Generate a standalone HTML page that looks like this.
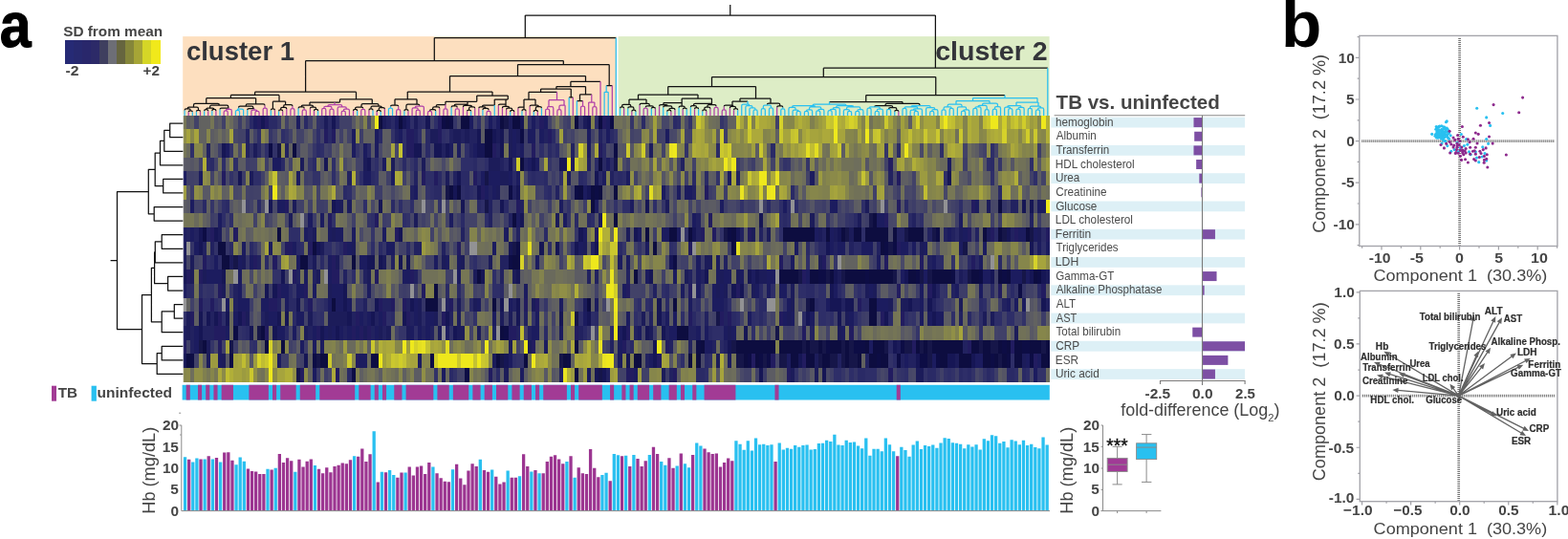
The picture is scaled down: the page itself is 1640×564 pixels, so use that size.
<!DOCTYPE html>
<html lang="en"><head><meta charset="utf-8"><title>Figure: clustering of laboratory parameters, TB vs. uninfected</title>
<style>html,body{margin:0;padding:0;background:#fff}body{width:1640px;height:564px;overflow:hidden}svg{display:block}text{font-family:"Liberation Sans",sans-serif;fill:#454545}.b{font-weight:bold}.d{fill:none;stroke:#111;stroke-width:1.25;stroke-linejoin:round}.dc{fill:none;stroke:#29c0f0;stroke-width:1.25;stroke-linejoin:round}.dm{fill:none;stroke:#b040a8;stroke-width:1.25;stroke-linejoin:round}.ax{fill:none;stroke:#8a8a8a;stroke-width:1}</style></head><body>
<svg width="1640" height="564" viewBox="0 0 1640 564" role="img" aria-label="Heat map of laboratory parameters with hierarchical clustering, haemoglobin bar chart and principal component plots">
<rect width="1640" height="564" fill="#fff"/>
<text class="b" style="fill:#000" font-size="66" transform="translate(-0.27 49) scale(0.8949 1)" xml:space="preserve" stroke="#000" stroke-width="1.1" stroke-linejoin="round">a</text>
<text class="b" style="fill:#000" font-size="69" transform="translate(1339.9 49.4) scale(1.0044 1)" xml:space="preserve">b</text>
<text class="b" font-size="15" transform="translate(66.14 38) scale(1.0244 1)" xml:space="preserve">SD from mean</text>
<g shape-rendering="crispEdges">
<rect x="68" y="42.3" width="9.65" height="24.2" fill="#262a75"/>
<rect x="77.05" y="42.3" width="9.65" height="24.2" fill="#27296f"/>
<rect x="86.09" y="42.3" width="9.65" height="24.2" fill="#29276b"/>
<rect x="95.14" y="42.3" width="9.65" height="24.2" fill="#2c2a68"/>
<rect x="104.18" y="42.3" width="9.65" height="24.2" fill="#3f3f5f"/>
<rect x="113.23" y="42.3" width="9.65" height="24.2" fill="#6d6e76"/>
<rect x="122.27" y="42.3" width="9.65" height="24.2" fill="#66653f"/>
<rect x="131.32" y="42.3" width="9.65" height="24.2" fill="#85863a"/>
<rect x="140.36" y="42.3" width="9.65" height="24.2" fill="#a6a536"/>
<rect x="149.41" y="42.3" width="9.65" height="24.2" fill="#d5d627"/>
<rect x="158.45" y="42.3" width="9.05" height="24.2" fill="#f1e91b"/>
</g>
<text class="b" font-size="14.6" transform="translate(68.57 79) scale(1.0824 1)" xml:space="preserve">-2</text>
<text class="b" font-size="14.6" transform="translate(149.59 79) scale(1.0468 1)" xml:space="preserve">+2</text>
<rect x="191.2" y="38.1" width="453.6" height="83" fill="#fddfbf"/>
<rect x="646.6" y="38.1" width="451" height="83" fill="#ddedc6"/>
<text class="b" style="fill:#34353a" font-size="27.6" transform="translate(194.9 62.8) scale(0.9969 1)" xml:space="preserve">cluster 1</text>
<text class="b" style="fill:#34353a" font-size="27.6" transform="translate(978.16 62.8) scale(1.0357 1)" xml:space="preserve">cluster 2</text>
<defs><filter id="hb" x="-1%" y="-2%" width="102%" height="104%"><feGaussianBlur stdDeviation="0.75 0.55"/></filter></defs>
<g stroke="none" filter="url(#hb)" shape-rendering="crispEdges">
<path fill="#747457" d="M191.1 120.6H195.2V135.3H191.1zM219.8 120.6H223.9V135.3H219.8zM580.8 120.6H584.9V135.3H580.8zM654.6 120.6H658.7V135.3H654.6zM937.6 120.6H941.7V135.3H937.6zM191.1 150H195.2V164.7H191.1zM859.7 150H863.8V164.7H859.7zM892.5 150H896.6V164.7H892.5zM1044.3 150H1048.4V164.7H1044.3zM716.1 164.7H720.2V179.3H716.1zM855.6 164.7H859.7V179.3H855.6zM355.2 179.3H359.3V194H355.2zM671 179.3H675.1V194H671zM835.1 179.3H839.2V194H835.1zM958.1 179.3H962.2V194H958.1zM1015.6 179.3H1019.7V194H1015.6zM273.1 194H277.2V208.7H273.1zM334.7 194H342.9V208.7H334.7zM888.4 194H892.5V208.7H888.4zM900.7 194H904.8V208.7H900.7zM1007.4 194H1011.5V208.7H1007.4zM326.5 208.7H330.6V223.4H326.5zM383.9 208.7H388V223.4H383.9zM630 208.7H634.1V223.4H630zM716.1 208.7H720.2V223.4H716.1zM191.1 223.4H199.3V238.1H191.1zM256.7 223.4H260.8V238.1H256.7zM416.7 223.4H420.8V238.1H416.7zM560.3 223.4H564.4V238.1H560.3zM679.2 223.4H683.3V238.1H679.2zM781.8 223.4H790V238.1H781.8zM831 223.4H835.1V238.1H831zM982.7 223.4H986.9V238.1H982.7zM1060.7 223.4H1064.8V238.1H1060.7zM240.3 238.1H244.4V252.8H240.3zM264.9 238.1H269V252.8H264.9zM273.1 238.1H277.2V252.8H273.1zM293.6 238.1H297.7V252.8H293.6zM371.6 238.1H375.7V252.8H371.6zM424.9 238.1H429V252.8H424.9zM465.9 238.1H470V252.8H465.9zM576.7 238.1H580.8V252.8H576.7zM613.6 238.1H617.7V252.8H613.6zM736.6 238.1H740.7V252.8H736.6zM519.2 252.8H523.3V267.4H519.2zM556.2 252.8H560.3V267.4H556.2zM695.6 252.8H699.7V267.4H695.6zM839.2 252.8H843.3V267.4H839.2zM1048.4 252.8H1052.5V267.4H1048.4zM273.1 267.4H277.2V282.1H273.1zM306 267.4H310.1V282.1H306zM679.2 267.4H683.3V282.1H679.2zM851.5 267.4H855.6V282.1H851.5zM867.9 267.4H872V282.1H867.9zM900.7 267.4H904.8V282.1H900.7zM933.5 267.4H937.6V282.1H933.5zM991 267.4H995.1V282.1H991zM273.1 282.1H277.2V296.8H273.1zM322.4 282.1H326.5V296.8H322.4zM388 282.1H392.1V296.8H388zM396.2 282.1H400.3V296.8H396.2zM461.8 282.1H465.9V296.8H461.8zM617.7 282.1H621.8V296.8H617.7zM658.7 282.1H662.8V296.8H658.7zM699.7 282.1H703.8V296.8H699.7zM740.7 282.1H744.8V296.8H740.7zM203.4 296.8H207.5V311.5H203.4zM256.7 296.8H260.8V311.5H256.7zM470 296.8H474.1V311.5H470zM605.4 296.8H609.5V311.5H605.4zM1015.6 296.8H1019.7V311.5H1015.6zM593.1 311.5H597.2V326.2H593.1zM1007.4 311.5H1011.5V326.2H1007.4zM552.1 326.2H556.2V340.9H552.1zM589 326.2H593.1V340.9H589zM933.5 326.2H937.6V340.9H933.5zM494.6 340.9H498.7V355.5H494.6zM814.6 340.9H818.7V355.5H814.6zM904.8 340.9H908.9V355.5H904.8zM925.3 340.9H929.4V355.5H925.3zM933.5 340.9H937.6V355.5H933.5zM978.6 340.9H986.9V355.5H978.6zM351.1 355.5H355.2V370.2H351.1zM375.7 355.5H379.8V370.2H375.7zM666.9 355.5H671V370.2H666.9zM306 370.2H310.1V384.9H306zM580.8 370.2H584.9V384.9H580.8zM765.4 370.2H769.5V384.9H765.4zM269 384.9H273.1V399.6H269zM383.9 384.9H388V399.6H383.9zM539.8 384.9H543.9V399.6H539.8z"/>
<path fill="#5c5c64" d="M195.2 120.6H199.3V135.3H195.2zM228 120.6H232.1V135.3H228zM252.6 120.6H256.7V135.3H252.6zM301.8 120.6H306V135.3H301.8zM375.7 120.6H379.8V135.3H375.7zM502.8 120.6H506.9V135.3H502.8zM576.7 120.6H580.8V135.3H576.7zM666.9 120.6H671V135.3H666.9zM675.1 120.6H679.2V135.3H675.1zM699.7 120.6H703.8V135.3H699.7zM949.9 120.6H954V135.3H949.9zM219.8 135.3H223.9V150H219.8zM260.8 135.3H264.9V150H260.8zM289.5 135.3H293.6V150H289.5zM359.3 135.3H363.4V150H359.3zM502.8 135.3H506.9V150H502.8zM605.4 135.3H613.6V150H605.4zM679.2 135.3H683.3V150H679.2zM937.6 135.3H941.7V150H937.6zM314.2 150H322.4V164.7H314.2zM347 150H351.1V164.7H347zM359.3 150H363.4V164.7H359.3zM404.4 150H408.5V164.7H404.4zM601.3 150H605.4V164.7H601.3zM675.1 150H679.2V164.7H675.1zM790 150H794.1V164.7H790zM802.3 150H806.4V164.7H802.3zM880.2 150H884.3V164.7H880.2zM970.4 150H974.5V164.7H970.4zM1019.7 150H1023.8V164.7H1019.7zM203.4 164.7H207.5V179.3H203.4zM248.5 164.7H256.7V179.3H248.5zM281.3 164.7H285.4V179.3H281.3zM318.3 164.7H322.4V179.3H318.3zM334.7 164.7H338.8V179.3H334.7zM351.1 164.7H355.2V179.3H351.1zM457.7 164.7H461.8V179.3H457.7zM465.9 164.7H470V179.3H465.9zM474.1 164.7H478.2V179.3H474.1zM679.2 164.7H683.3V179.3H679.2zM687.4 164.7H691.5V179.3H687.4zM790 164.7H794.1V179.3H790zM293.6 179.3H297.7V194H293.6zM396.2 179.3H404.4V194H396.2zM424.9 179.3H429V194H424.9zM744.8 179.3H748.9V194H744.8zM925.3 179.3H929.4V194H925.3zM1003.3 179.3H1007.4V194H1003.3zM1032 179.3H1036.1V194H1032zM1040.2 179.3H1044.3V194H1040.2zM1064.8 179.3H1068.9V194H1064.8zM1085.3 179.3H1089.4V194H1085.3zM293.6 194H297.7V208.7H293.6zM355.2 194H359.3V208.7H355.2zM400.3 194H404.4V208.7H400.3zM416.7 194H420.8V208.7H416.7zM929.4 194H933.5V208.7H929.4zM1036.1 194H1044.3V208.7H1036.1zM1068.9 194H1073V208.7H1068.9zM1085.3 194H1089.4V208.7H1085.3zM191.1 208.7H195.2V223.4H191.1zM248.5 208.7H252.6V223.4H248.5zM301.8 208.7H306V223.4H301.8zM433.1 208.7H437.2V223.4H433.1zM556.2 208.7H560.3V223.4H556.2zM597.2 208.7H601.3V223.4H597.2zM605.4 208.7H609.5V223.4H605.4zM732.5 208.7H736.6V223.4H732.5zM740.7 208.7H748.9V223.4H740.7zM892.5 208.7H896.6V223.4H892.5zM933.5 208.7H937.6V223.4H933.5zM215.7 223.4H219.8V238.1H215.7zM306 223.4H310.1V238.1H306zM338.8 223.4H342.9V238.1H338.8zM502.8 223.4H506.9V238.1H502.8zM556.2 223.4H560.3V238.1H556.2zM695.6 223.4H699.7V238.1H695.6zM707.9 223.4H712V238.1H707.9zM966.3 223.4H974.5V238.1H966.3zM1089.4 223.4H1093.5V238.1H1089.4zM256.7 238.1H260.8V252.8H256.7zM363.4 238.1H367.5V252.8H363.4zM379.8 238.1H388V252.8H379.8zM474.1 238.1H478.2V252.8H474.1zM584.9 238.1H589V252.8H584.9zM658.7 238.1H662.8V252.8H658.7zM777.7 238.1H781.8V252.8H777.7zM482.3 252.8H486.4V267.4H482.3zM613.6 252.8H617.7V267.4H613.6zM687.4 252.8H691.5V267.4H687.4zM974.5 252.8H978.6V267.4H974.5zM1015.6 252.8H1019.7V267.4H1015.6zM363.4 267.4H367.5V282.1H363.4zM556.2 267.4H560.3V282.1H556.2zM605.4 267.4H609.5V282.1H605.4zM658.7 267.4H662.8V282.1H658.7zM835.1 267.4H839.2V282.1H835.1zM954 267.4H958.1V282.1H954zM1032 267.4H1036.1V282.1H1032zM269 282.1H273.1V296.8H269zM416.7 282.1H420.8V296.8H416.7zM543.9 282.1H548V296.8H543.9zM601.3 282.1H609.5V296.8H601.3zM625.9 282.1H630V296.8H625.9zM650.5 282.1H654.6V296.8H650.5zM712 282.1H716.1V296.8H712zM777.7 282.1H781.8V296.8H777.7zM363.4 296.8H367.5V311.5H363.4zM392.1 296.8H396.2V311.5H392.1zM527.4 296.8H531.6V311.5H527.4zM543.9 296.8H548V311.5H543.9zM617.7 296.8H621.8V311.5H617.7zM625.9 296.8H630V311.5H625.9zM646.4 296.8H650.5V311.5H646.4zM781.8 296.8H785.9V311.5H781.8zM863.8 296.8H867.9V311.5H863.8zM884.3 296.8H888.4V311.5H884.3zM921.2 296.8H929.4V311.5H921.2zM1019.7 296.8H1023.8V311.5H1019.7zM1093.5 296.8H1097.6V311.5H1093.5zM264.9 311.5H269V326.2H264.9zM486.4 311.5H490.5V326.2H486.4zM691.5 311.5H695.6V326.2H691.5zM699.7 311.5H703.8V326.2H699.7zM732.5 311.5H736.6V326.2H732.5zM831 311.5H835.1V326.2H831zM1081.2 311.5H1085.3V326.2H1081.2zM264.9 326.2H269V340.9H264.9zM630 326.2H634.1V340.9H630zM699.7 326.2H703.8V340.9H699.7zM831 326.2H835.1V340.9H831zM851.5 326.2H855.6V340.9H851.5zM986.9 326.2H995.1V340.9H986.9zM1077.1 326.2H1081.2V340.9H1077.1zM1085.3 326.2H1089.4V340.9H1085.3zM580.8 340.9H584.9V355.5H580.8zM806.4 340.9H810.5V355.5H806.4zM859.7 340.9H863.8V355.5H859.7zM949.9 340.9H954V355.5H949.9zM1056.6 340.9H1060.7V355.5H1056.6zM256.7 355.5H260.8V370.2H256.7zM273.1 355.5H277.2V370.2H273.1zM310.1 355.5H314.2V370.2H310.1zM383.9 355.5H388V370.2H383.9zM605.4 355.5H609.5V370.2H605.4zM671 355.5H675.1V370.2H671zM703.8 355.5H707.9V370.2H703.8zM724.3 355.5H728.4V370.2H724.3zM211.6 370.2H215.7V384.9H211.6zM671 370.2H675.1V384.9H671zM396.2 384.9H400.3V399.6H396.2zM433.1 384.9H441.3V399.6H433.1zM523.3 384.9H527.4V399.6H523.3zM548 384.9H552.1V399.6H548zM580.8 384.9H584.9V399.6H580.8zM707.9 384.9H712V399.6H707.9zM802.3 384.9H810.5V399.6H802.3zM818.7 384.9H822.8V399.6H818.7zM1044.3 384.9H1048.4V399.6H1044.3z"/>
<path fill="#626261" d="M199.3 120.6H203.4V135.3H199.3zM207.5 120.6H219.8V135.3H207.5zM761.3 120.6H769.5V135.3H761.3zM207.5 135.3H215.7V150H207.5zM223.9 135.3H228V150H223.9zM306 135.3H310.1V150H306zM322.4 135.3H326.5V150H322.4zM379.8 135.3H392.1V150H379.8zM441.3 135.3H445.4V150H441.3zM211.6 150H215.7V164.7H211.6zM301.8 150H306V164.7H301.8zM474.1 150H478.2V164.7H474.1zM933.5 150H937.6V164.7H933.5zM1015.6 150H1019.7V164.7H1015.6zM367.5 164.7H371.6V179.3H367.5zM831 164.7H835.1V179.3H831zM933.5 164.7H937.6V179.3H933.5zM1040.2 164.7H1044.3V179.3H1040.2zM338.8 179.3H342.9V194H338.8zM732.5 179.3H736.6V194H732.5zM236.2 194H240.3V208.7H236.2zM375.7 194H383.9V208.7H375.7zM441.3 194H445.4V208.7H441.3zM634.1 194H638.2V208.7H634.1zM671 194H675.1V208.7H671zM1003.3 194H1007.4V208.7H1003.3zM215.7 208.7H219.8V223.4H215.7zM244.4 208.7H248.5V223.4H244.4zM359.3 208.7H363.4V223.4H359.3zM576.7 208.7H580.8V223.4H576.7zM671 208.7H675.1V223.4H671zM679.2 208.7H683.3V223.4H679.2zM929.4 208.7H933.5V223.4H929.4zM970.4 208.7H974.5V223.4H970.4zM211.6 223.4H215.7V238.1H211.6zM330.6 223.4H334.7V238.1H330.6zM379.8 223.4H383.9V238.1H379.8zM798.2 223.4H802.3V238.1H798.2zM1040.2 223.4H1044.3V238.1H1040.2zM1068.9 223.4H1073V238.1H1068.9zM359.3 238.1H363.4V252.8H359.3zM433.1 238.1H437.2V252.8H433.1zM982.7 238.1H986.9V252.8H982.7zM1023.8 238.1H1027.9V252.8H1023.8zM392.1 267.4H396.2V282.1H392.1zM429 267.4H433.1V282.1H429zM634.1 267.4H638.2V282.1H634.1zM753 267.4H757.1V282.1H753zM884.3 267.4H896.6V282.1H884.3zM548 282.1H552.1V296.8H548zM236.2 296.8H240.3V311.5H236.2zM273.1 296.8H277.2V311.5H273.1zM400.3 296.8H404.4V311.5H400.3zM412.6 296.8H416.7V311.5H412.6zM461.8 296.8H465.9V311.5H461.8zM552.1 296.8H556.2V311.5H552.1zM613.6 296.8H617.7V311.5H613.6zM707.9 296.8H712V311.5H707.9zM736.6 296.8H740.7V311.5H736.6zM195.2 311.5H199.3V326.2H195.2zM269 311.5H273.1V326.2H269zM511 311.5H515.1V326.2H511zM580.8 311.5H584.9V326.2H580.8zM671 311.5H675.1V326.2H671zM716.1 311.5H720.2V326.2H716.1zM769.5 311.5H773.6V326.2H769.5zM785.9 311.5H790V326.2H785.9zM519.2 326.2H523.3V340.9H519.2zM625.9 326.2H630V340.9H625.9zM658.7 326.2H662.8V340.9H658.7zM777.7 326.2H781.8V340.9H777.7zM966.3 326.2H970.4V340.9H966.3zM1081.2 326.2H1085.3V340.9H1081.2zM564.4 340.9H568.5V355.5H564.4zM781.8 340.9H785.9V355.5H781.8zM248.5 355.5H252.6V370.2H248.5zM597.2 370.2H601.3V384.9H597.2zM716.1 370.2H720.2V384.9H716.1zM900.7 370.2H904.8V384.9H900.7zM322.4 384.9H326.5V399.6H322.4zM531.6 384.9H535.7V399.6H531.6zM814.6 384.9H818.7V399.6H814.6zM855.6 384.9H859.7V399.6H855.6zM1064.8 384.9H1068.9V399.6H1064.8z"/>
<path fill="#434368" d="M203.4 120.6H207.5V135.3H203.4zM256.7 120.6H260.8V135.3H256.7zM297.7 120.6H301.8V135.3H297.7zM449.5 120.6H453.6V135.3H449.5zM494.6 120.6H498.7V135.3H494.6zM572.6 120.6H576.7V135.3H572.6zM589 120.6H593.1V135.3H589zM248.5 135.3H256.7V150H248.5zM264.9 135.3H269V150H264.9zM285.4 135.3H289.5V150H285.4zM301.8 135.3H306V150H301.8zM310.1 135.3H318.3V150H310.1zM326.5 135.3H330.6V150H326.5zM334.7 135.3H338.8V150H334.7zM363.4 135.3H367.5V150H363.4zM527.4 135.3H531.6V150H527.4zM560.3 135.3H564.4V150H560.3zM597.2 135.3H601.3V150H597.2zM617.7 135.3H621.8V150H617.7zM658.7 135.3H662.8V150H658.7zM691.5 135.3H695.6V150H691.5zM716.1 135.3H720.2V150H716.1zM273.1 150H277.2V164.7H273.1zM310.1 150H314.2V164.7H310.1zM338.8 150H342.9V164.7H338.8zM375.7 150H379.8V164.7H375.7zM449.5 150H453.6V164.7H449.5zM638.2 150H642.3V164.7H638.2zM691.5 150H695.6V164.7H691.5zM1007.4 150H1011.5V164.7H1007.4zM1027.9 150H1032V164.7H1027.9zM1040.2 150H1044.3V164.7H1040.2zM207.5 164.7H211.6V179.3H207.5zM223.9 164.7H228V179.3H223.9zM301.8 164.7H306V179.3H301.8zM371.6 164.7H379.8V179.3H371.6zM396.2 164.7H400.3V179.3H396.2zM576.7 164.7H580.8V179.3H576.7zM724.3 164.7H728.4V179.3H724.3zM806.4 164.7H810.5V179.3H806.4zM814.6 164.7H818.7V179.3H814.6zM925.3 164.7H929.4V179.3H925.3zM203.4 179.3H207.5V194H203.4zM219.8 179.3H223.9V194H219.8zM273.1 179.3H277.2V194H273.1zM470 179.3H474.1V194H470zM613.6 179.3H617.7V194H613.6zM662.8 179.3H666.9V194H662.8zM843.3 179.3H847.4V194H843.3zM954 179.3H958.1V194H954zM1089.4 179.3H1093.5V194H1089.4zM256.7 194H260.8V208.7H256.7zM264.9 194H273.1V208.7H264.9zM330.6 194H334.7V208.7H330.6zM564.4 194H568.5V208.7H564.4zM576.7 194H580.8V208.7H576.7zM597.2 194H601.3V208.7H597.2zM675.1 194H679.2V208.7H675.1zM703.8 194H707.9V208.7H703.8zM744.8 194H748.9V208.7H744.8zM954 194H958.1V208.7H954zM203.4 208.7H211.6V223.4H203.4zM260.8 208.7H264.9V223.4H260.8zM310.1 208.7H314.2V223.4H310.1zM322.4 208.7H326.5V223.4H322.4zM420.8 208.7H429V223.4H420.8zM449.5 208.7H453.6V223.4H449.5zM531.6 208.7H535.7V223.4H531.6zM634.1 208.7H638.2V223.4H634.1zM720.2 208.7H724.3V223.4H720.2zM728.4 208.7H732.5V223.4H728.4zM777.7 208.7H781.8V223.4H777.7zM806.4 208.7H810.5V223.4H806.4zM835.1 208.7H839.2V223.4H835.1zM851.5 208.7H859.7V223.4H851.5zM949.9 208.7H954V223.4H949.9zM966.3 208.7H970.4V223.4H966.3zM995.1 208.7H999.2V223.4H995.1zM223.9 223.4H228V238.1H223.9zM236.2 223.4H240.3V238.1H236.2zM264.9 223.4H269V238.1H264.9zM453.6 223.4H457.7V238.1H453.6zM465.9 223.4H470V238.1H465.9zM486.4 223.4H498.7V238.1H486.4zM835.1 223.4H839.2V238.1H835.1zM880.2 223.4H884.3V238.1H880.2zM900.7 223.4H904.8V238.1H900.7zM236.2 238.1H240.3V252.8H236.2zM449.5 238.1H453.6V252.8H449.5zM798.2 238.1H802.3V252.8H798.2zM966.3 238.1H970.4V252.8H966.3zM1015.6 238.1H1019.7V252.8H1015.6zM293.6 252.8H297.7V267.4H293.6zM416.7 252.8H424.9V267.4H416.7zM429 252.8H433.1V267.4H429zM474.1 252.8H478.2V267.4H474.1zM818.7 252.8H822.8V267.4H818.7zM884.3 252.8H888.4V267.4H884.3zM1019.7 252.8H1023.8V267.4H1019.7zM203.4 267.4H207.5V282.1H203.4zM289.5 267.4H293.6V282.1H289.5zM330.6 267.4H334.7V282.1H330.6zM338.8 267.4H342.9V282.1H338.8zM445.4 267.4H453.6V282.1H445.4zM457.7 267.4H461.8V282.1H457.7zM502.8 267.4H511V282.1H502.8zM666.9 267.4H671V282.1H666.9zM769.5 267.4H773.6V282.1H769.5zM818.7 267.4H822.8V282.1H818.7zM863.8 267.4H867.9V282.1H863.8zM1052.5 267.4H1056.6V282.1H1052.5zM937.6 282.1H941.7V296.8H937.6zM1040.2 282.1H1044.3V296.8H1040.2zM223.9 296.8H228V311.5H223.9zM433.1 296.8H437.2V311.5H433.1zM494.6 296.8H498.7V311.5H494.6zM621.8 296.8H625.9V311.5H621.8zM658.7 296.8H671V311.5H658.7zM761.3 296.8H765.4V311.5H761.3zM777.7 296.8H781.8V311.5H777.7zM798.2 296.8H802.3V311.5H798.2zM917.1 296.8H921.2V311.5H917.1zM1073 296.8H1081.2V311.5H1073zM326.5 311.5H330.6V326.2H326.5zM388 311.5H392.1V326.2H388zM601.3 311.5H605.4V326.2H601.3zM630 311.5H634.1V326.2H630zM736.6 311.5H740.7V326.2H736.6zM835.1 311.5H839.2V326.2H835.1zM966.3 311.5H970.4V326.2H966.3zM986.9 311.5H991V326.2H986.9zM1056.6 311.5H1060.7V326.2H1056.6zM318.3 326.2H322.4V340.9H318.3zM457.7 326.2H461.8V340.9H457.7zM486.4 326.2H490.5V340.9H486.4zM527.4 326.2H531.6V340.9H527.4zM535.7 326.2H539.8V340.9H535.7zM576.7 326.2H580.8V340.9H576.7zM732.5 326.2H736.6V340.9H732.5zM744.8 326.2H748.9V340.9H744.8zM773.6 326.2H777.7V340.9H773.6zM806.4 326.2H810.5V340.9H806.4zM880.2 326.2H884.3V340.9H880.2zM917.1 326.2H921.2V340.9H917.1zM1060.7 326.2H1068.9V340.9H1060.7zM310.1 340.9H314.2V355.5H310.1zM490.5 340.9H494.6V355.5H490.5zM506.9 340.9H511V355.5H506.9zM621.8 340.9H625.9V355.5H621.8zM732.5 340.9H736.6V355.5H732.5zM818.7 340.9H822.8V355.5H818.7zM826.9 340.9H831V355.5H826.9zM863.8 340.9H867.9V355.5H863.8zM1040.2 340.9H1044.3V355.5H1040.2zM232.1 355.5H236.2V370.2H232.1zM539.8 355.5H543.9V370.2H539.8zM203.4 370.2H207.5V384.9H203.4zM314.2 370.2H318.3V384.9H314.2zM478.2 384.9H486.4V399.6H478.2zM515.1 384.9H519.2V399.6H515.1zM646.4 384.9H654.6V399.6H646.4zM777.7 384.9H785.9V399.6H777.7zM925.3 384.9H929.4V399.6H925.3zM933.5 384.9H937.6V399.6H933.5z"/>
<path fill="#545465" d="M223.9 120.6H228V135.3H223.9zM584.9 120.6H589V135.3H584.9zM601.3 135.3H605.4V150H601.3zM621.8 135.3H625.9V150H621.8zM351.1 150H355.2V164.7H351.1zM482.3 150H486.4V164.7H482.3zM584.9 150H589V164.7H584.9zM617.7 150H621.8V164.7H617.7zM650.5 150H654.6V164.7H650.5zM658.7 150H662.8V164.7H658.7zM199.3 164.7H203.4V179.3H199.3zM363.4 164.7H367.5V179.3H363.4zM564.4 164.7H568.5V179.3H564.4zM617.7 164.7H621.8V179.3H617.7zM699.7 164.7H703.8V179.3H699.7zM835.1 164.7H839.2V179.3H835.1zM904.8 164.7H908.9V179.3H904.8zM1027.9 164.7H1032V179.3H1027.9zM1056.6 164.7H1060.7V179.3H1056.6zM228 179.3H232.1V194H228zM342.9 179.3H347V194H342.9zM490.5 179.3H494.6V194H490.5zM617.7 179.3H621.8V194H617.7zM691.5 179.3H695.6V194H691.5zM851.5 179.3H855.6V194H851.5zM908.9 179.3H913V194H908.9zM318.3 194H322.4V208.7H318.3zM412.6 194H416.7V208.7H412.6zM638.2 194H642.3V208.7H638.2zM925.3 194H929.4V208.7H925.3zM1073 194H1077.1V208.7H1073zM223.9 208.7H228V223.4H223.9zM240.3 208.7H244.4V223.4H240.3zM474.1 208.7H478.2V223.4H474.1zM560.3 208.7H564.4V223.4H560.3zM687.4 208.7H691.5V223.4H687.4zM748.9 208.7H753V223.4H748.9zM847.4 208.7H851.5V223.4H847.4zM941.7 208.7H945.8V223.4H941.7zM978.6 208.7H986.9V223.4H978.6zM1073 208.7H1077.1V223.4H1073zM523.3 223.4H527.4V238.1H523.3zM568.5 223.4H572.6V238.1H568.5zM621.8 223.4H625.9V238.1H621.8zM699.7 223.4H703.8V238.1H699.7zM712 223.4H716.1V238.1H712zM732.5 223.4H736.6V238.1H732.5zM232.1 238.1H236.2V252.8H232.1zM457.7 238.1H461.8V252.8H457.7zM470 238.1H474.1V252.8H470zM478.2 238.1H482.3V252.8H478.2zM650.5 238.1H654.6V252.8H650.5zM256.7 252.8H260.8V267.4H256.7zM392.1 252.8H396.2V267.4H392.1zM470 252.8H474.1V267.4H470zM835.1 252.8H839.2V267.4H835.1zM1011.5 252.8H1015.6V267.4H1011.5zM281.3 267.4H285.4V282.1H281.3zM404.4 267.4H408.5V282.1H404.4zM564.4 267.4H568.5V282.1H564.4zM589 267.4H593.1V282.1H589zM790 267.4H794.1V282.1H790zM921.2 267.4H925.3V282.1H921.2zM396.2 296.8H400.3V311.5H396.2zM408.5 296.8H412.6V311.5H408.5zM539.8 296.8H543.9V311.5H539.8zM687.4 296.8H691.5V311.5H687.4zM740.7 296.8H744.8V311.5H740.7zM831 296.8H835.1V311.5H831zM502.8 311.5H506.9V326.2H502.8zM543.9 311.5H548V326.2H543.9zM765.4 311.5H769.5V326.2H765.4zM777.7 311.5H781.8V326.2H777.7zM1019.7 311.5H1023.8V326.2H1019.7zM1077.1 311.5H1081.2V326.2H1077.1zM269 326.2H273.1V340.9H269zM716.1 326.2H720.2V340.9H716.1zM502.8 340.9H506.9V355.5H502.8zM831 340.9H835.1V355.5H831zM252.6 355.5H256.7V370.2H252.6zM260.8 370.2H264.9V384.9H260.8zM699.7 370.2H703.8V384.9H699.7zM576.7 384.9H580.8V399.6H576.7zM748.9 384.9H753V399.6H748.9zM1048.4 384.9H1052.5V399.6H1048.4z"/>
<path fill="#404068" d="M232.1 120.6H236.2V135.3H232.1zM322.4 120.6H326.5V135.3H322.4zM355.2 120.6H367.5V135.3H355.2zM757.1 120.6H761.3V135.3H757.1zM810.5 120.6H814.6V135.3H810.5zM355.2 135.3H359.3V150H355.2zM589 135.3H593.1V150H589zM687.4 135.3H691.5V150H687.4zM720.2 135.3H724.3V150H720.2zM548 150H556.2V164.7H548zM560.3 150H564.4V164.7H560.3zM568.5 150H572.6V164.7H568.5zM260.8 164.7H269V179.3H260.8zM416.7 164.7H420.8V179.3H416.7zM424.9 164.7H429V179.3H424.9zM580.8 164.7H584.9V179.3H580.8zM707.9 164.7H712V179.3H707.9zM195.2 179.3H203.4V194H195.2zM322.4 179.3H326.5V194H322.4zM371.6 179.3H375.7V194H371.6zM404.4 179.3H408.5V194H404.4zM420.8 179.3H424.9V194H420.8zM716.1 179.3H720.2V194H716.1zM1077.1 179.3H1081.2V194H1077.1zM260.8 194H264.9V208.7H260.8zM281.3 194H285.4V208.7H281.3zM560.3 194H564.4V208.7H560.3zM913 194H917.1V208.7H913zM228 208.7H232.1V223.4H228zM314.2 208.7H318.3V223.4H314.2zM338.8 208.7H342.9V223.4H338.8zM465.9 208.7H470V223.4H465.9zM535.7 208.7H539.8V223.4H535.7zM552.1 208.7H556.2V223.4H552.1zM769.5 208.7H773.6V223.4H769.5zM810.5 208.7H814.6V223.4H810.5zM839.2 208.7H843.3V223.4H839.2zM876.1 208.7H880.2V223.4H876.1zM884.3 208.7H888.4V223.4H884.3zM913 208.7H917.1V223.4H913zM277.2 223.4H281.3V238.1H277.2zM318.3 223.4H322.4V238.1H318.3zM367.5 223.4H371.6V238.1H367.5zM404.4 223.4H408.5V238.1H404.4zM441.3 223.4H445.4V238.1H441.3zM564.4 223.4H568.5V238.1H564.4zM703.8 223.4H707.9V238.1H703.8zM876.1 223.4H880.2V238.1H876.1zM999.2 223.4H1003.3V238.1H999.2zM1036.1 223.4H1040.2V238.1H1036.1zM486.4 238.1H490.5V252.8H486.4zM535.7 238.1H539.8V252.8H535.7zM486.4 252.8H490.5V267.4H486.4zM584.9 252.8H589V267.4H584.9zM671 252.8H675.1V267.4H671zM913 252.8H917.1V267.4H913zM584.9 267.4H589V282.1H584.9zM712 267.4H720.2V282.1H712zM765.4 267.4H769.5V282.1H765.4zM781.8 267.4H785.9V282.1H781.8zM822.8 267.4H826.9V282.1H822.8zM1003.3 267.4H1007.4V282.1H1003.3zM297.7 282.1H301.8V296.8H297.7zM363.4 282.1H367.5V296.8H363.4zM437.2 282.1H441.3V296.8H437.2zM465.9 282.1H474.1V296.8H465.9zM691.5 282.1H695.6V296.8H691.5zM724.3 282.1H728.4V296.8H724.3zM264.9 296.8H269V311.5H264.9zM416.7 296.8H420.8V311.5H416.7zM424.9 296.8H429V311.5H424.9zM482.3 296.8H486.4V311.5H482.3zM502.8 296.8H506.9V311.5H502.8zM671 296.8H675.1V311.5H671zM679.2 296.8H683.3V311.5H679.2zM703.8 296.8H707.9V311.5H703.8zM822.8 296.8H826.9V311.5H822.8zM199.3 311.5H203.4V326.2H199.3zM457.7 311.5H461.8V326.2H457.7zM506.9 311.5H511V326.2H506.9zM991 311.5H995.1V326.2H991zM568.5 326.2H572.6V340.9H568.5zM872 326.2H876.1V340.9H872zM904.8 326.2H908.9V340.9H904.8zM1015.6 326.2H1019.7V340.9H1015.6zM1048.4 326.2H1052.5V340.9H1048.4zM412.6 340.9H416.7V355.5H412.6zM548 340.9H552.1V355.5H548zM822.8 340.9H826.9V355.5H822.8zM896.6 340.9H900.7V355.5H896.6zM1044.3 340.9H1052.5V355.5H1044.3zM195.2 355.5H199.3V370.2H195.2zM301.8 355.5H306V370.2H301.8zM634.1 355.5H638.2V370.2H634.1zM707.9 370.2H712V384.9H707.9zM671 384.9H679.2V399.6H671zM790 384.9H794.1V399.6H790zM867.9 384.9H872V399.6H867.9zM884.3 384.9H888.4V399.6H884.3zM917.1 384.9H921.2V399.6H917.1zM982.7 384.9H986.9V399.6H982.7zM1023.8 384.9H1027.9V399.6H1023.8z"/>
<path fill="#777755" d="M236.2 120.6H240.3V135.3H236.2zM388 120.6H392.1V135.3H388zM548 120.6H552.1V135.3H548zM597.2 120.6H601.3V135.3H597.2zM277.2 135.3H281.3V150H277.2zM355.2 150H359.3V164.7H355.2zM527.4 150H531.6V164.7H527.4zM687.4 150H691.5V164.7H687.4zM720.2 150H724.3V164.7H720.2zM814.6 150H818.7V164.7H814.6zM269 164.7H273.1V179.3H269zM470 164.7H474.1V179.3H470zM720.2 164.7H724.3V179.3H720.2zM917.1 164.7H921.2V179.3H917.1zM1015.6 164.7H1019.7V179.3H1015.6zM1052.5 164.7H1056.6V179.3H1052.5zM1060.7 164.7H1064.8V179.3H1060.7zM773.6 179.3H777.7V194H773.6zM831 179.3H835.1V194H831zM1023.8 179.3H1027.9V194H1023.8zM388 194H392.1V208.7H388zM728.4 194H732.5V208.7H728.4zM991 194H999.2V208.7H991zM199.3 223.4H203.4V238.1H199.3zM207.5 223.4H211.6V238.1H207.5zM260.8 223.4H264.9V238.1H260.8zM351.1 223.4H355.2V238.1H351.1zM552.1 223.4H556.2V238.1H552.1zM584.9 223.4H589V238.1H584.9zM675.1 223.4H679.2V238.1H675.1zM736.6 223.4H740.7V238.1H736.6zM802.3 223.4H806.4V238.1H802.3zM978.6 223.4H982.7V238.1H978.6zM1007.4 223.4H1011.5V238.1H1007.4zM252.6 238.1H256.7V252.8H252.6zM330.6 238.1H334.7V252.8H330.6zM404.4 238.1H412.6V252.8H404.4zM506.9 238.1H511V252.8H506.9zM515.1 238.1H519.2V252.8H515.1zM531.6 238.1H535.7V252.8H531.6zM556.2 238.1H560.3V252.8H556.2zM572.6 238.1H576.7V252.8H572.6zM375.7 252.8H383.9V267.4H375.7zM453.6 252.8H457.7V267.4H453.6zM658.7 252.8H662.8V267.4H658.7zM736.6 252.8H740.7V267.4H736.6zM826.9 252.8H831V267.4H826.9zM437.2 267.4H441.3V282.1H437.2zM519.2 267.4H523.3V282.1H519.2zM773.6 267.4H777.7V282.1H773.6zM806.4 267.4H810.5V282.1H806.4zM831 267.4H835.1V282.1H831zM839.2 267.4H843.3V282.1H839.2zM1056.6 267.4H1060.7V282.1H1056.6zM264.9 282.1H269V296.8H264.9zM371.6 282.1H375.7V296.8H371.6zM400.3 282.1H404.4V296.8H400.3zM457.7 282.1H461.8V296.8H457.7zM482.3 282.1H490.5V296.8H482.3zM511 282.1H515.1V296.8H511zM531.6 282.1H535.7V296.8H531.6zM556.2 282.1H564.4V296.8H556.2zM490.5 296.8H494.6V311.5H490.5zM564.4 296.8H568.5V311.5H564.4zM1011.5 296.8H1015.6V311.5H1011.5zM638.2 311.5H642.3V326.2H638.2zM654.6 311.5H658.7V326.2H654.6zM683.3 311.5H687.4V326.2H683.3zM810.5 311.5H814.6V326.2H810.5zM301.8 326.2H306V340.9H301.8zM498.7 326.2H506.9V340.9H498.7zM810.5 326.2H814.6V340.9H810.5zM937.6 326.2H941.7V340.9H937.6zM589 340.9H593.1V355.5H589zM630 340.9H638.2V355.5H630zM908.9 340.9H913V355.5H908.9zM921.2 340.9H925.3V355.5H921.2zM974.5 340.9H978.6V355.5H974.5zM1011.5 340.9H1015.6V355.5H1011.5zM564.4 355.5H568.5V370.2H564.4zM584.9 355.5H589V370.2H584.9zM351.1 370.2H359.3V384.9H351.1zM215.7 384.9H219.8V399.6H215.7zM223.9 384.9H228V399.6H223.9zM388 384.9H392.1V399.6H388zM404.4 384.9H408.5V399.6H404.4zM457.7 384.9H461.8V399.6H457.7zM498.7 384.9H502.8V399.6H498.7z"/>
<path fill="#6b6b5c" d="M240.3 120.6H244.4V135.3H240.3zM650.5 120.6H654.6V135.3H650.5zM679.2 120.6H683.3V135.3H679.2zM724.3 120.6H728.4V135.3H724.3zM748.9 120.6H753V135.3H748.9zM236.2 135.3H240.3V150H236.2zM195.2 150H199.3V164.7H195.2zM913 150H917.1V164.7H913zM1089.4 150H1093.5V164.7H1089.4zM449.5 164.7H453.6V179.3H449.5zM666.9 164.7H671V179.3H666.9zM859.7 164.7H863.8V179.3H859.7zM921.2 164.7H925.3V179.3H921.2zM982.7 164.7H991V179.3H982.7zM1048.4 164.7H1052.5V179.3H1048.4zM1073 164.7H1077.1V179.3H1073zM223.9 179.3H228V194H223.9zM675.1 179.3H679.2V194H675.1zM695.6 179.3H699.7V194H695.6zM826.9 179.3H831V194H826.9zM888.4 179.3H892.5V194H888.4zM1073 179.3H1077.1V194H1073zM371.6 194H375.7V208.7H371.6zM658.7 194H662.8V208.7H658.7zM732.5 194H736.6V208.7H732.5zM810.5 194H814.6V208.7H810.5zM904.8 194H908.9V208.7H904.8zM962.2 194H966.3V208.7H962.2zM318.3 208.7H322.4V223.4H318.3zM404.4 208.7H408.5V223.4H404.4zM712 208.7H716.1V223.4H712zM203.4 223.4H207.5V238.1H203.4zM248.5 223.4H252.6V238.1H248.5zM310.1 223.4H314.2V238.1H310.1zM548 223.4H552.1V238.1H548zM650.5 223.4H654.6V238.1H650.5zM666.9 223.4H675.1V238.1H666.9zM687.4 223.4H691.5V238.1H687.4zM765.4 223.4H769.5V238.1H765.4zM790 223.4H794.1V238.1H790zM843.3 223.4H847.4V238.1H843.3zM986.9 223.4H991V238.1H986.9zM1015.6 223.4H1019.7V238.1H1015.6zM281.3 238.1H285.4V252.8H281.3zM334.7 238.1H342.9V252.8H334.7zM519.2 238.1H523.3V252.8H519.2zM548 238.1H552.1V252.8H548zM638.2 238.1H642.3V252.8H638.2zM671 238.1H675.1V252.8H671zM790 238.1H794.1V252.8H790zM806.4 238.1H810.5V252.8H806.4zM215.7 252.8H219.8V267.4H215.7zM371.6 252.8H375.7V267.4H371.6zM806.4 252.8H810.5V267.4H806.4zM814.6 252.8H818.7V267.4H814.6zM982.7 252.8H991V267.4H982.7zM474.1 267.4H478.2V282.1H474.1zM515.1 267.4H519.2V282.1H515.1zM720.2 267.4H724.3V282.1H720.2zM847.4 267.4H851.5V282.1H847.4zM880.2 267.4H884.3V282.1H880.2zM277.2 282.1H281.3V296.8H277.2zM527.4 282.1H531.6V296.8H527.4zM568.5 282.1H580.8V296.8H568.5zM593.1 282.1H601.3V296.8H593.1zM687.4 282.1H691.5V296.8H687.4zM572.6 296.8H576.7V311.5H572.6zM609.5 296.8H613.6V311.5H609.5zM941.7 296.8H945.8V311.5H941.7zM650.5 311.5H654.6V326.2H650.5zM1040.2 311.5H1044.3V326.2H1040.2zM240.3 326.2H244.4V340.9H240.3zM412.6 326.2H416.7V340.9H412.6zM572.6 326.2H576.7V340.9H572.6zM580.8 326.2H584.9V340.9H580.8zM1007.4 326.2H1011.5V340.9H1007.4zM240.3 340.9H244.4V355.5H240.3zM572.6 340.9H576.7V355.5H572.6zM687.4 340.9H691.5V355.5H687.4zM769.5 340.9H773.6V355.5H769.5zM913 340.9H917.1V355.5H913zM1032 340.9H1036.1V355.5H1032zM355.2 355.5H359.3V370.2H355.2zM363.4 355.5H371.6V370.2H363.4zM716.1 355.5H720.2V370.2H716.1zM748.9 355.5H753V370.2H748.9zM383.9 370.2H388V384.9H383.9zM359.3 384.9H363.4V399.6H359.3zM379.8 384.9H383.9V399.6H379.8zM392.1 384.9H396.2V399.6H392.1zM412.6 384.9H416.7V399.6H412.6zM465.9 384.9H470V399.6H465.9zM502.8 384.9H506.9V399.6H502.8zM740.7 384.9H744.8V399.6H740.7zM761.3 384.9H765.4V399.6H761.3zM810.5 384.9H814.6V399.6H810.5zM1093.5 384.9H1097.6V399.6H1093.5z"/>
<path fill="#585865" d="M244.4 120.6H248.5V135.3H244.4zM306 120.6H310.1V135.3H306zM314.2 120.6H318.3V135.3H314.2zM367.5 120.6H371.6V135.3H367.5zM318.3 135.3H322.4V150H318.3zM351.1 135.3H355.2V150H351.1zM748.9 135.3H753V150H748.9zM223.9 150H228V164.7H223.9zM388 150H392.1V164.7H388zM646.4 150H650.5V164.7H646.4zM191.1 164.7H199.3V179.3H191.1zM478.2 164.7H482.3V179.3H478.2zM777.7 164.7H781.8V179.3H777.7zM826.9 164.7H831V179.3H826.9zM851.5 164.7H855.6V179.3H851.5zM1085.3 164.7H1089.4V179.3H1085.3zM297.7 179.3H301.8V194H297.7zM334.7 179.3H338.8V194H334.7zM437.2 179.3H441.3V194H437.2zM597.2 179.3H605.4V194H597.2zM679.2 179.3H683.3V194H679.2zM949.9 179.3H954V194H949.9zM1007.4 179.3H1011.5V194H1007.4zM195.2 194H199.3V208.7H195.2zM211.6 194H219.8V208.7H211.6zM322.4 194H326.5V208.7H322.4zM351.1 194H355.2V208.7H351.1zM404.4 194H408.5V208.7H404.4zM437.2 194H441.3V208.7H437.2zM461.8 194H465.9V208.7H461.8zM593.1 194H597.2V208.7H593.1zM630 194H634.1V208.7H630zM699.7 194H703.8V208.7H699.7zM712 194H716.1V208.7H712zM839.2 194H843.3V208.7H839.2zM195.2 208.7H199.3V223.4H195.2zM264.9 208.7H269V223.4H264.9zM371.6 208.7H379.8V223.4H371.6zM568.5 208.7H572.6V223.4H568.5zM662.8 208.7H666.9V223.4H662.8zM736.6 208.7H740.7V223.4H736.6zM285.4 223.4H289.5V238.1H285.4zM363.4 223.4H367.5V238.1H363.4zM872 223.4H876.1V238.1H872zM1073 223.4H1077.1V238.1H1073zM560.3 238.1H564.4V252.8H560.3zM412.6 252.8H416.7V267.4H412.6zM1068.9 252.8H1073V267.4H1068.9zM359.3 267.4H363.4V282.1H359.3zM371.6 267.4H375.7V282.1H371.6zM486.4 267.4H490.5V282.1H486.4zM601.3 267.4H605.4V282.1H601.3zM777.7 267.4H781.8V282.1H777.7zM785.9 267.4H790V282.1H785.9zM1060.7 267.4H1064.8V282.1H1060.7zM490.5 282.1H494.6V296.8H490.5zM269 296.8H273.1V311.5H269zM457.7 296.8H461.8V311.5H457.7zM511 296.8H515.1V311.5H511zM954 296.8H958.1V311.5H954zM966.3 296.8H970.4V311.5H966.3zM203.4 311.5H207.5V326.2H203.4zM293.6 311.5H297.7V326.2H293.6zM412.6 311.5H416.7V326.2H412.6zM572.6 311.5H576.7V326.2H572.6zM740.7 311.5H744.8V326.2H740.7zM1015.6 311.5H1019.7V326.2H1015.6zM543.9 326.2H548V340.9H543.9zM634.1 326.2H638.2V340.9H634.1zM650.5 326.2H654.6V340.9H650.5zM1073 326.2H1077.1V340.9H1073zM453.6 340.9H457.7V355.5H453.6zM855.6 340.9H859.7V355.5H855.6zM892.5 340.9H896.6V355.5H892.5zM941.7 340.9H945.8V355.5H941.7zM1007.4 340.9H1011.5V355.5H1007.4zM1077.1 340.9H1081.2V355.5H1077.1zM543.9 355.5H548V370.2H543.9zM679.2 355.5H683.3V370.2H679.2zM236.2 370.2H240.3V384.9H236.2zM506.9 384.9H511V399.6H506.9zM568.5 384.9H572.6V399.6H568.5zM769.5 384.9H773.6V399.6H769.5zM847.4 384.9H851.5V399.6H847.4z"/>
<path fill="#3d3d68" d="M248.5 120.6H252.6V135.3H248.5zM593.1 120.6H597.2V135.3H593.1zM375.7 135.3H379.8V150H375.7zM548 135.3H552.1V150H548zM757.1 135.3H761.3V150H757.1zM228 150H232.1V164.7H228zM342.9 150H347V164.7H342.9zM1085.3 150H1089.4V164.7H1085.3zM256.7 164.7H260.8V179.3H256.7zM277.2 164.7H281.3V179.3H277.2zM654.6 164.7H658.7V179.3H654.6zM769.5 164.7H773.6V179.3H769.5zM785.9 164.7H790V179.3H785.9zM1007.4 164.7H1011.5V179.3H1007.4zM244.4 179.3H248.5V194H244.4zM252.6 179.3H256.7V194H252.6zM318.3 179.3H322.4V194H318.3zM429 179.3H433.1V194H429zM461.8 179.3H465.9V194H461.8zM576.7 179.3H580.8V194H576.7zM199.3 194H203.4V208.7H199.3zM392.1 194H400.3V208.7H392.1zM740.7 194H744.8V208.7H740.7zM757.1 194H761.3V208.7H757.1zM937.6 194H941.7V208.7H937.6zM256.7 208.7H260.8V223.4H256.7zM330.6 208.7H338.8V223.4H330.6zM515.1 208.7H523.3V223.4H515.1zM572.6 208.7H576.7V223.4H572.6zM589 208.7H593.1V223.4H589zM609.5 208.7H613.6V223.4H609.5zM757.1 208.7H761.3V223.4H757.1zM781.8 208.7H790V223.4H781.8zM798.2 208.7H802.3V223.4H798.2zM859.7 208.7H863.8V223.4H859.7zM925.3 208.7H929.4V223.4H925.3zM954 208.7H958.1V223.4H954zM999.2 208.7H1003.3V223.4H999.2zM1052.5 208.7H1056.6V223.4H1052.5zM219.8 223.4H223.9V238.1H219.8zM326.5 223.4H330.6V238.1H326.5zM400.3 223.4H404.4V238.1H400.3zM478.2 223.4H482.3V238.1H478.2zM527.4 223.4H531.6V238.1H527.4zM904.8 223.4H908.9V238.1H904.8zM1044.3 223.4H1048.4V238.1H1044.3zM1085.3 223.4H1089.4V238.1H1085.3zM683.3 238.1H687.4V252.8H683.3zM347 252.8H351.1V267.4H347zM465.9 252.8H470V267.4H465.9zM662.8 252.8H666.9V267.4H662.8zM761.3 252.8H765.4V267.4H761.3zM958.1 252.8H962.2V267.4H958.1zM355.2 267.4H359.3V282.1H355.2zM498.7 267.4H502.8V282.1H498.7zM732.5 267.4H736.6V282.1H732.5zM913 267.4H917.1V282.1H913zM666.9 282.1H671V296.8H666.9zM281.3 296.8H285.4V311.5H281.3zM420.8 296.8H424.9V311.5H420.8zM699.7 296.8H703.8V311.5H699.7zM958.1 296.8H962.2V311.5H958.1zM1003.3 296.8H1011.5V311.5H1003.3zM260.8 311.5H264.9V326.2H260.8zM482.3 311.5H486.4V326.2H482.3zM605.4 311.5H609.5V326.2H605.4zM1044.3 311.5H1048.4V326.2H1044.3zM900.7 326.2H904.8V340.9H900.7zM1089.4 326.2H1093.5V340.9H1089.4zM683.3 340.9H687.4V355.5H683.3zM802.3 340.9H806.4V355.5H802.3zM244.4 355.5H248.5V370.2H244.4zM318.3 355.5H322.4V370.2H318.3zM293.6 370.2H301.8V384.9H293.6zM330.6 384.9H334.7V399.6H330.6zM338.8 384.9H342.9V399.6H338.8zM695.6 384.9H699.7V399.6H695.6zM798.2 384.9H802.3V399.6H798.2zM839.2 384.9H843.3V399.6H839.2zM999.2 384.9H1003.3V399.6H999.2zM1040.2 384.9H1044.3V399.6H1040.2z"/>
<path fill="#2b2b66" d="M260.8 120.6H264.9V135.3H260.8zM281.3 120.6H285.4V135.3H281.3zM342.9 120.6H347V135.3H342.9zM408.5 120.6H412.6V135.3H408.5zM437.2 120.6H441.3V135.3H437.2zM515.1 120.6H519.2V135.3H515.1zM703.8 120.6H707.9V135.3H703.8zM342.9 135.3H347V150H342.9zM396.2 135.3H400.3V150H396.2zM330.6 150H334.7V164.7H330.6zM383.9 150H388V164.7H383.9zM445.4 150H449.5V164.7H445.4zM580.8 150H584.9V164.7H580.8zM748.9 150H753V164.7H748.9zM806.4 150H810.5V164.7H806.4zM293.6 164.7H297.7V179.3H293.6zM326.5 164.7H330.6V179.3H326.5zM527.4 164.7H531.6V179.3H527.4zM621.8 164.7H625.9V179.3H621.8zM1036.1 164.7H1040.2V179.3H1036.1zM482.3 179.3H486.4V194H482.3zM498.7 179.3H502.8V194H498.7zM535.7 179.3H539.8V194H535.7zM556.2 179.3H560.3V194H556.2zM568.5 179.3H572.6V194H568.5zM605.4 179.3H609.5V194H605.4zM625.9 179.3H630V194H625.9zM646.4 179.3H650.5V194H646.4zM359.3 194H363.4V208.7H359.3zM486.4 194H490.5V208.7H486.4zM572.6 194H576.7V208.7H572.6zM826.9 194H831V208.7H826.9zM269 208.7H273.1V223.4H269zM498.7 208.7H502.8V223.4H498.7zM527.4 208.7H531.6V223.4H527.4zM482.3 223.4H486.4V238.1H482.3zM949.9 223.4H954V238.1H949.9zM999.2 238.1H1003.3V252.8H999.2zM1040.2 238.1H1044.3V252.8H1040.2zM310.1 252.8H314.2V267.4H310.1zM892.5 252.8H896.6V267.4H892.5zM978.6 267.4H986.9V282.1H978.6zM207.5 296.8H211.6V311.5H207.5zM478.2 296.8H482.3V311.5H478.2zM794.1 296.8H798.2V311.5H794.1zM843.3 296.8H847.4V311.5H843.3zM876.1 296.8H880.2V311.5H876.1zM1056.6 296.8H1060.7V311.5H1056.6zM1085.3 296.8H1089.4V311.5H1085.3zM679.2 311.5H683.3V326.2H679.2zM798.2 311.5H802.3V326.2H798.2zM900.7 311.5H904.8V326.2H900.7zM1023.8 311.5H1027.9V326.2H1023.8zM306 326.2H310.1V340.9H306zM408.5 326.2H412.6V340.9H408.5zM441.3 326.2H445.4V340.9H441.3zM621.8 326.2H625.9V340.9H621.8zM892.5 326.2H896.6V340.9H892.5zM929.4 326.2H933.5V340.9H929.4zM1011.5 326.2H1015.6V340.9H1011.5zM256.7 340.9H260.8V355.5H256.7zM568.5 340.9H572.6V355.5H568.5zM609.5 340.9H613.6V355.5H609.5zM658.7 355.5H662.8V370.2H658.7zM736.6 370.2H740.7V384.9H736.6zM933.5 370.2H937.6V384.9H933.5zM363.4 384.9H367.5V399.6H363.4zM470 384.9H474.1V399.6H470zM896.6 384.9H904.8V399.6H896.6zM974.5 384.9H978.6V399.6H974.5zM1011.5 384.9H1015.6V399.6H1011.5zM1052.5 384.9H1056.6V399.6H1052.5z"/>
<path fill="#1d1c5e" d="M264.9 120.6H269V135.3H264.9zM310.1 120.6H314.2V135.3H310.1zM412.6 120.6H416.7V135.3H412.6zM424.9 120.6H429V135.3H424.9zM490.5 120.6H494.6V135.3H490.5zM511 120.6H515.1V135.3H511zM519.2 120.6H523.3V135.3H519.2zM556.2 120.6H560.3V135.3H556.2zM568.5 120.6H572.6V135.3H568.5zM634.1 120.6H638.2V135.3H634.1zM367.5 135.3H371.6V150H367.5zM392.1 135.3H396.2V150H392.1zM416.7 135.3H420.8V150H416.7zM535.7 135.3H539.8V150H535.7zM552.1 135.3H560.3V150H552.1zM564.4 135.3H568.5V150H564.4zM613.6 135.3H617.7V150H613.6zM634.1 135.3H638.2V150H634.1zM695.6 135.3H699.7V150H695.6zM236.2 150H240.3V164.7H236.2zM367.5 150H371.6V164.7H367.5zM379.8 150H383.9V164.7H379.8zM392.1 150H396.2V164.7H392.1zM470 150H474.1V164.7H470zM478.2 150H482.3V164.7H478.2zM494.6 150H498.7V164.7H494.6zM535.7 150H539.8V164.7H535.7zM543.9 150H548V164.7H543.9zM613.6 150H617.7V164.7H613.6zM679.2 150H683.3V164.7H679.2zM285.4 164.7H293.6V179.3H285.4zM400.3 164.7H404.4V179.3H400.3zM552.1 164.7H556.2V179.3H552.1zM560.3 164.7H564.4V179.3H560.3zM634.1 164.7H638.2V179.3H634.1zM991 164.7H995.1V179.3H991zM191.1 179.3H195.2V194H191.1zM207.5 179.3H211.6V194H207.5zM310.1 179.3H314.2V194H310.1zM379.8 179.3H388V194H379.8zM408.5 179.3H412.6V194H408.5zM502.8 179.3H506.9V194H502.8zM511 179.3H523.3V194H511zM531.6 179.3H535.7V194H531.6zM539.8 179.3H543.9V194H539.8zM593.1 179.3H597.2V194H593.1zM630 179.3H634.1V194H630zM654.6 179.3H658.7V194H654.6zM761.3 179.3H765.4V194H761.3zM847.4 179.3H851.5V194H847.4zM433.1 194H437.2V208.7H433.1zM506.9 194H511V208.7H506.9zM515.1 194H519.2V208.7H515.1zM609.5 194H613.6V208.7H609.5zM691.5 194H695.6V208.7H691.5zM707.9 194H712V208.7H707.9zM716.1 194H724.3V208.7H716.1zM199.3 208.7H203.4V223.4H199.3zM289.5 208.7H297.7V223.4H289.5zM351.1 208.7H355.2V223.4H351.1zM363.4 208.7H367.5V223.4H363.4zM584.9 208.7H589V223.4H584.9zM621.8 208.7H625.9V223.4H621.8zM658.7 208.7H662.8V223.4H658.7zM753 208.7H757.1V223.4H753zM818.7 208.7H822.8V223.4H818.7zM867.9 208.7H876.1V223.4H867.9zM1019.7 208.7H1023.8V223.4H1019.7zM1085.3 208.7H1093.5V223.4H1085.3zM228 223.4H232.1V238.1H228zM322.4 223.4H326.5V238.1H322.4zM334.7 223.4H338.8V238.1H334.7zM470 223.4H474.1V238.1H470zM539.8 223.4H543.9V238.1H539.8zM589 223.4H593.1V238.1H589zM625.9 223.4H630V238.1H625.9zM724.3 223.4H728.4V238.1H724.3zM917.1 223.4H925.3V238.1H917.1zM1003.3 223.4H1007.4V238.1H1003.3zM191.1 238.1H195.2V252.8H191.1zM199.3 238.1H203.4V252.8H199.3zM318.3 238.1H322.4V252.8H318.3zM342.9 238.1H347V252.8H342.9zM351.1 238.1H359.3V252.8H351.1zM367.5 238.1H371.6V252.8H367.5zM400.3 238.1H404.4V252.8H400.3zM527.4 238.1H531.6V252.8H527.4zM609.5 238.1H613.6V252.8H609.5zM666.9 238.1H671V252.8H666.9zM691.5 238.1H699.7V252.8H691.5zM707.9 238.1H712V252.8H707.9zM851.5 238.1H855.6V252.8H851.5zM867.9 238.1H872V252.8H867.9zM991 238.1H995.1V252.8H991zM1007.4 238.1H1011.5V252.8H1007.4zM1064.8 238.1H1073V252.8H1064.8zM1081.2 238.1H1085.3V252.8H1081.2zM203.4 252.8H207.5V267.4H203.4zM252.6 252.8H256.7V267.4H252.6zM281.3 252.8H285.4V267.4H281.3zM306 252.8H310.1V267.4H306zM363.4 252.8H367.5V267.4H363.4zM404.4 252.8H412.6V267.4H404.4zM515.1 252.8H519.2V267.4H515.1zM605.4 252.8H609.5V267.4H605.4zM675.1 252.8H679.2V267.4H675.1zM831 252.8H835.1V267.4H831zM867.9 252.8H872V267.4H867.9zM876.1 252.8H884.3V267.4H876.1zM900.7 252.8H913V267.4H900.7zM941.7 252.8H949.9V267.4H941.7zM954 252.8H958.1V267.4H954zM966.3 252.8H970.4V267.4H966.3zM1003.3 252.8H1007.4V267.4H1003.3zM1027.9 252.8H1032V267.4H1027.9zM1085.3 252.8H1089.4V267.4H1085.3zM1093.5 252.8H1097.6V267.4H1093.5zM223.9 267.4H228V282.1H223.9zM248.5 267.4H252.6V282.1H248.5zM260.8 267.4H264.9V282.1H260.8zM310.1 267.4H314.2V282.1H310.1zM342.9 267.4H347V282.1H342.9zM375.7 267.4H383.9V282.1H375.7zM453.6 267.4H457.7V282.1H453.6zM465.9 267.4H470V282.1H465.9zM478.2 267.4H482.3V282.1H478.2zM560.3 267.4H564.4V282.1H560.3zM646.4 267.4H650.5V282.1H646.4zM654.6 267.4H658.7V282.1H654.6zM728.4 267.4H732.5V282.1H728.4zM748.9 267.4H753V282.1H748.9zM826.9 267.4H831V282.1H826.9zM917.1 267.4H921.2V282.1H917.1zM974.5 267.4H978.6V282.1H974.5zM1023.8 267.4H1027.9V282.1H1023.8zM215.7 282.1H232.1V296.8H215.7zM248.5 282.1H252.6V296.8H248.5zM318.3 282.1H322.4V296.8H318.3zM342.9 282.1H347V296.8H342.9zM420.8 282.1H429V296.8H420.8zM478.2 282.1H482.3V296.8H478.2zM675.1 282.1H679.2V296.8H675.1zM703.8 282.1H707.9V296.8H703.8zM728.4 282.1H732.5V296.8H728.4zM748.9 282.1H753V296.8H748.9zM757.1 282.1H765.4V296.8H757.1zM773.6 282.1H777.7V296.8H773.6zM785.9 282.1H790V296.8H785.9zM802.3 282.1H810.5V296.8H802.3zM843.3 282.1H847.4V296.8H843.3zM941.7 282.1H945.8V296.8H941.7zM966.3 282.1H970.4V296.8H966.3zM1027.9 282.1H1036.1V296.8H1027.9zM1056.6 282.1H1068.9V296.8H1056.6zM1073 282.1H1077.1V296.8H1073zM191.1 296.8H195.2V311.5H191.1zM248.5 296.8H252.6V311.5H248.5zM293.6 296.8H301.8V311.5H293.6zM310.1 296.8H318.3V311.5H310.1zM326.5 296.8H330.6V311.5H326.5zM347 296.8H359.3V311.5H347zM383.9 296.8H388V311.5H383.9zM548 296.8H552.1V311.5H548zM650.5 296.8H654.6V311.5H650.5zM712 296.8H716.1V311.5H712zM728.4 296.8H732.5V311.5H728.4zM744.8 296.8H748.9V311.5H744.8zM753 296.8H757.1V311.5H753zM790 296.8H794.1V311.5H790zM802.3 296.8H806.4V311.5H802.3zM814.6 296.8H822.8V311.5H814.6zM872 296.8H876.1V311.5H872zM908.9 296.8H913V311.5H908.9zM962.2 296.8H966.3V311.5H962.2zM999.2 296.8H1003.3V311.5H999.2zM1023.8 296.8H1027.9V311.5H1023.8zM236.2 311.5H240.3V326.2H236.2zM248.5 311.5H260.8V326.2H248.5zM273.1 311.5H281.3V326.2H273.1zM297.7 311.5H301.8V326.2H297.7zM342.9 311.5H347V326.2H342.9zM351.1 311.5H359.3V326.2H351.1zM363.4 311.5H367.5V326.2H363.4zM433.1 311.5H437.2V326.2H433.1zM498.7 311.5H502.8V326.2H498.7zM531.6 311.5H535.7V326.2H531.6zM584.9 311.5H589V326.2H584.9zM621.8 311.5H625.9V326.2H621.8zM720.2 311.5H724.3V326.2H720.2zM744.8 311.5H757.1V326.2H744.8zM822.8 311.5H826.9V326.2H822.8zM863.8 311.5H867.9V326.2H863.8zM917.1 311.5H929.4V326.2H917.1zM962.2 311.5H966.3V326.2H962.2zM1052.5 311.5H1056.6V326.2H1052.5zM1060.7 311.5H1064.8V326.2H1060.7zM1068.9 311.5H1073V326.2H1068.9zM244.4 326.2H248.5V340.9H244.4zM281.3 326.2H289.5V340.9H281.3zM310.1 326.2H318.3V340.9H310.1zM375.7 326.2H379.8V340.9H375.7zM383.9 326.2H388V340.9H383.9zM396.2 326.2H400.3V340.9H396.2zM433.1 326.2H437.2V340.9H433.1zM445.4 326.2H453.6V340.9H445.4zM478.2 326.2H482.3V340.9H478.2zM515.1 326.2H519.2V340.9H515.1zM560.3 326.2H564.4V340.9H560.3zM609.5 326.2H613.6V340.9H609.5zM654.6 326.2H658.7V340.9H654.6zM695.6 326.2H699.7V340.9H695.6zM703.8 326.2H707.9V340.9H703.8zM781.8 326.2H785.9V340.9H781.8zM818.7 326.2H822.8V340.9H818.7zM826.9 326.2H831V340.9H826.9zM847.4 326.2H851.5V340.9H847.4zM888.4 326.2H892.5V340.9H888.4zM962.2 326.2H966.3V340.9H962.2zM970.4 326.2H974.5V340.9H970.4zM978.6 326.2H986.9V340.9H978.6zM191.1 340.9H195.2V355.5H191.1zM203.4 340.9H207.5V355.5H203.4zM236.2 340.9H240.3V355.5H236.2zM289.5 340.9H297.7V355.5H289.5zM306 340.9H310.1V355.5H306zM326.5 340.9H330.6V355.5H326.5zM338.8 340.9H342.9V355.5H338.8zM347 340.9H351.1V355.5H347zM355.2 340.9H359.3V355.5H355.2zM363.4 340.9H367.5V355.5H363.4zM371.6 340.9H375.7V355.5H371.6zM392.1 340.9H396.2V355.5H392.1zM429 340.9H433.1V355.5H429zM437.2 340.9H441.3V355.5H437.2zM445.4 340.9H449.5V355.5H445.4zM465.9 340.9H470V355.5H465.9zM556.2 340.9H564.4V355.5H556.2zM584.9 340.9H589V355.5H584.9zM646.4 340.9H650.5V355.5H646.4zM666.9 340.9H671V355.5H666.9zM699.7 340.9H707.9V355.5H699.7zM728.4 340.9H732.5V355.5H728.4zM736.6 340.9H740.7V355.5H736.6zM757.1 340.9H761.3V355.5H757.1zM765.4 340.9H769.5V355.5H765.4zM880.2 340.9H884.3V355.5H880.2zM203.4 355.5H207.5V370.2H203.4zM314.2 355.5H318.3V370.2H314.2zM326.5 355.5H330.6V370.2H326.5zM334.7 355.5H338.8V370.2H334.7zM568.5 355.5H572.6V370.2H568.5zM646.4 355.5H650.5V370.2H646.4zM736.6 355.5H744.8V370.2H736.6zM908.9 355.5H913V370.2H908.9zM228 370.2H232.1V384.9H228zM289.5 370.2H293.6V384.9H289.5zM375.7 370.2H383.9V384.9H375.7zM437.2 370.2H441.3V384.9H437.2zM531.6 370.2H535.7V384.9H531.6zM646.4 370.2H650.5V384.9H646.4zM679.2 370.2H683.3V384.9H679.2zM761.3 370.2H765.4V384.9H761.3zM822.8 370.2H826.9V384.9H822.8zM945.8 370.2H949.9V384.9H945.8zM974.5 370.2H978.6V384.9H974.5zM1019.7 370.2H1027.9V384.9H1019.7zM1073 370.2H1077.1V384.9H1073zM1085.3 370.2H1089.4V384.9H1085.3zM326.5 384.9H330.6V399.6H326.5zM461.8 384.9H465.9V399.6H461.8zM543.9 384.9H548V399.6H543.9zM613.6 384.9H617.7V399.6H613.6zM662.8 384.9H666.9V399.6H662.8zM1081.2 384.9H1085.3V399.6H1081.2z"/>
<path fill="#201f60" d="M269 120.6H273.1V135.3H269zM277.2 120.6H281.3V135.3H277.2zM457.7 120.6H461.8V135.3H457.7zM564.4 120.6H568.5V135.3H564.4zM630 120.6H634.1V135.3H630zM338.8 135.3H342.9V150H338.8zM347 135.3H351.1V150H347zM424.9 135.3H433.1V150H424.9zM457.7 135.3H461.8V150H457.7zM572.6 135.3H576.7V150H572.6zM424.9 150H433.1V164.7H424.9zM515.1 150H519.2V164.7H515.1zM556.2 150H560.3V164.7H556.2zM625.9 150H630V164.7H625.9zM597.2 164.7H601.3V179.3H597.2zM929.4 164.7H933.5V179.3H929.4zM232.1 179.3H236.2V194H232.1zM441.3 179.3H445.4V194H441.3zM453.6 179.3H457.7V194H453.6zM494.6 179.3H498.7V194H494.6zM937.6 179.3H941.7V194H937.6zM502.8 194H506.9V208.7H502.8zM736.6 194H740.7V208.7H736.6zM297.7 208.7H301.8V223.4H297.7zM539.8 208.7H543.9V223.4H539.8zM937.6 208.7H941.7V223.4H937.6zM1015.6 208.7H1019.7V223.4H1015.6zM342.9 223.4H347V238.1H342.9zM392.1 223.4H396.2V238.1H392.1zM740.7 223.4H744.8V238.1H740.7zM925.3 223.4H929.4V238.1H925.3zM219.8 238.1H223.9V252.8H219.8zM244.4 238.1H248.5V252.8H244.4zM412.6 238.1H416.7V252.8H412.6zM621.8 238.1H625.9V252.8H621.8zM732.5 238.1H736.6V252.8H732.5zM744.8 238.1H748.9V252.8H744.8zM781.8 238.1H785.9V252.8H781.8zM1011.5 238.1H1015.6V252.8H1011.5zM1036.1 238.1H1040.2V252.8H1036.1zM1060.7 238.1H1064.8V252.8H1060.7zM1093.5 238.1H1097.6V252.8H1093.5zM297.7 252.8H306V267.4H297.7zM322.4 252.8H326.5V267.4H322.4zM359.3 252.8H363.4V267.4H359.3zM478.2 252.8H482.3V267.4H478.2zM720.2 252.8H724.3V267.4H720.2zM937.6 252.8H941.7V267.4H937.6zM211.6 267.4H215.7V282.1H211.6zM264.9 267.4H269V282.1H264.9zM285.4 267.4H289.5V282.1H285.4zM347 267.4H351.1V282.1H347zM814.6 267.4H818.7V282.1H814.6zM859.7 267.4H863.8V282.1H859.7zM925.3 267.4H929.4V282.1H925.3zM962.2 267.4H966.3V282.1H962.2zM1015.6 267.4H1019.7V282.1H1015.6zM195.2 282.1H199.3V296.8H195.2zM207.5 282.1H211.6V296.8H207.5zM306 282.1H310.1V296.8H306zM347 282.1H355.2V296.8H347zM392.1 282.1H396.2V296.8H392.1zM429 282.1H433.1V296.8H429zM839.2 282.1H843.3V296.8H839.2zM228 296.8H232.1V311.5H228zM289.5 296.8H293.6V311.5H289.5zM318.3 296.8H322.4V311.5H318.3zM441.3 296.8H445.4V311.5H441.3zM654.6 296.8H658.7V311.5H654.6zM720.2 296.8H724.3V311.5H720.2zM769.5 296.8H773.6V311.5H769.5zM937.6 296.8H941.7V311.5H937.6zM970.4 296.8H974.5V311.5H970.4zM1044.3 296.8H1048.4V311.5H1044.3zM1089.4 296.8H1093.5V311.5H1089.4zM207.5 311.5H211.6V326.2H207.5zM219.8 311.5H223.9V326.2H219.8zM281.3 311.5H289.5V326.2H281.3zM322.4 311.5H326.5V326.2H322.4zM396.2 311.5H400.3V326.2H396.2zM408.5 311.5H412.6V326.2H408.5zM420.8 311.5H424.9V326.2H420.8zM470 311.5H474.1V326.2H470zM548 311.5H552.1V326.2H548zM560.3 311.5H564.4V326.2H560.3zM896.6 311.5H900.7V326.2H896.6zM199.3 326.2H203.4V340.9H199.3zM228 326.2H232.1V340.9H228zM252.6 326.2H256.7V340.9H252.6zM371.6 326.2H375.7V340.9H371.6zM400.3 326.2H404.4V340.9H400.3zM424.9 326.2H429V340.9H424.9zM461.8 326.2H465.9V340.9H461.8zM720.2 326.2H724.3V340.9H720.2zM753 326.2H757.1V340.9H753zM761.3 326.2H765.4V340.9H761.3zM814.6 326.2H818.7V340.9H814.6zM921.2 326.2H925.3V340.9H921.2zM941.7 326.2H945.8V340.9H941.7zM223.9 340.9H236.2V355.5H223.9zM277.2 340.9H281.3V355.5H277.2zM330.6 340.9H334.7V355.5H330.6zM367.5 340.9H371.6V355.5H367.5zM375.7 340.9H379.8V355.5H375.7zM383.9 340.9H388V355.5H383.9zM531.6 340.9H539.8V355.5H531.6zM601.3 340.9H605.4V355.5H601.3zM654.6 340.9H658.7V355.5H654.6zM839.2 340.9H843.3V355.5H839.2zM888.4 340.9H892.5V355.5H888.4zM191.1 355.5H195.2V370.2H191.1zM228 355.5H232.1V370.2H228zM556.2 355.5H560.3V370.2H556.2zM650.5 355.5H654.6V370.2H650.5zM695.6 355.5H699.7V370.2H695.6zM954 355.5H958.1V370.2H954zM1011.5 355.5H1015.6V370.2H1011.5zM1056.6 355.5H1060.7V370.2H1056.6zM371.6 370.2H375.7V384.9H371.6zM687.4 370.2H691.5V384.9H687.4zM785.9 370.2H790V384.9H785.9zM806.4 370.2H810.5V384.9H806.4zM839.2 370.2H843.3V384.9H839.2zM1081.2 370.2H1085.3V384.9H1081.2zM314.2 384.9H318.3V399.6H314.2zM351.1 384.9H355.2V399.6H351.1zM511 384.9H515.1V399.6H511zM654.6 384.9H662.8V399.6H654.6zM703.8 384.9H707.9V399.6H703.8zM822.8 384.9H826.9V399.6H822.8zM929.4 384.9H933.5V399.6H929.4z"/>
<path fill="#181855" d="M273.1 120.6H277.2V135.3H273.1zM347 120.6H351.1V135.3H347zM420.8 120.6H424.9V135.3H420.8zM445.4 120.6H449.5V135.3H445.4zM543.9 120.6H548V135.3H543.9zM613.6 120.6H617.7V135.3H613.6zM498.7 135.3H502.8V150H498.7zM515.1 135.3H519.2V150H515.1zM523.3 135.3H527.4V150H523.3zM232.1 150H236.2V164.7H232.1zM433.1 150H441.3V164.7H433.1zM453.6 150H461.8V164.7H453.6zM465.9 150H470V164.7H465.9zM498.7 150H506.9V164.7H498.7zM523.3 150H527.4V164.7H523.3zM338.8 164.7H342.9V179.3H338.8zM383.9 164.7H388V179.3H383.9zM531.6 164.7H535.7V179.3H531.6zM556.2 164.7H560.3V179.3H556.2zM584.9 164.7H593.1V179.3H584.9zM248.5 179.3H252.6V194H248.5zM478.2 179.3H482.3V194H478.2zM621.8 179.3H625.9V194H621.8zM991 179.3H995.1V194H991zM474.1 194H478.2V208.7H474.1zM498.7 194H502.8V208.7H498.7zM539.8 194H543.9V208.7H539.8zM613.6 194H617.7V208.7H613.6zM281.3 208.7H285.4V223.4H281.3zM347 208.7H351.1V223.4H347zM396.2 208.7H400.3V223.4H396.2zM482.3 208.7H486.4V223.4H482.3zM523.3 208.7H527.4V223.4H523.3zM675.1 208.7H679.2V223.4H675.1zM1068.9 208.7H1073V223.4H1068.9zM1077.1 208.7H1081.2V223.4H1077.1zM543.9 223.4H548V238.1H543.9zM794.1 223.4H798.2V238.1H794.1zM207.5 238.1H211.6V252.8H207.5zM223.9 238.1H228V252.8H223.9zM416.7 238.1H420.8V252.8H416.7zM605.4 238.1H609.5V252.8H605.4zM662.8 238.1H666.9V252.8H662.8zM724.3 238.1H728.4V252.8H724.3zM769.5 238.1H773.6V252.8H769.5zM876.1 238.1H880.2V252.8H876.1zM1052.5 238.1H1056.6V252.8H1052.5zM207.5 252.8H211.6V267.4H207.5zM330.6 252.8H334.7V267.4H330.6zM531.6 252.8H535.7V267.4H531.6zM564.4 252.8H568.5V267.4H564.4zM580.8 252.8H584.9V267.4H580.8zM601.3 252.8H605.4V267.4H601.3zM621.8 252.8H625.9V267.4H621.8zM863.8 252.8H867.9V267.4H863.8zM1077.1 252.8H1081.2V267.4H1077.1zM383.9 267.4H392.1V282.1H383.9zM396.2 267.4H400.3V282.1H396.2zM416.7 267.4H420.8V282.1H416.7zM424.9 267.4H429V282.1H424.9zM699.7 267.4H703.8V282.1H699.7zM191.1 282.1H195.2V296.8H191.1zM232.1 282.1H236.2V296.8H232.1zM293.6 282.1H297.7V296.8H293.6zM502.8 282.1H506.9V296.8H502.8zM539.8 282.1H543.9V296.8H539.8zM679.2 282.1H683.3V296.8H679.2zM736.6 282.1H740.7V296.8H736.6zM781.8 282.1H785.9V296.8H781.8zM790 282.1H794.1V296.8H790zM872 282.1H876.1V296.8H872zM945.8 282.1H949.9V296.8H945.8zM1036.1 282.1H1040.2V296.8H1036.1zM1077.1 282.1H1081.2V296.8H1077.1zM1089.4 282.1H1093.5V296.8H1089.4zM277.2 296.8H281.3V311.5H277.2zM285.4 296.8H289.5V311.5H285.4zM359.3 296.8H363.4V311.5H359.3zM765.4 296.8H769.5V311.5H765.4zM773.6 296.8H777.7V311.5H773.6zM867.9 296.8H872V311.5H867.9zM974.5 296.8H978.6V311.5H974.5zM310.1 311.5H314.2V326.2H310.1zM359.3 311.5H363.4V326.2H359.3zM392.1 311.5H396.2V326.2H392.1zM429 311.5H433.1V326.2H429zM523.3 311.5H527.4V326.2H523.3zM539.8 311.5H543.9V326.2H539.8zM687.4 311.5H691.5V326.2H687.4zM867.9 311.5H880.2V326.2H867.9zM884.3 311.5H892.5V326.2H884.3zM949.9 311.5H954V326.2H949.9zM970.4 311.5H974.5V326.2H970.4zM1089.4 311.5H1093.5V326.2H1089.4zM207.5 326.2H211.6V340.9H207.5zM215.7 326.2H219.8V340.9H215.7zM223.9 326.2H228V340.9H223.9zM236.2 326.2H240.3V340.9H236.2zM248.5 326.2H252.6V340.9H248.5zM289.5 326.2H293.6V340.9H289.5zM297.7 326.2H301.8V340.9H297.7zM363.4 326.2H367.5V340.9H363.4zM388 326.2H392.1V340.9H388zM420.8 326.2H424.9V340.9H420.8zM465.9 326.2H470V340.9H465.9zM539.8 326.2H543.9V340.9H539.8zM584.9 326.2H589V340.9H584.9zM613.6 326.2H617.7V340.9H613.6zM687.4 326.2H691.5V340.9H687.4zM843.3 326.2H847.4V340.9H843.3zM876.1 326.2H880.2V340.9H876.1zM925.3 326.2H929.4V340.9H925.3zM974.5 326.2H978.6V340.9H974.5zM207.5 340.9H211.6V355.5H207.5zM260.8 340.9H264.9V355.5H260.8zM285.4 340.9H289.5V355.5H285.4zM334.7 340.9H338.8V355.5H334.7zM351.1 340.9H355.2V355.5H351.1zM474.1 340.9H478.2V355.5H474.1zM650.5 340.9H654.6V355.5H650.5zM675.1 340.9H679.2V355.5H675.1zM691.5 340.9H695.6V355.5H691.5zM777.7 340.9H781.8V355.5H777.7zM683.3 355.5H687.4V370.2H683.3zM761.3 355.5H765.4V370.2H761.3zM933.5 355.5H937.6V370.2H933.5zM191.1 370.2H195.2V384.9H191.1zM318.3 370.2H322.4V384.9H318.3zM527.4 370.2H531.6V384.9H527.4zM654.6 370.2H658.7V384.9H654.6zM683.3 370.2H687.4V384.9H683.3zM835.1 370.2H839.2V384.9H835.1zM958.1 370.2H962.2V384.9H958.1zM991 370.2H999.2V384.9H991zM1015.6 370.2H1019.7V384.9H1015.6zM621.8 384.9H625.9V399.6H621.8zM630 384.9H634.1V399.6H630zM794.1 384.9H798.2V399.6H794.1zM859.7 384.9H863.8V399.6H859.7z"/>
<path fill="#292965" d="M285.4 120.6H289.5V135.3H285.4zM318.3 120.6H322.4V135.3H318.3zM351.1 120.6H355.2V135.3H351.1zM560.3 120.6H564.4V135.3H560.3zM671 120.6H675.1V135.3H671zM445.4 135.3H449.5V150H445.4zM576.7 135.3H580.8V150H576.7zM638.2 135.3H642.3V150H638.2zM269 150H273.1V164.7H269zM572.6 150H576.7V164.7H572.6zM630 150H634.1V164.7H630zM937.6 150H941.7V164.7H937.6zM219.8 164.7H223.9V179.3H219.8zM420.8 164.7H424.9V179.3H420.8zM433.1 164.7H437.2V179.3H433.1zM494.6 164.7H498.7V179.3H494.6zM630 164.7H634.1V179.3H630zM638.2 164.7H642.3V179.3H638.2zM388 179.3H392.1V194H388zM457.7 179.3H461.8V194H457.7zM486.4 179.3H490.5V194H486.4zM724.3 179.3H728.4V194H724.3zM736.6 179.3H740.7V194H736.6zM453.6 194H461.8V208.7H453.6zM1044.3 194H1048.4V208.7H1044.3zM211.6 208.7H215.7V223.4H211.6zM236.2 208.7H240.3V223.4H236.2zM408.5 208.7H412.6V223.4H408.5zM802.3 208.7H806.4V223.4H802.3zM945.8 208.7H949.9V223.4H945.8zM601.3 223.4H605.4V238.1H601.3zM613.6 223.4H617.7V238.1H613.6zM818.7 223.4H822.8V238.1H818.7zM892.5 223.4H896.6V238.1H892.5zM568.5 238.1H572.6V252.8H568.5zM1089.4 238.1H1093.5V252.8H1089.4zM240.3 252.8H244.4V267.4H240.3zM260.8 252.8H264.9V267.4H260.8zM355.2 252.8H359.3V267.4H355.2zM396.2 252.8H400.3V267.4H396.2zM424.9 252.8H429V267.4H424.9zM646.4 252.8H650.5V267.4H646.4zM843.3 252.8H847.4V267.4H843.3zM855.6 252.8H863.8V267.4H855.6zM896.6 252.8H900.7V267.4H896.6zM219.8 267.4H223.9V282.1H219.8zM277.2 267.4H281.3V282.1H277.2zM322.4 267.4H326.5V282.1H322.4zM334.7 267.4H338.8V282.1H334.7zM1011.5 267.4H1015.6V282.1H1011.5zM1019.7 267.4H1023.8V282.1H1019.7zM1044.3 267.4H1048.4V282.1H1044.3zM195.2 296.8H203.4V311.5H195.2zM301.8 296.8H306V311.5H301.8zM465.9 296.8H470V311.5H465.9zM523.3 296.8H527.4V311.5H523.3zM695.6 296.8H699.7V311.5H695.6zM847.4 296.8H851.5V311.5H847.4zM1036.1 296.8H1040.2V311.5H1036.1zM301.8 311.5H310.1V326.2H301.8zM318.3 311.5H322.4V326.2H318.3zM338.8 311.5H342.9V326.2H338.8zM490.5 311.5H494.6V326.2H490.5zM695.6 311.5H699.7V326.2H695.6zM794.1 311.5H798.2V326.2H794.1zM851.5 311.5H855.6V326.2H851.5zM904.8 311.5H908.9V326.2H904.8zM691.5 326.2H695.6V340.9H691.5zM724.3 326.2H728.4V340.9H724.3zM765.4 326.2H769.5V340.9H765.4zM794.1 326.2H798.2V340.9H794.1zM839.2 326.2H843.3V340.9H839.2zM297.7 340.9H301.8V355.5H297.7zM740.7 340.9H744.8V355.5H740.7zM753 355.5H757.1V370.2H753zM929.4 355.5H933.5V370.2H929.4zM519.2 384.9H523.3V399.6H519.2zM728.4 384.9H736.6V399.6H728.4zM970.4 384.9H974.5V399.6H970.4zM1003.3 384.9H1007.4V399.6H1003.3zM1032 384.9H1036.1V399.6H1032zM1056.6 384.9H1060.7V399.6H1056.6zM1068.9 384.9H1073V399.6H1068.9z"/>
<path fill="#343468" d="M289.5 120.6H293.6V135.3H289.5zM474.1 120.6H478.2V135.3H474.1zM506.9 120.6H511V135.3H506.9zM658.7 120.6H662.8V135.3H658.7zM753 120.6H757.1V135.3H753zM281.3 135.3H285.4V150H281.3zM297.7 135.3H301.8V150H297.7zM326.5 150H330.6V164.7H326.5zM371.6 150H375.7V164.7H371.6zM925.3 150H929.4V164.7H925.3zM322.4 164.7H326.5V179.3H322.4zM388 164.7H392.1V179.3H388zM429 164.7H433.1V179.3H429zM498.7 164.7H506.9V179.3H498.7zM535.7 164.7H539.8V179.3H535.7zM572.6 164.7H576.7V179.3H572.6zM822.8 164.7H826.9V179.3H822.8zM843.3 164.7H847.4V179.3H843.3zM1044.3 164.7H1048.4V179.3H1044.3zM695.6 194H699.7V208.7H695.6zM219.8 208.7H223.9V223.4H219.8zM691.5 208.7H695.6V223.4H691.5zM1048.4 208.7H1052.5V223.4H1048.4zM593.1 223.4H597.2V238.1H593.1zM863.8 223.4H867.9V238.1H863.8zM884.3 223.4H888.4V238.1H884.3zM958.1 223.4H962.2V238.1H958.1zM388 238.1H392.1V252.8H388zM601.3 238.1H605.4V252.8H601.3zM199.3 252.8H203.4V267.4H199.3zM236.2 252.8H240.3V267.4H236.2zM264.9 252.8H269V267.4H264.9zM400.3 252.8H404.4V267.4H400.3zM650.5 252.8H654.6V267.4H650.5zM851.5 252.8H855.6V267.4H851.5zM1081.2 252.8H1085.3V267.4H1081.2zM256.7 267.4H260.8V282.1H256.7zM490.5 267.4H494.6V282.1H490.5zM872 267.4H876.1V282.1H872zM211.6 296.8H215.7V311.5H211.6zM240.3 296.8H244.4V311.5H240.3zM306 296.8H310.1V311.5H306zM732.5 296.8H736.6V311.5H732.5zM851.5 296.8H855.6V311.5H851.5zM892.5 296.8H896.6V311.5H892.5zM900.7 296.8H904.8V311.5H900.7zM982.7 296.8H986.9V311.5H982.7zM1052.5 296.8H1056.6V311.5H1052.5zM1060.7 296.8H1064.8V311.5H1060.7zM1068.9 296.8H1073V311.5H1068.9zM228 311.5H232.1V326.2H228zM330.6 311.5H334.7V326.2H330.6zM441.3 311.5H445.4V326.2H441.3zM568.5 311.5H572.6V326.2H568.5zM662.8 311.5H666.9V326.2H662.8zM724.3 311.5H728.4V326.2H724.3zM790 311.5H794.1V326.2H790zM666.9 326.2H671V340.9H666.9zM728.4 326.2H732.5V340.9H728.4zM896.6 326.2H900.7V340.9H896.6zM949.9 326.2H954V340.9H949.9zM416.7 340.9H424.9V355.5H416.7zM613.6 340.9H617.7V355.5H613.6zM958.1 340.9H962.2V355.5H958.1zM219.8 355.5H223.9V370.2H219.8zM880.2 384.9H884.3V399.6H880.2zM892.5 384.9H896.6V399.6H892.5zM937.6 384.9H941.7V399.6H937.6zM978.6 384.9H982.7V399.6H978.6z"/>
<path fill="#6e6e5b" d="M293.6 120.6H297.7V135.3H293.6zM744.8 120.6H748.9V135.3H744.8zM228 135.3H232.1V150H228zM978.6 150H982.7V164.7H978.6zM1011.5 150H1015.6V164.7H1011.5zM892.5 164.7H900.7V179.3H892.5zM913 164.7H917.1V179.3H913zM1019.7 164.7H1023.8V179.3H1019.7zM359.3 179.3H363.4V194H359.3zM839.2 179.3H843.3V194H839.2zM1019.7 179.3H1023.8V194H1019.7zM1068.9 179.3H1073V194H1068.9zM420.8 194H424.9V208.7H420.8zM1056.6 194H1060.7V208.7H1056.6zM1081.2 194H1085.3V208.7H1081.2zM1093.5 194H1097.6V208.7H1093.5zM453.6 208.7H457.7V223.4H453.6zM494.6 208.7H498.7V223.4H494.6zM359.3 223.4H363.4V238.1H359.3zM375.7 223.4H379.8V238.1H375.7zM449.5 223.4H453.6V238.1H449.5zM662.8 223.4H666.9V238.1H662.8zM855.6 223.4H859.7V238.1H855.6zM991 223.4H995.1V238.1H991zM1023.8 223.4H1027.9V238.1H1023.8zM314.2 238.1H318.3V252.8H314.2zM420.8 238.1H424.9V252.8H420.8zM461.8 238.1H465.9V252.8H461.8zM597.2 238.1H601.3V252.8H597.2zM679.2 238.1H683.3V252.8H679.2zM248.5 252.8H252.6V267.4H248.5zM506.9 252.8H511V267.4H506.9zM740.7 252.8H744.8V267.4H740.7zM810.5 252.8H814.6V267.4H810.5zM822.8 252.8H826.9V267.4H822.8zM1032 252.8H1040.2V267.4H1032zM1064.8 252.8H1068.9V267.4H1064.8zM420.8 267.4H424.9V282.1H420.8zM929.4 267.4H933.5V282.1H929.4zM937.6 267.4H941.7V282.1H937.6zM1027.9 267.4H1032V282.1H1027.9zM1048.4 267.4H1052.5V282.1H1048.4zM252.6 282.1H256.7V296.8H252.6zM412.6 282.1H416.7V296.8H412.6zM589 282.1H593.1V296.8H589zM634.1 282.1H638.2V296.8H634.1zM695.6 282.1H699.7V296.8H695.6zM322.4 296.8H326.5V311.5H322.4zM338.8 296.8H342.9V311.5H338.8zM568.5 296.8H572.6V311.5H568.5zM630 296.8H634.1V311.5H630zM1048.4 296.8H1052.5V311.5H1048.4zM658.7 311.5H662.8V326.2H658.7zM1036.1 311.5H1040.2V326.2H1036.1zM416.7 326.2H420.8V340.9H416.7zM482.3 326.2H486.4V340.9H482.3zM511 326.2H515.1V340.9H511zM593.1 326.2H597.2V340.9H593.1zM707.9 326.2H712V340.9H707.9zM999.2 326.2H1003.3V340.9H999.2zM281.3 340.9H285.4V355.5H281.3zM408.5 340.9H412.6V355.5H408.5zM773.6 340.9H777.7V355.5H773.6zM872 340.9H876.1V355.5H872zM1027.9 340.9H1032V355.5H1027.9zM1073 340.9H1077.1V355.5H1073zM269 355.5H273.1V370.2H269zM322.4 355.5H326.5V370.2H322.4zM470 355.5H474.1V370.2H470zM486.4 355.5H490.5V370.2H486.4zM560.3 355.5H564.4V370.2H560.3zM576.7 355.5H584.9V370.2H576.7zM621.8 355.5H625.9V370.2H621.8zM691.5 355.5H695.6V370.2H691.5zM757.1 370.2H761.3V384.9H757.1zM199.3 384.9H203.4V399.6H199.3zM334.7 384.9H338.8V399.6H334.7zM757.1 384.9H761.3V399.6H757.1zM765.4 384.9H769.5V399.6H765.4zM785.9 384.9H790V399.6H785.9z"/>
<path fill="#5f5f62" d="M326.5 120.6H330.6V135.3H326.5zM232.1 135.3H236.2V150H232.1zM400.3 135.3H408.5V150H400.3zM646.4 135.3H650.5V150H646.4zM707.9 135.3H712V150H707.9zM810.5 135.3H814.6V150H810.5zM219.8 150H223.9V164.7H219.8zM363.4 150H367.5V164.7H363.4zM400.3 150H404.4V164.7H400.3zM589 150H593.1V164.7H589zM236.2 164.7H240.3V179.3H236.2zM297.7 164.7H301.8V179.3H297.7zM453.6 164.7H457.7V179.3H453.6zM794.1 164.7H798.2V179.3H794.1zM277.2 179.3H281.3V194H277.2zM289.5 179.3H293.6V194H289.5zM666.9 179.3H671V194H666.9zM703.8 179.3H707.9V194H703.8zM740.7 179.3H744.8V194H740.7zM757.1 179.3H761.3V194H757.1zM941.7 179.3H949.9V194H941.7zM1027.9 179.3H1032V194H1027.9zM232.1 194H236.2V208.7H232.1zM958.1 194H962.2V208.7H958.1zM999.2 194H1003.3V208.7H999.2zM392.1 208.7H396.2V223.4H392.1zM437.2 208.7H441.3V223.4H437.2zM478.2 208.7H482.3V223.4H478.2zM564.4 208.7H568.5V223.4H564.4zM699.7 208.7H703.8V223.4H699.7zM724.3 208.7H728.4V223.4H724.3zM896.6 208.7H900.7V223.4H896.6zM917.1 208.7H921.2V223.4H917.1zM1023.8 208.7H1032V223.4H1023.8zM1064.8 208.7H1068.9V223.4H1064.8zM457.7 223.4H461.8V238.1H457.7zM498.7 223.4H502.8V238.1H498.7zM572.6 223.4H576.7V238.1H572.6zM995.1 223.4H999.2V238.1H995.1zM1093.5 223.4H1097.6V238.1H1093.5zM260.8 238.1H264.9V252.8H260.8zM392.1 238.1H400.3V252.8H392.1zM498.7 238.1H502.8V252.8H498.7zM564.4 238.1H568.5V252.8H564.4zM646.4 238.1H650.5V252.8H646.4zM527.4 252.8H531.6V267.4H527.4zM707.9 252.8H712V267.4H707.9zM798.2 252.8H806.4V267.4H798.2zM441.3 267.4H445.4V282.1H441.3zM548 267.4H552.1V282.1H548zM650.5 267.4H654.6V282.1H650.5zM761.3 267.4H765.4V282.1H761.3zM794.1 267.4H798.2V282.1H794.1zM966.3 267.4H970.4V282.1H966.3zM552.1 282.1H556.2V296.8H552.1zM609.5 282.1H613.6V296.8H609.5zM646.4 282.1H650.5V296.8H646.4zM671 282.1H675.1V296.8H671zM371.6 296.8H379.8V311.5H371.6zM437.2 296.8H441.3V311.5H437.2zM675.1 296.8H679.2V311.5H675.1zM888.4 296.8H892.5V311.5H888.4zM949.9 296.8H954V311.5H949.9zM367.5 311.5H371.6V326.2H367.5zM416.7 311.5H420.8V326.2H416.7zM552.1 311.5H556.2V326.2H552.1zM576.7 311.5H580.8V326.2H576.7zM589 311.5H593.1V326.2H589zM617.7 311.5H621.8V326.2H617.7zM625.9 311.5H630V326.2H625.9zM1011.5 311.5H1015.6V326.2H1011.5zM203.4 326.2H207.5V340.9H203.4zM338.8 326.2H342.9V340.9H338.8zM646.4 326.2H650.5V340.9H646.4zM1093.5 326.2H1097.6V340.9H1093.5zM264.9 340.9H269V355.5H264.9zM798.2 340.9H802.3V355.5H798.2zM843.3 340.9H847.4V355.5H843.3zM945.8 340.9H949.9V355.5H945.8zM1019.7 340.9H1023.8V355.5H1019.7zM1081.2 340.9H1085.3V355.5H1081.2zM502.8 355.5H506.9V370.2H502.8zM593.1 355.5H597.2V370.2H593.1zM642.3 355.5H646.4V370.2H642.3zM675.1 355.5H679.2V370.2H675.1zM322.4 370.2H326.5V384.9H322.4zM375.7 384.9H379.8V399.6H375.7zM420.8 384.9H424.9V399.6H420.8z"/>
<path fill="#313168" d="M330.6 120.6H334.7V135.3H330.6zM605.4 120.6H609.5V135.3H605.4zM720.2 120.6H724.3V135.3H720.2zM408.5 135.3H412.6V150H408.5zM465.9 135.3H470V150H465.9zM630 135.3H634.1V150H630zM642.3 135.3H646.4V150H642.3zM240.3 150H244.4V164.7H240.3zM260.8 150H264.9V164.7H260.8zM285.4 150H289.5V164.7H285.4zM576.7 150H580.8V164.7H576.7zM716.1 150H720.2V164.7H716.1zM818.7 164.7H822.8V179.3H818.7zM240.3 179.3H244.4V194H240.3zM326.5 179.3H334.7V194H326.5zM748.9 179.3H753V194H748.9zM445.4 194H449.5V208.7H445.4zM494.6 194H498.7V208.7H494.6zM457.7 208.7H461.8V223.4H457.7zM593.1 208.7H597.2V223.4H593.1zM642.3 208.7H646.4V223.4H642.3zM773.6 208.7H777.7V223.4H773.6zM347 223.4H351.1V238.1H347zM383.9 223.4H388V238.1H383.9zM424.9 223.4H429V238.1H424.9zM888.4 223.4H892.5V238.1H888.4zM716.1 238.1H720.2V252.8H716.1zM753 238.1H757.1V252.8H753zM223.9 252.8H228V267.4H223.9zM351.1 252.8H355.2V267.4H351.1zM666.9 252.8H671V267.4H666.9zM703.8 252.8H707.9V267.4H703.8zM949.9 252.8H954V267.4H949.9zM995.1 267.4H999.2V282.1H995.1zM285.4 282.1H293.6V296.8H285.4zM215.7 296.8H223.9V311.5H215.7zM880.2 296.8H884.3V311.5H880.2zM986.9 296.8H991V311.5H986.9zM334.7 311.5H338.8V326.2H334.7zM818.7 311.5H822.8V326.2H818.7zM982.7 311.5H986.9V326.2H982.7zM211.6 326.2H215.7V340.9H211.6zM330.6 326.2H334.7V340.9H330.6zM494.6 326.2H498.7V340.9H494.6zM556.2 326.2H560.3V340.9H556.2zM790 326.2H794.1V340.9H790zM798.2 326.2H802.3V340.9H798.2zM863.8 326.2H867.9V340.9H863.8zM954 326.2H958.1V340.9H954zM1068.9 326.2H1073V340.9H1068.9zM248.5 340.9H252.6V355.5H248.5zM470 340.9H474.1V355.5H470zM260.8 355.5H264.9V370.2H260.8zM654.6 355.5H658.7V370.2H654.6zM539.8 370.2H548V384.9H539.8zM929.4 370.2H933.5V384.9H929.4zM453.6 384.9H457.7V399.6H453.6zM474.1 384.9H478.2V399.6H474.1zM831 384.9H835.1V399.6H831zM941.7 384.9H945.8V399.6H941.7zM966.3 384.9H970.4V399.6H966.3zM986.9 384.9H991V399.6H986.9zM995.1 384.9H999.2V399.6H995.1zM1015.6 384.9H1019.7V399.6H1015.6zM1027.9 384.9H1032V399.6H1027.9zM1085.3 384.9H1093.5V399.6H1085.3z"/>
<path fill="#2e2e68" d="M334.7 120.6H338.8V135.3H334.7zM429 120.6H433.1V135.3H429zM441.3 120.6H445.4V135.3H441.3zM453.6 120.6H457.7V135.3H453.6zM498.7 120.6H502.8V135.3H498.7zM552.1 120.6H556.2V135.3H552.1zM621.8 120.6H625.9V135.3H621.8zM707.9 120.6H712V135.3H707.9zM269 135.3H273.1V150H269zM293.6 135.3H297.7V150H293.6zM330.6 135.3H334.7V150H330.6zM420.8 135.3H424.9V150H420.8zM437.2 135.3H441.3V150H437.2zM461.8 135.3H465.9V150H461.8zM199.3 150H203.4V164.7H199.3zM277.2 150H281.3V164.7H277.2zM334.7 150H338.8V164.7H334.7zM420.8 150H424.9V164.7H420.8zM486.4 150H490.5V164.7H486.4zM564.4 150H568.5V164.7H564.4zM982.7 150H986.9V164.7H982.7zM1036.1 150H1040.2V164.7H1036.1zM215.7 164.7H219.8V179.3H215.7zM232.1 164.7H236.2V179.3H232.1zM244.4 164.7H248.5V179.3H244.4zM347 164.7H351.1V179.3H347zM392.1 164.7H396.2V179.3H392.1zM482.3 164.7H494.6V179.3H482.3zM506.9 164.7H511V179.3H506.9zM1032 164.7H1036.1V179.3H1032zM1077.1 164.7H1081.2V179.3H1077.1zM264.9 179.3H273.1V194H264.9zM347 179.3H351.1V194H347zM375.7 179.3H379.8V194H375.7zM392.1 179.3H396.2V194H392.1zM445.4 179.3H453.6V194H445.4zM552.1 179.3H556.2V194H552.1zM560.3 179.3H568.5V194H560.3zM584.9 179.3H589V194H584.9zM609.5 179.3H613.6V194H609.5zM642.3 179.3H646.4V194H642.3zM650.5 179.3H654.6V194H650.5zM986.9 179.3H991V194H986.9zM1036.1 179.3H1040.2V194H1036.1zM1081.2 179.3H1085.3V194H1081.2zM363.4 194H367.5V208.7H363.4zM449.5 194H453.6V208.7H449.5zM482.3 194H486.4V208.7H482.3zM490.5 194H494.6V208.7H490.5zM568.5 194H572.6V208.7H568.5zM232.1 208.7H236.2V223.4H232.1zM379.8 208.7H383.9V223.4H379.8zM416.7 208.7H420.8V223.4H416.7zM429 208.7H433.1V223.4H429zM502.8 208.7H506.9V223.4H502.8zM650.5 208.7H658.7V223.4H650.5zM683.3 208.7H687.4V223.4H683.3zM814.6 208.7H818.7V223.4H814.6zM822.8 208.7H826.9V223.4H822.8zM831 208.7H835.1V223.4H831zM900.7 208.7H904.8V223.4H900.7zM1003.3 208.7H1007.4V223.4H1003.3zM232.1 223.4H236.2V238.1H232.1zM240.3 223.4H244.4V238.1H240.3zM388 223.4H392.1V238.1H388zM420.8 223.4H424.9V238.1H420.8zM506.9 223.4H511V238.1H506.9zM617.7 223.4H621.8V238.1H617.7zM814.6 223.4H818.7V238.1H814.6zM822.8 223.4H826.9V238.1H822.8zM962.2 223.4H966.3V238.1H962.2zM301.8 238.1H314.2V252.8H301.8zM814.6 238.1H818.7V252.8H814.6zM900.7 238.1H904.8V252.8H900.7zM314.2 252.8H318.3V267.4H314.2zM338.8 252.8H347V267.4H338.8zM388 252.8H392.1V267.4H388zM572.6 252.8H576.7V267.4H572.6zM597.2 252.8H601.3V267.4H597.2zM699.7 252.8H703.8V267.4H699.7zM1089.4 252.8H1093.5V267.4H1089.4zM215.7 267.4H219.8V282.1H215.7zM228 267.4H232.1V282.1H228zM494.6 267.4H498.7V282.1H494.6zM843.3 267.4H847.4V282.1H843.3zM367.5 282.1H371.6V296.8H367.5zM515.1 282.1H519.2V296.8H515.1zM999.2 282.1H1003.3V296.8H999.2zM515.1 296.8H523.3V311.5H515.1zM691.5 296.8H695.6V311.5H691.5zM806.4 296.8H810.5V311.5H806.4zM835.1 296.8H843.3V311.5H835.1zM855.6 296.8H863.8V311.5H855.6zM896.6 296.8H900.7V311.5H896.6zM211.6 311.5H219.8V326.2H211.6zM223.9 311.5H228V326.2H223.9zM371.6 311.5H379.8V326.2H371.6zM666.9 311.5H671V326.2H666.9zM675.1 311.5H679.2V326.2H675.1zM728.4 311.5H732.5V326.2H728.4zM761.3 311.5H765.4V326.2H761.3zM855.6 311.5H863.8V326.2H855.6zM978.6 311.5H982.7V326.2H978.6zM1027.9 311.5H1032V326.2H1027.9zM191.1 326.2H195.2V340.9H191.1zM232.1 326.2H236.2V340.9H232.1zM326.5 326.2H330.6V340.9H326.5zM334.7 326.2H338.8V340.9H334.7zM404.4 326.2H408.5V340.9H404.4zM605.4 326.2H609.5V340.9H605.4zM617.7 326.2H621.8V340.9H617.7zM662.8 326.2H666.9V340.9H662.8zM712 326.2H716.1V340.9H712zM769.5 326.2H773.6V340.9H769.5zM785.9 326.2H790V340.9H785.9zM855.6 326.2H863.8V340.9H855.6zM867.9 326.2H872V340.9H867.9zM945.8 326.2H949.9V340.9H945.8zM995.1 326.2H999.2V340.9H995.1zM1023.8 326.2H1027.9V340.9H1023.8zM1040.2 326.2H1048.4V340.9H1040.2zM1052.5 326.2H1060.7V340.9H1052.5zM252.6 340.9H256.7V355.5H252.6zM433.1 340.9H437.2V355.5H433.1zM638.2 340.9H642.3V355.5H638.2zM744.8 340.9H757.1V355.5H744.8zM785.9 340.9H790V355.5H785.9zM1023.8 340.9H1027.9V355.5H1023.8zM264.9 355.5H269V370.2H264.9zM535.7 370.2H539.8V384.9H535.7zM712 370.2H716.1V384.9H712zM740.7 370.2H744.8V384.9H740.7zM1056.6 370.2H1060.7V384.9H1056.6zM736.6 384.9H740.7V399.6H736.6zM872 384.9H880.2V399.6H872zM888.4 384.9H892.5V399.6H888.4zM904.8 384.9H917.1V399.6H904.8zM945.8 384.9H949.9V399.6H945.8zM991 384.9H995.1V399.6H991zM1007.4 384.9H1011.5V399.6H1007.4zM1036.1 384.9H1040.2V399.6H1036.1zM1060.7 384.9H1064.8V399.6H1060.7zM1073 384.9H1077.1V399.6H1073z"/>
<path fill="#1b1a5a" d="M338.8 120.6H342.9V135.3H338.8zM400.3 120.6H404.4V135.3H400.3zM433.1 120.6H437.2V135.3H433.1zM531.6 120.6H535.7V135.3H531.6zM609.5 120.6H613.6V135.3H609.5zM449.5 135.3H457.7V150H449.5zM474.1 135.3H482.3V150H474.1zM486.4 135.3H490.5V150H486.4zM519.2 135.3H523.3V150H519.2zM531.6 135.3H535.7V150H531.6zM539.8 135.3H543.9V150H539.8zM264.9 150H269V164.7H264.9zM531.6 150H535.7V164.7H531.6zM314.2 164.7H318.3V179.3H314.2zM379.8 164.7H383.9V179.3H379.8zM408.5 164.7H412.6V179.3H408.5zM441.3 164.7H445.4V179.3H441.3zM511 164.7H523.3V179.3H511zM260.8 179.3H264.9V194H260.8zM465.9 179.3H470V194H465.9zM523.3 179.3H531.6V194H523.3zM519.2 194H523.3V208.7H519.2zM306 208.7H310.1V223.4H306zM355.2 208.7H359.3V223.4H355.2zM695.6 208.7H699.7V223.4H695.6zM904.8 208.7H908.9V223.4H904.8zM1032 208.7H1036.1V223.4H1032zM301.8 223.4H306V238.1H301.8zM433.1 223.4H437.2V238.1H433.1zM580.8 223.4H584.9V238.1H580.8zM847.4 223.4H851.5V238.1H847.4zM896.6 223.4H900.7V238.1H896.6zM228 238.1H232.1V252.8H228zM326.5 238.1H330.6V252.8H326.5zM347 238.1H351.1V252.8H347zM654.6 238.1H658.7V252.8H654.6zM785.9 238.1H790V252.8H785.9zM802.3 238.1H806.4V252.8H802.3zM855.6 238.1H859.7V252.8H855.6zM872 238.1H876.1V252.8H872zM888.4 238.1H892.5V252.8H888.4zM1003.3 238.1H1007.4V252.8H1003.3zM1032 238.1H1036.1V252.8H1032zM1085.3 238.1H1089.4V252.8H1085.3zM191.1 252.8H195.2V267.4H191.1zM334.7 252.8H338.8V267.4H334.7zM367.5 252.8H371.6V267.4H367.5zM609.5 252.8H613.6V267.4H609.5zM962.2 252.8H966.3V267.4H962.2zM191.1 267.4H195.2V282.1H191.1zM199.3 267.4H203.4V282.1H199.3zM240.3 267.4H244.4V282.1H240.3zM252.6 267.4H256.7V282.1H252.6zM326.5 267.4H330.6V282.1H326.5zM351.1 267.4H355.2V282.1H351.1zM400.3 267.4H404.4V282.1H400.3zM461.8 267.4H465.9V282.1H461.8zM482.3 267.4H486.4V282.1H482.3zM511 267.4H515.1V282.1H511zM736.6 267.4H744.8V282.1H736.6zM855.6 267.4H859.7V282.1H855.6zM199.3 282.1H203.4V296.8H199.3zM211.6 282.1H215.7V296.8H211.6zM330.6 282.1H334.7V296.8H330.6zM383.9 282.1H388V296.8H383.9zM494.6 282.1H498.7V296.8H494.6zM535.7 282.1H539.8V296.8H535.7zM716.1 282.1H720.2V296.8H716.1zM753 282.1H757.1V296.8H753zM769.5 282.1H773.6V296.8H769.5zM794.1 282.1H802.3V296.8H794.1zM876.1 282.1H880.2V296.8H876.1zM1003.3 282.1H1007.4V296.8H1003.3zM1093.5 282.1H1097.6V296.8H1093.5zM232.1 296.8H236.2V311.5H232.1zM342.9 296.8H347V311.5H342.9zM748.9 296.8H753V311.5H748.9zM757.1 296.8H761.3V311.5H757.1zM785.9 296.8H790V311.5H785.9zM826.9 296.8H831V311.5H826.9zM904.8 296.8H908.9V311.5H904.8zM913 296.8H917.1V311.5H913zM437.2 311.5H441.3V326.2H437.2zM478.2 311.5H482.3V326.2H478.2zM494.6 311.5H498.7V326.2H494.6zM556.2 311.5H560.3V326.2H556.2zM609.5 311.5H613.6V326.2H609.5zM826.9 311.5H831V326.2H826.9zM929.4 311.5H933.5V326.2H929.4zM941.7 311.5H949.9V326.2H941.7zM1003.3 311.5H1007.4V326.2H1003.3zM195.2 326.2H199.3V340.9H195.2zM256.7 326.2H260.8V340.9H256.7zM277.2 326.2H281.3V340.9H277.2zM322.4 326.2H326.5V340.9H322.4zM342.9 326.2H363.4V340.9H342.9zM437.2 326.2H441.3V340.9H437.2zM453.6 326.2H457.7V340.9H453.6zM523.3 326.2H527.4V340.9H523.3zM531.6 326.2H535.7V340.9H531.6zM671 326.2H675.1V340.9H671zM822.8 326.2H826.9V340.9H822.8zM884.3 326.2H888.4V340.9H884.3zM1027.9 326.2H1032V340.9H1027.9zM1036.1 326.2H1040.2V340.9H1036.1zM195.2 340.9H199.3V355.5H195.2zM318.3 340.9H322.4V355.5H318.3zM342.9 340.9H347V355.5H342.9zM379.8 340.9H383.9V355.5H379.8zM396.2 340.9H400.3V355.5H396.2zM404.4 340.9H408.5V355.5H404.4zM424.9 340.9H429V355.5H424.9zM457.7 340.9H461.8V355.5H457.7zM478.2 340.9H486.4V355.5H478.2zM498.7 340.9H502.8V355.5H498.7zM679.2 340.9H683.3V355.5H679.2zM761.3 340.9H765.4V355.5H761.3zM876.1 340.9H880.2V355.5H876.1zM1060.7 340.9H1064.8V355.5H1060.7zM215.7 355.5H219.8V370.2H215.7zM531.6 355.5H535.7V370.2H531.6zM552.1 355.5H556.2V370.2H552.1zM937.6 355.5H941.7V370.2H937.6zM215.7 370.2H219.8V384.9H215.7zM232.1 370.2H236.2V384.9H232.1zM515.1 370.2H519.2V384.9H515.1zM748.9 370.2H753V384.9H748.9zM851.5 370.2H855.6V384.9H851.5zM999.2 370.2H1003.3V384.9H999.2zM1068.9 370.2H1073V384.9H1068.9zM527.4 384.9H531.6V399.6H527.4zM691.5 384.9H695.6V399.6H691.5zM826.9 384.9H831V399.6H826.9zM851.5 384.9H855.6V399.6H851.5zM958.1 384.9H966.3V399.6H958.1z"/>
<path fill="#717159" d="M371.6 120.6H375.7V135.3H371.6zM642.3 120.6H650.5V135.3H642.3zM662.8 120.6H666.9V135.3H662.8zM687.4 120.6H691.5V135.3H687.4zM712 120.6H716.1V135.3H712zM740.7 120.6H744.8V135.3H740.7zM908.9 120.6H913V135.3H908.9zM650.5 135.3H654.6V150H650.5zM999.2 135.3H1003.3V150H999.2zM244.4 150H248.5V164.7H244.4zM683.3 150H687.4V164.7H683.3zM863.8 150H867.9V164.7H863.8zM908.9 150H913V164.7H908.9zM974.5 150H978.6V164.7H974.5zM228 164.7H232.1V179.3H228zM342.9 164.7H347V179.3H342.9zM658.7 164.7H666.9V179.3H658.7zM802.3 164.7H806.4V179.3H802.3zM839.2 164.7H843.3V179.3H839.2zM867.9 164.7H872V179.3H867.9zM880.2 164.7H892.5V179.3H880.2zM908.9 164.7H913V179.3H908.9zM978.6 164.7H982.7V179.3H978.6zM995.1 164.7H999.2V179.3H995.1zM1011.5 164.7H1015.6V179.3H1011.5zM1064.8 164.7H1073V179.3H1064.8zM314.2 179.3H318.3V194H314.2zM720.2 179.3H724.3V194H720.2zM892.5 179.3H896.6V194H892.5zM252.6 194H256.7V208.7H252.6zM289.5 194H293.6V208.7H289.5zM424.9 194H429V208.7H424.9zM646.4 194H650.5V208.7H646.4zM835.1 194H839.2V208.7H835.1zM892.5 194H900.7V208.7H892.5zM941.7 194H945.8V208.7H941.7zM1060.7 194H1064.8V208.7H1060.7zM1077.1 194H1081.2V208.7H1077.1zM1089.4 194H1093.5V208.7H1089.4zM342.9 208.7H347V223.4H342.9zM367.5 208.7H371.6V223.4H367.5zM400.3 208.7H404.4V223.4H400.3zM470 208.7H474.1V223.4H470zM490.5 208.7H494.6V223.4H490.5zM580.8 208.7H584.9V223.4H580.8zM601.3 208.7H605.4V223.4H601.3zM707.9 208.7H712V223.4H707.9zM244.4 223.4H248.5V238.1H244.4zM252.6 223.4H256.7V238.1H252.6zM269 223.4H273.1V238.1H269zM289.5 223.4H297.7V238.1H289.5zM355.2 223.4H359.3V238.1H355.2zM371.6 223.4H375.7V238.1H371.6zM396.2 223.4H400.3V238.1H396.2zM412.6 223.4H416.7V238.1H412.6zM461.8 223.4H465.9V238.1H461.8zM597.2 223.4H601.3V238.1H597.2zM605.4 223.4H613.6V238.1H605.4zM634.1 223.4H642.3V238.1H634.1zM654.6 223.4H658.7V238.1H654.6zM683.3 223.4H687.4V238.1H683.3zM691.5 223.4H695.6V238.1H691.5zM744.8 223.4H753V238.1H744.8zM757.1 223.4H765.4V238.1H757.1zM826.9 223.4H831V238.1H826.9zM839.2 223.4H843.3V238.1H839.2zM859.7 223.4H863.8V238.1H859.7zM941.7 223.4H949.9V238.1H941.7zM974.5 223.4H978.6V238.1H974.5zM1019.7 223.4H1023.8V238.1H1019.7zM1064.8 223.4H1068.9V238.1H1064.8zM1081.2 223.4H1085.3V238.1H1081.2zM248.5 238.1H252.6V252.8H248.5zM269 238.1H273.1V252.8H269zM277.2 238.1H281.3V252.8H277.2zM285.4 238.1H289.5V252.8H285.4zM297.7 238.1H301.8V252.8H297.7zM429 238.1H433.1V252.8H429zM453.6 238.1H457.7V252.8H453.6zM511 238.1H515.1V252.8H511zM523.3 238.1H527.4V252.8H523.3zM543.9 238.1H548V252.8H543.9zM593.1 238.1H597.2V252.8H593.1zM740.7 238.1H744.8V252.8H740.7zM273.1 252.8H277.2V267.4H273.1zM318.3 252.8H322.4V267.4H318.3zM498.7 252.8H506.9V267.4H498.7zM511 252.8H515.1V267.4H511zM523.3 252.8H527.4V267.4H523.3zM560.3 252.8H564.4V267.4H560.3zM568.5 252.8H572.6V267.4H568.5zM576.7 252.8H580.8V267.4H576.7zM589 252.8H593.1V267.4H589zM654.6 252.8H658.7V267.4H654.6zM679.2 252.8H683.3V267.4H679.2zM732.5 252.8H736.6V267.4H732.5zM753 252.8H761.3V267.4H753zM970.4 252.8H974.5V267.4H970.4zM991 252.8H995.1V267.4H991zM1023.8 252.8H1027.9V267.4H1023.8zM1052.5 252.8H1056.6V267.4H1052.5zM1073 252.8H1077.1V267.4H1073zM301.8 267.4H306V282.1H301.8zM470 267.4H474.1V282.1H470zM580.8 267.4H584.9V282.1H580.8zM904.8 267.4H908.9V282.1H904.8zM945.8 267.4H954V282.1H945.8zM958.1 267.4H962.2V282.1H958.1zM986.9 267.4H991V282.1H986.9zM236.2 282.1H244.4V296.8H236.2zM256.7 282.1H260.8V296.8H256.7zM281.3 282.1H285.4V296.8H281.3zM314.2 282.1H318.3V296.8H314.2zM334.7 282.1H338.8V296.8H334.7zM408.5 282.1H412.6V296.8H408.5zM441.3 282.1H457.7V296.8H441.3zM580.8 282.1H589V296.8H580.8zM683.3 282.1H687.4V296.8H683.3zM744.8 282.1H748.9V296.8H744.8zM765.4 282.1H769.5V296.8H765.4zM260.8 296.8H264.9V311.5H260.8zM330.6 296.8H338.8V311.5H330.6zM474.1 296.8H478.2V311.5H474.1zM486.4 296.8H490.5V311.5H486.4zM535.7 296.8H539.8V311.5H535.7zM556.2 296.8H560.3V311.5H556.2zM597.2 296.8H601.3V311.5H597.2zM810.5 296.8H814.6V311.5H810.5zM991 296.8H995.1V311.5H991zM597.2 311.5H601.3V326.2H597.2zM646.4 311.5H650.5V326.2H646.4zM707.9 311.5H712V326.2H707.9zM937.6 311.5H941.7V326.2H937.6zM999.2 311.5H1003.3V326.2H999.2zM1064.8 311.5H1068.9V326.2H1064.8zM474.1 326.2H478.2V340.9H474.1zM506.9 326.2H511V340.9H506.9zM564.4 326.2H568.5V340.9H564.4zM638.2 326.2H642.3V340.9H638.2zM683.3 326.2H687.4V340.9H683.3zM790 340.9H794.1V355.5H790zM867.9 340.9H872V355.5H867.9zM884.3 340.9H888.4V355.5H884.3zM900.7 340.9H904.8V355.5H900.7zM917.1 340.9H921.2V355.5H917.1zM929.4 340.9H933.5V355.5H929.4zM937.6 340.9H941.7V355.5H937.6zM966.3 340.9H974.5V355.5H966.3zM1015.6 340.9H1019.7V355.5H1015.6zM1036.1 340.9H1040.2V355.5H1036.1zM1052.5 340.9H1056.6V355.5H1052.5zM1064.8 340.9H1073V355.5H1064.8zM330.6 355.5H334.7V370.2H330.6zM490.5 355.5H494.6V370.2H490.5zM511 355.5H515.1V370.2H511zM712 355.5H716.1V370.2H712zM301.8 370.2H306V384.9H301.8zM347 370.2H351.1V384.9H347zM552.1 370.2H556.2V384.9H552.1zM576.7 370.2H580.8V384.9H576.7zM273.1 384.9H277.2V399.6H273.1zM355.2 384.9H359.3V399.6H355.2zM408.5 384.9H412.6V399.6H408.5zM424.9 384.9H429V399.6H424.9zM445.4 384.9H453.6V399.6H445.4zM494.6 384.9H498.7V399.6H494.6zM535.7 384.9H539.8V399.6H535.7zM552.1 384.9H556.2V399.6H552.1zM605.4 384.9H609.5V399.6H605.4zM617.7 384.9H621.8V399.6H617.7z"/>
<path fill="#83834d" d="M379.8 120.6H383.9V135.3H379.8zM617.7 120.6H621.8V135.3H617.7zM777.7 120.6H781.8V135.3H777.7zM900.7 120.6H904.8V135.3H900.7zM913 120.6H917.1V135.3H913zM1007.4 120.6H1011.5V135.3H1007.4zM1023.8 120.6H1027.9V135.3H1023.8zM798.2 135.3H802.3V150H798.2zM982.7 135.3H986.9V150H982.7zM1007.4 135.3H1011.5V150H1007.4zM712 150H716.1V164.7H712zM765.4 150H769.5V164.7H765.4zM781.8 150H785.9V164.7H781.8zM810.5 150H814.6V164.7H810.5zM954 150H962.2V164.7H954zM1068.9 150H1073V164.7H1068.9zM1093.5 150H1097.6V164.7H1093.5zM273.1 164.7H277.2V179.3H273.1zM646.4 164.7H650.5V179.3H646.4zM703.8 164.7H707.9V179.3H703.8zM728.4 164.7H732.5V179.3H728.4zM736.6 164.7H740.7V179.3H736.6zM863.8 164.7H867.9V179.3H863.8zM970.4 164.7H974.5V179.3H970.4zM306 179.3H310.1V194H306zM970.4 179.3H974.5V194H970.4zM310.1 194H314.2V208.7H310.1zM556.2 194H560.3V208.7H556.2zM781.8 194H785.9V208.7H781.8zM855.6 194H859.7V208.7H855.6zM970.4 194H974.5V208.7H970.4zM1015.6 194H1019.7V208.7H1015.6zM769.5 223.4H777.7V238.1H769.5zM1027.9 223.4H1036.1V238.1H1027.9zM490.5 238.1H498.7V252.8H490.5zM502.8 238.1H506.9V252.8H502.8zM687.4 238.1H691.5V252.8H687.4zM543.9 252.8H548V267.4H543.9zM675.1 267.4H679.2V282.1H675.1zM691.5 267.4H695.6V282.1H691.5zM744.8 267.4H748.9V282.1H744.8zM564.4 282.1H568.5V296.8H564.4zM445.4 296.8H453.6V311.5H445.4zM314.2 340.9H318.3V355.5H314.2zM593.1 340.9H597.2V355.5H593.1zM658.7 340.9H662.8V355.5H658.7zM991 340.9H995.1V355.5H991zM1093.5 340.9H1097.6V355.5H1093.5zM347 355.5H351.1V370.2H347zM474.1 355.5H478.2V370.2H474.1zM494.6 355.5H498.7V370.2H494.6zM617.7 355.5H621.8V370.2H617.7zM810.5 355.5H814.6V370.2H810.5zM359.3 370.2H363.4V384.9H359.3zM703.8 370.2H707.9V384.9H703.8zM712 384.9H716.1V399.6H712z"/>
<path fill="#474767" d="M383.9 120.6H388V135.3H383.9zM691.5 120.6H699.7V135.3H691.5zM244.4 135.3H248.5V150H244.4zM580.8 135.3H584.9V150H580.8zM662.8 135.3H671V150H662.8zM699.7 135.3H703.8V150H699.7zM412.6 150H416.7V164.7H412.6zM437.2 164.7H441.3V179.3H437.2zM781.8 164.7H785.9V179.3H781.8zM351.1 179.3H355.2V194H351.1zM548 179.3H552.1V194H548zM580.8 179.3H584.9V194H580.8zM707.9 179.3H712V194H707.9zM244.4 194H248.5V208.7H244.4zM367.5 194H371.6V208.7H367.5zM408.5 194H412.6V208.7H408.5zM527.4 194H531.6V208.7H527.4zM831 194H835.1V208.7H831zM933.5 194H937.6V208.7H933.5zM945.8 194H949.9V208.7H945.8zM986.9 194H991V208.7H986.9zM445.4 208.7H449.5V223.4H445.4zM625.9 208.7H630V223.4H625.9zM646.4 208.7H650.5V223.4H646.4zM666.9 208.7H671V223.4H666.9zM703.8 208.7H707.9V223.4H703.8zM761.3 208.7H769.5V223.4H761.3zM908.9 208.7H913V223.4H908.9zM962.2 208.7H966.3V223.4H962.2zM991 208.7H995.1V223.4H991zM1011.5 208.7H1015.6V223.4H1011.5zM1036.1 208.7H1040.2V223.4H1036.1zM297.7 223.4H301.8V238.1H297.7zM429 223.4H433.1V238.1H429zM437.2 223.4H441.3V238.1H437.2zM474.1 223.4H478.2V238.1H474.1zM720.2 223.4H724.3V238.1H720.2zM851.5 223.4H855.6V238.1H851.5zM929.4 223.4H933.5V238.1H929.4zM748.9 238.1H753V252.8H748.9zM810.5 238.1H814.6V252.8H810.5zM929.4 238.1H933.5V252.8H929.4zM269 252.8H273.1V267.4H269zM383.9 252.8H388V267.4H383.9zM847.4 252.8H851.5V267.4H847.4zM978.6 252.8H982.7V267.4H978.6zM195.2 267.4H199.3V282.1H195.2zM207.5 267.4H211.6V282.1H207.5zM707.9 267.4H712V282.1H707.9zM724.3 267.4H728.4V282.1H724.3zM798.2 267.4H802.3V282.1H798.2zM908.9 267.4H913V282.1H908.9zM519.2 282.1H523.3V296.8H519.2zM252.6 296.8H256.7V311.5H252.6zM379.8 296.8H383.9V311.5H379.8zM498.7 296.8H502.8V311.5H498.7zM716.1 296.8H720.2V311.5H716.1zM933.5 296.8H937.6V311.5H933.5zM314.2 311.5H318.3V326.2H314.2zM383.9 311.5H388V326.2H383.9zM564.4 311.5H568.5V326.2H564.4zM712 311.5H716.1V326.2H712zM781.8 311.5H785.9V326.2H781.8zM933.5 311.5H937.6V326.2H933.5zM995.1 311.5H999.2V326.2H995.1zM1085.3 311.5H1089.4V326.2H1085.3zM260.8 326.2H264.9V340.9H260.8zM740.7 326.2H744.8V340.9H740.7zM1019.7 326.2H1023.8V340.9H1019.7zM1032 326.2H1036.1V340.9H1032zM794.1 340.9H798.2V355.5H794.1zM835.1 340.9H839.2V355.5H835.1zM223.9 355.5H228V370.2H223.9zM306 355.5H310.1V370.2H306zM630 355.5H634.1V370.2H630zM310.1 370.2H314.2V384.9H310.1zM810.5 370.2H814.6V384.9H810.5zM342.9 384.9H347V399.6H342.9zM835.1 384.9H839.2V399.6H835.1zM843.3 384.9H847.4V399.6H843.3zM921.2 384.9H925.3V399.6H921.2zM949.9 384.9H954V399.6H949.9zM1019.7 384.9H1023.8V399.6H1019.7zM1077.1 384.9H1081.2V399.6H1077.1z"/>
<path fill="#eee81e" d="M392.1 120.6H396.2V135.3H392.1zM986.9 120.6H991V135.3H986.9zM1036.1 120.6H1044.3V135.3H1036.1zM1089.4 120.6H1093.5V135.3H1089.4zM872 135.3H876.1V150H872zM904.8 135.3H908.9V150H904.8zM703.8 150H707.9V164.7H703.8zM945.8 150H949.9V164.7H945.8zM593.1 164.7H597.2V179.3H593.1zM757.1 164.7H761.3V179.3H757.1zM765.4 164.7H769.5V179.3H765.4zM794.1 179.3H802.3V194H794.1zM285.4 194H289.5V208.7H285.4zM806.4 194H810.5V208.7H806.4zM1093.5 208.7H1097.6V223.4H1093.5zM630 223.4H634.1V238.1H630zM625.9 238.1H630V252.8H625.9zM642.3 238.1H646.4V252.8H642.3zM617.7 267.4H625.9V282.1H617.7zM638.2 296.8H642.3V311.5H638.2zM642.3 311.5H646.4V326.2H642.3zM642.3 340.9H646.4V355.5H642.3zM420.8 355.5H424.9V370.2H420.8zM429 355.5H433.1V370.2H429zM506.9 355.5H511V370.2H506.9zM548 355.5H552.1V370.2H548zM687.4 355.5H691.5V370.2H687.4zM281.3 370.2H285.4V384.9H281.3zM396.2 370.2H400.3V384.9H396.2zM457.7 370.2H478.2V384.9H457.7zM482.3 370.2H494.6V384.9H482.3zM498.7 370.2H502.8V384.9H498.7zM556.2 370.2H560.3V384.9H556.2zM634.1 370.2H642.3V384.9H634.1zM281.3 384.9H285.4V399.6H281.3z"/>
<path fill="#0e0e40" d="M396.2 120.6H400.3V135.3H396.2zM416.7 120.6H420.8V135.3H416.7zM465.9 120.6H470V135.3H465.9zM482.3 120.6H490.5V135.3H482.3zM523.3 120.6H527.4V135.3H523.3zM535.7 120.6H543.9V135.3H535.7zM601.3 120.6H605.4V135.3H601.3zM625.9 120.6H630V135.3H625.9zM506.9 135.3H515.1V150H506.9zM306 150H310.1V164.7H306zM506.9 150H515.1V164.7H506.9zM543.9 164.7H548V179.3H543.9zM625.9 164.7H630V179.3H625.9zM470 194H474.1V208.7H470zM478.2 194H482.3V208.7H478.2zM605.4 194H609.5V208.7H605.4zM617.7 194H621.8V208.7H617.7zM625.9 194H630V208.7H625.9zM642.3 194H646.4V208.7H642.3zM617.7 208.7H621.8V223.4H617.7zM1044.3 208.7H1048.4V223.4H1044.3zM535.7 223.4H539.8V238.1H535.7zM642.3 223.4H646.4V238.1H642.3zM913 223.4H917.1V238.1H913zM289.5 238.1H293.6V252.8H289.5zM675.1 238.1H679.2V252.8H675.1zM699.7 238.1H707.9V252.8H699.7zM720.2 238.1H724.3V252.8H720.2zM765.4 238.1H769.5V252.8H765.4zM818.7 238.1H851.5V252.8H818.7zM863.8 238.1H867.9V252.8H863.8zM880.2 238.1H884.3V252.8H880.2zM892.5 238.1H900.7V252.8H892.5zM904.8 238.1H929.4V252.8H904.8zM933.5 238.1H937.6V252.8H933.5zM949.9 238.1H966.3V252.8H949.9zM1027.9 238.1H1032V252.8H1027.9zM1044.3 238.1H1048.4V252.8H1044.3zM1073 238.1H1077.1V252.8H1073zM228 252.8H236.2V267.4H228zM326.5 252.8H330.6V267.4H326.5zM683.3 252.8H687.4V267.4H683.3zM765.4 252.8H769.5V267.4H765.4zM921.2 252.8H925.3V267.4H921.2zM232.1 267.4H240.3V282.1H232.1zM314.2 267.4H322.4V282.1H314.2zM367.5 267.4H371.6V282.1H367.5zM535.7 267.4H543.9V282.1H535.7zM498.7 282.1H502.8V296.8H498.7zM662.8 282.1H666.9V296.8H662.8zM814.6 282.1H835.1V296.8H814.6zM847.4 282.1H855.6V296.8H847.4zM867.9 282.1H872V296.8H867.9zM884.3 282.1H904.8V296.8H884.3zM908.9 282.1H933.5V296.8H908.9zM949.9 282.1H958.1V296.8H949.9zM974.5 282.1H995.1V296.8H974.5zM1015.6 282.1H1023.8V296.8H1015.6zM1044.3 282.1H1048.4V296.8H1044.3zM1052.5 282.1H1056.6V296.8H1052.5zM1081.2 282.1H1085.3V296.8H1081.2zM453.6 296.8H457.7V311.5H453.6zM347 311.5H351.1V326.2H347zM445.4 311.5H457.7V326.2H445.4zM515.1 311.5H519.2V326.2H515.1zM613.6 311.5H617.7V326.2H613.6zM703.8 311.5H707.9V326.2H703.8zM847.4 311.5H851.5V326.2H847.4zM908.9 311.5H917.1V326.2H908.9zM908.9 326.2H917.1V340.9H908.9zM273.1 340.9H277.2V355.5H273.1zM523.3 340.9H527.4V355.5H523.3zM707.9 340.9H720.2V355.5H707.9zM211.6 355.5H215.7V370.2H211.6zM277.2 355.5H281.3V370.2H277.2zM293.6 355.5H297.7V370.2H293.6zM601.3 355.5H605.4V370.2H601.3zM732.5 355.5H736.6V370.2H732.5zM769.5 355.5H810.5V370.2H769.5zM814.6 355.5H839.2V370.2H814.6zM843.3 355.5H847.4V370.2H843.3zM855.6 355.5H859.7V370.2H855.6zM867.9 355.5H880.2V370.2H867.9zM884.3 355.5H888.4V370.2H884.3zM904.8 355.5H908.9V370.2H904.8zM913 355.5H925.3V370.2H913zM958.1 355.5H962.2V370.2H958.1zM966.3 355.5H970.4V370.2H966.3zM974.5 355.5H1007.4V370.2H974.5zM1015.6 355.5H1023.8V370.2H1015.6zM1027.9 355.5H1036.1V370.2H1027.9zM1044.3 355.5H1048.4V370.2H1044.3zM1052.5 355.5H1056.6V370.2H1052.5zM1060.7 355.5H1068.9V370.2H1060.7zM1077.1 355.5H1089.4V370.2H1077.1zM1093.5 355.5H1097.6V370.2H1093.5zM195.2 370.2H199.3V384.9H195.2zM334.7 370.2H342.9V384.9H334.7zM392.1 370.2H396.2V384.9H392.1zM519.2 370.2H523.3V384.9H519.2zM548 370.2H552.1V384.9H548zM589 370.2H593.1V384.9H589zM662.8 370.2H671V384.9H662.8zM720.2 370.2H724.3V384.9H720.2zM728.4 370.2H732.5V384.9H728.4zM777.7 370.2H781.8V384.9H777.7zM790 370.2H794.1V384.9H790zM826.9 370.2H835.1V384.9H826.9zM843.3 370.2H851.5V384.9H843.3zM859.7 370.2H867.9V384.9H859.7zM884.3 370.2H888.4V384.9H884.3zM896.6 370.2H900.7V384.9H896.6zM908.9 370.2H917.1V384.9H908.9zM921.2 370.2H929.4V384.9H921.2zM982.7 370.2H991V384.9H982.7zM1003.3 370.2H1015.6V384.9H1003.3zM1027.9 370.2H1036.1V384.9H1027.9zM1040.2 370.2H1044.3V384.9H1040.2zM1048.4 370.2H1052.5V384.9H1048.4zM1060.7 370.2H1068.9V384.9H1060.7zM1089.4 370.2H1097.6V384.9H1089.4zM601.3 384.9H605.4V399.6H601.3z"/>
<path fill="#222161" d="M404.4 120.6H408.5V135.3H404.4zM256.7 135.3H260.8V150H256.7zM412.6 135.3H416.7V150H412.6zM433.1 135.3H437.2V150H433.1zM470 135.3H474.1V150H470zM482.3 135.3H486.4V150H482.3zM490.5 135.3H498.7V150H490.5zM568.5 135.3H572.6V150H568.5zM625.9 135.3H630V150H625.9zM215.7 150H219.8V164.7H215.7zM256.7 150H260.8V164.7H256.7zM297.7 150H301.8V164.7H297.7zM461.8 150H465.9V164.7H461.8zM490.5 150H494.6V164.7H490.5zM519.2 150H523.3V164.7H519.2zM539.8 150H543.9V164.7H539.8zM597.2 150H601.3V164.7H597.2zM523.3 164.7H527.4V179.3H523.3zM548 164.7H552.1V179.3H548zM613.6 164.7H617.7V179.3H613.6zM712 164.7H716.1V179.3H712zM363.4 179.3H367.5V194H363.4zM433.1 179.3H437.2V194H433.1zM474.1 179.3H478.2V194H474.1zM638.2 179.3H642.3V194H638.2zM769.5 179.3H773.6V194H769.5zM929.4 179.3H933.5V194H929.4zM429 194H433.1V208.7H429zM511 194H515.1V208.7H511zM535.7 194H539.8V208.7H535.7zM580.8 194H584.9V208.7H580.8zM724.3 194H728.4V208.7H724.3zM511 208.7H515.1V223.4H511zM543.9 208.7H548V223.4H543.9zM1056.6 208.7H1064.8V223.4H1056.6zM511 223.4H515.1V238.1H511zM531.6 223.4H535.7V238.1H531.6zM728.4 223.4H732.5V238.1H728.4zM954 223.4H958.1V238.1H954zM1077.1 223.4H1081.2V238.1H1077.1zM195.2 238.1H199.3V252.8H195.2zM203.4 238.1H207.5V252.8H203.4zM215.7 238.1H219.8V252.8H215.7zM322.4 238.1H326.5V252.8H322.4zM482.3 238.1H486.4V252.8H482.3zM539.8 238.1H543.9V252.8H539.8zM728.4 238.1H732.5V252.8H728.4zM773.6 238.1H777.7V252.8H773.6zM794.1 238.1H798.2V252.8H794.1zM859.7 238.1H863.8V252.8H859.7zM937.6 238.1H945.8V252.8H937.6zM970.4 238.1H974.5V252.8H970.4zM986.9 238.1H991V252.8H986.9zM995.1 238.1H999.2V252.8H995.1zM1019.7 238.1H1023.8V252.8H1019.7zM1056.6 238.1H1060.7V252.8H1056.6zM211.6 252.8H215.7V267.4H211.6zM219.8 252.8H223.9V267.4H219.8zM433.1 252.8H441.3V267.4H433.1zM461.8 252.8H465.9V267.4H461.8zM617.7 252.8H621.8V267.4H617.7zM872 252.8H876.1V267.4H872zM888.4 252.8H892.5V267.4H888.4zM917.1 252.8H921.2V267.4H917.1zM269 267.4H273.1V282.1H269zM408.5 267.4H412.6V282.1H408.5zM523.3 267.4H531.6V282.1H523.3zM757.1 267.4H761.3V282.1H757.1zM970.4 267.4H974.5V282.1H970.4zM310.1 282.1H314.2V296.8H310.1zM326.5 282.1H330.6V296.8H326.5zM359.3 282.1H363.4V296.8H359.3zM379.8 282.1H383.9V296.8H379.8zM433.1 282.1H437.2V296.8H433.1zM523.3 282.1H527.4V296.8H523.3zM613.6 282.1H617.7V296.8H613.6zM621.8 282.1H625.9V296.8H621.8zM654.6 282.1H658.7V296.8H654.6zM720.2 282.1H724.3V296.8H720.2zM732.5 282.1H736.6V296.8H732.5zM1007.4 282.1H1011.5V296.8H1007.4zM244.4 296.8H248.5V311.5H244.4zM683.3 296.8H687.4V311.5H683.3zM978.6 296.8H982.7V311.5H978.6zM995.1 296.8H999.2V311.5H995.1zM244.4 311.5H248.5V326.2H244.4zM289.5 311.5H293.6V326.2H289.5zM379.8 311.5H383.9V326.2H379.8zM400.3 311.5H408.5V326.2H400.3zM424.9 311.5H429V326.2H424.9zM465.9 311.5H470V326.2H465.9zM535.7 311.5H539.8V326.2H535.7zM757.1 311.5H761.3V326.2H757.1zM880.2 311.5H884.3V326.2H880.2zM954 311.5H962.2V326.2H954zM974.5 311.5H978.6V326.2H974.5zM1048.4 311.5H1052.5V326.2H1048.4zM1093.5 311.5H1097.6V326.2H1093.5zM219.8 326.2H223.9V340.9H219.8zM273.1 326.2H277.2V340.9H273.1zM367.5 326.2H371.6V340.9H367.5zM379.8 326.2H383.9V340.9H379.8zM392.1 326.2H396.2V340.9H392.1zM429 326.2H433.1V340.9H429zM470 326.2H474.1V340.9H470zM548 326.2H552.1V340.9H548zM679.2 326.2H683.3V340.9H679.2zM736.6 326.2H740.7V340.9H736.6zM757.1 326.2H761.3V340.9H757.1zM1003.3 326.2H1007.4V340.9H1003.3zM199.3 340.9H203.4V355.5H199.3zM211.6 340.9H223.9V355.5H211.6zM322.4 340.9H326.5V355.5H322.4zM359.3 340.9H363.4V355.5H359.3zM388 340.9H392.1V355.5H388zM400.3 340.9H404.4V355.5H400.3zM441.3 340.9H445.4V355.5H441.3zM449.5 340.9H453.6V355.5H449.5zM515.1 340.9H519.2V355.5H515.1zM539.8 340.9H543.9V355.5H539.8zM552.1 340.9H556.2V355.5H552.1zM605.4 340.9H609.5V355.5H605.4zM662.8 340.9H666.9V355.5H662.8zM695.6 340.9H699.7V355.5H695.6zM720.2 340.9H728.4V355.5H720.2zM847.4 340.9H851.5V355.5H847.4zM199.3 355.5H203.4V370.2H199.3zM638.2 355.5H642.3V370.2H638.2zM699.7 355.5H703.8V370.2H699.7zM720.2 355.5H724.3V370.2H720.2zM744.8 355.5H748.9V370.2H744.8zM757.1 355.5H761.3V370.2H757.1zM1007.4 355.5H1011.5V370.2H1007.4zM675.1 370.2H679.2V384.9H675.1zM876.1 370.2H880.2V384.9H876.1zM904.8 370.2H908.9V384.9H904.8zM941.7 370.2H945.8V384.9H941.7zM949.9 370.2H958.1V384.9H949.9zM584.9 384.9H589V399.6H584.9zM634.1 384.9H638.2V399.6H634.1zM699.7 384.9H703.8V399.6H699.7z"/>
<path fill="#101044" d="M461.8 120.6H465.9V135.3H461.8zM470 120.6H474.1V135.3H470zM638.2 120.6H642.3V135.3H638.2zM543.9 135.3H548V150H543.9zM281.3 150H285.4V164.7H281.3zM642.3 150H646.4V164.7H642.3zM531.6 194H535.7V208.7H531.6zM601.3 194H605.4V208.7H601.3zM621.8 194H625.9V208.7H621.8zM211.6 238.1H215.7V252.8H211.6zM761.3 238.1H765.4V252.8H761.3zM978.6 238.1H982.7V252.8H978.6zM539.8 252.8H543.9V267.4H539.8zM925.3 252.8H929.4V267.4H925.3zM933.5 252.8H937.6V267.4H933.5zM531.6 267.4H535.7V282.1H531.6zM703.8 267.4H707.9V282.1H703.8zM855.6 282.1H863.8V296.8H855.6zM904.8 282.1H908.9V296.8H904.8zM958.1 282.1H962.2V296.8H958.1zM995.1 282.1H999.2V296.8H995.1zM1023.8 282.1H1027.9V296.8H1023.8zM1048.4 282.1H1052.5V296.8H1048.4zM1085.3 282.1H1089.4V296.8H1085.3zM1064.8 296.8H1068.9V311.5H1064.8zM244.4 340.9H248.5V355.5H244.4zM527.4 340.9H531.6V355.5H527.4zM728.4 355.5H732.5V370.2H728.4zM863.8 355.5H867.9V370.2H863.8zM892.5 355.5H904.8V370.2H892.5zM941.7 355.5H945.8V370.2H941.7zM1048.4 355.5H1052.5V370.2H1048.4zM1068.9 355.5H1077.1V370.2H1068.9zM199.3 370.2H203.4V384.9H199.3zM240.3 370.2H244.4V384.9H240.3zM326.5 370.2H330.6V384.9H326.5zM388 370.2H392.1V384.9H388zM449.5 370.2H453.6V384.9H449.5zM593.1 370.2H597.2V384.9H593.1zM781.8 370.2H785.9V384.9H781.8zM794.1 370.2H798.2V384.9H794.1zM802.3 370.2H806.4V384.9H802.3zM917.1 370.2H921.2V384.9H917.1zM937.6 370.2H941.7V384.9H937.6zM962.2 370.2H970.4V384.9H962.2zM978.6 370.2H982.7V384.9H978.6zM1036.1 370.2H1040.2V384.9H1036.1zM1052.5 370.2H1056.6V384.9H1052.5zM1077.1 370.2H1081.2V384.9H1077.1zM367.5 384.9H371.6V399.6H367.5zM486.4 384.9H490.5V399.6H486.4z"/>
<path fill="#4a4a67" d="M478.2 120.6H482.3V135.3H478.2zM716.1 120.6H720.2V135.3H716.1zM593.1 135.3H597.2V150H593.1zM703.8 135.3H707.9V150H703.8zM248.5 150H252.6V164.7H248.5zM322.4 150H326.5V164.7H322.4zM396.2 150H400.3V164.7H396.2zM441.3 150H445.4V164.7H441.3zM634.1 150H638.2V164.7H634.1zM962.2 150H966.3V164.7H962.2zM1023.8 150H1027.9V164.7H1023.8zM359.3 164.7H363.4V179.3H359.3zM412.6 164.7H416.7V179.3H412.6zM445.4 164.7H449.5V179.3H445.4zM461.8 164.7H465.9V179.3H461.8zM650.5 164.7H654.6V179.3H650.5zM773.6 164.7H777.7V179.3H773.6zM236.2 179.3H240.3V194H236.2zM572.6 179.3H576.7V194H572.6zM933.5 179.3H937.6V194H933.5zM1011.5 179.3H1015.6V194H1011.5zM248.5 194H252.6V208.7H248.5zM523.3 194H527.4V208.7H523.3zM584.9 194H589V208.7H584.9zM949.9 194H954V208.7H949.9zM273.1 208.7H277.2V223.4H273.1zM285.4 208.7H289.5V223.4H285.4zM388 208.7H392.1V223.4H388zM412.6 208.7H416.7V223.4H412.6zM486.4 208.7H490.5V223.4H486.4zM638.2 208.7H642.3V223.4H638.2zM790 208.7H794.1V223.4H790zM843.3 208.7H847.4V223.4H843.3zM863.8 208.7H867.9V223.4H863.8zM880.2 208.7H884.3V223.4H880.2zM888.4 208.7H892.5V223.4H888.4zM958.1 208.7H962.2V223.4H958.1zM974.5 208.7H978.6V223.4H974.5zM1007.4 208.7H1011.5V223.4H1007.4zM1040.2 208.7H1044.3V223.4H1040.2zM1081.2 208.7H1085.3V223.4H1081.2zM281.3 223.4H285.4V238.1H281.3zM445.4 223.4H449.5V238.1H445.4zM515.1 223.4H523.3V238.1H515.1zM867.9 223.4H872V238.1H867.9zM933.5 223.4H937.6V238.1H933.5zM1011.5 223.4H1015.6V238.1H1011.5zM375.7 238.1H379.8V252.8H375.7zM457.7 252.8H461.8V267.4H457.7zM593.1 252.8H597.2V267.4H593.1zM630 267.4H634.1V282.1H630zM695.6 267.4H699.7V282.1H695.6zM941.7 267.4H945.8V282.1H941.7zM1007.4 267.4H1011.5V282.1H1007.4zM260.8 282.1H264.9V296.8H260.8zM355.2 282.1H359.3V296.8H355.2zM375.7 282.1H379.8V296.8H375.7zM388 296.8H392.1V311.5H388zM929.4 296.8H933.5V311.5H929.4zM945.8 296.8H949.9V311.5H945.8zM1027.9 296.8H1036.1V311.5H1027.9zM1040.2 296.8H1044.3V311.5H1040.2zM1081.2 296.8H1085.3V311.5H1081.2zM474.1 311.5H478.2V326.2H474.1zM519.2 311.5H523.3V326.2H519.2zM814.6 311.5H818.7V326.2H814.6zM839.2 311.5H843.3V326.2H839.2zM892.5 311.5H896.6V326.2H892.5zM1032 311.5H1036.1V326.2H1032zM490.5 326.2H494.6V340.9H490.5zM675.1 326.2H679.2V340.9H675.1zM802.3 326.2H806.4V340.9H802.3zM958.1 326.2H962.2V340.9H958.1zM301.8 340.9H306V355.5H301.8zM576.7 340.9H580.8V355.5H576.7zM671 340.9H675.1V355.5H671zM954 340.9H958.1V355.5H954zM642.3 370.2H646.4V384.9H642.3zM732.5 370.2H736.6V384.9H732.5zM773.6 384.9H777.7V399.6H773.6zM863.8 384.9H867.9V399.6H863.8zM954 384.9H958.1V399.6H954z"/>
<path fill="#121249" d="M527.4 120.6H531.6V135.3H527.4zM289.5 150H293.6V164.7H289.5zM642.3 164.7H646.4V179.3H642.3zM506.9 179.3H511V194H506.9zM465.9 194H470V208.7H465.9zM506.9 208.7H511V223.4H506.9zM908.9 223.4H913V238.1H908.9zM757.1 238.1H761.3V252.8H757.1zM884.3 238.1H888.4V252.8H884.3zM945.8 238.1H949.9V252.8H945.8zM974.5 238.1H978.6V252.8H974.5zM1048.4 238.1H1052.5V252.8H1048.4zM1077.1 238.1H1081.2V252.8H1077.1zM535.7 252.8H539.8V267.4H535.7zM929.4 252.8H933.5V267.4H929.4zM1007.4 252.8H1011.5V267.4H1007.4zM244.4 267.4H248.5V282.1H244.4zM835.1 282.1H839.2V296.8H835.1zM863.8 282.1H867.9V296.8H863.8zM880.2 282.1H884.3V296.8H880.2zM933.5 282.1H937.6V296.8H933.5zM962.2 282.1H966.3V296.8H962.2zM970.4 282.1H974.5V296.8H970.4zM1011.5 282.1H1015.6V296.8H1011.5zM1068.9 282.1H1073V296.8H1068.9zM843.3 311.5H847.4V326.2H843.3zM601.3 326.2H605.4V340.9H601.3zM748.9 326.2H753V340.9H748.9zM269 340.9H273.1V355.5H269zM810.5 340.9H814.6V355.5H810.5zM207.5 355.5H211.6V370.2H207.5zM240.3 355.5H244.4V370.2H240.3zM765.4 355.5H769.5V370.2H765.4zM839.2 355.5H843.3V370.2H839.2zM847.4 355.5H855.6V370.2H847.4zM859.7 355.5H863.8V370.2H859.7zM880.2 355.5H884.3V370.2H880.2zM888.4 355.5H892.5V370.2H888.4zM925.3 355.5H929.4V370.2H925.3zM945.8 355.5H954V370.2H945.8zM962.2 355.5H966.3V370.2H962.2zM970.4 355.5H974.5V370.2H970.4zM1023.8 355.5H1027.9V370.2H1023.8zM1036.1 355.5H1044.3V370.2H1036.1zM1089.4 355.5H1093.5V370.2H1089.4zM330.6 370.2H334.7V384.9H330.6zM523.3 370.2H527.4V384.9H523.3zM584.9 370.2H589V384.9H584.9zM769.5 370.2H777.7V384.9H769.5zM798.2 370.2H802.3V384.9H798.2zM814.6 370.2H822.8V384.9H814.6zM855.6 370.2H859.7V384.9H855.6zM867.9 370.2H876.1V384.9H867.9zM880.2 370.2H884.3V384.9H880.2zM888.4 370.2H896.6V384.9H888.4zM970.4 370.2H974.5V384.9H970.4zM1044.3 370.2H1048.4V384.9H1044.3zM310.1 384.9H314.2V399.6H310.1zM625.9 384.9H630V399.6H625.9z"/>
<path fill="#a1a03e" d="M683.3 120.6H687.4V135.3H683.3zM843.3 120.6H847.4V135.3H843.3zM929.4 120.6H933.5V135.3H929.4zM941.7 120.6H945.8V135.3H941.7zM584.9 135.3H589V150H584.9zM724.3 135.3H728.4V150H724.3zM744.8 135.3H748.9V150H744.8zM855.6 135.3H859.7V150H855.6zM941.7 135.3H945.8V150H941.7zM954 135.3H958.1V150H954zM995.1 135.3H999.2V150H995.1zM1060.7 135.3H1064.8V150H1060.7zM785.9 150H790V164.7H785.9zM867.9 150H872V164.7H867.9zM917.1 150H921.2V164.7H917.1zM929.4 150H933.5V164.7H929.4zM1060.7 150H1064.8V164.7H1060.7zM937.6 164.7H941.7V179.3H937.6zM958.1 164.7H962.2V179.3H958.1zM867.9 194H872V208.7H867.9zM917.1 194H921.2V208.7H917.1zM1048.4 194H1052.5V208.7H1048.4zM1064.8 194H1068.9V208.7H1064.8zM552.1 238.1H556.2V252.8H552.1zM511 340.9H515.1V355.5H511zM535.7 355.5H539.8V370.2H535.7zM244.4 370.2H248.5V384.9H244.4zM400.3 370.2H404.4V384.9H400.3zM695.6 370.2H699.7V384.9H695.6zM256.7 384.9H260.8V399.6H256.7z"/>
<path fill="#cbc82f" d="M728.4 120.6H732.5V135.3H728.4zM769.5 120.6H773.6V135.3H769.5zM863.8 120.6H867.9V135.3H863.8zM892.5 120.6H896.6V135.3H892.5zM904.8 120.6H908.9V135.3H904.8zM925.3 120.6H929.4V135.3H925.3zM982.7 120.6H986.9V135.3H982.7zM1032 120.6H1036.1V135.3H1032zM1060.7 120.6H1064.8V135.3H1060.7zM781.8 135.3H785.9V150H781.8zM814.6 135.3H818.7V150H814.6zM831 135.3H835.1V150H831zM917.1 135.3H921.2V150H917.1zM966.3 135.3H970.4V150H966.3zM978.6 135.3H982.7V150H978.6zM1003.3 135.3H1007.4V150H1003.3zM1081.2 135.3H1085.3V150H1081.2zM654.6 150H658.7V164.7H654.6zM753 150H757.1V164.7H753zM794.1 150H798.2V164.7H794.1zM876.1 150H880.2V164.7H876.1zM781.8 179.3H785.9V194H781.8zM625.9 252.8H630V267.4H625.9zM638.2 252.8H646.4V267.4H638.2zM609.5 267.4H613.6V282.1H609.5zM597.2 326.2H601.3V340.9H597.2zM388 355.5H392.1V370.2H388zM277.2 370.2H281.3V384.9H277.2zM342.9 370.2H347V384.9H342.9zM363.4 370.2H367.5V384.9H363.4zM408.5 370.2H412.6V384.9H408.5zM478.2 370.2H482.3V384.9H478.2zM502.8 370.2H506.9V384.9H502.8zM260.8 384.9H264.9V399.6H260.8z"/>
<path fill="#b1af38" d="M732.5 120.6H736.6V135.3H732.5zM835.1 120.6H839.2V135.3H835.1zM876.1 120.6H880.2V135.3H876.1zM1011.5 120.6H1015.6V135.3H1011.5zM1064.8 120.6H1068.9V135.3H1064.8zM1073 120.6H1077.1V135.3H1073zM1093.5 120.6H1097.6V135.3H1093.5zM843.3 135.3H847.4V150H843.3zM1011.5 135.3H1015.6V150H1011.5zM1040.2 135.3H1044.3V150H1040.2zM1093.5 135.3H1097.6V150H1093.5zM724.3 150H728.4V164.7H724.3zM839.2 150H843.3V164.7H839.2zM995.1 150H999.2V164.7H995.1zM211.6 164.7H215.7V179.3H211.6zM954 164.7H958.1V179.3H954zM367.5 179.3H371.6V194H367.5zM790 179.3H794.1V194H790zM1060.7 179.3H1064.8V194H1060.7zM666.9 194H671V208.7H666.9zM630 238.1H638.2V252.8H630zM593.1 267.4H597.2V282.1H593.1zM601.3 296.8H605.4V311.5H601.3zM396.2 355.5H400.3V370.2H396.2zM613.6 355.5H617.7V370.2H613.6zM404.4 370.2H408.5V384.9H404.4zM568.5 370.2H572.6V384.9H568.5zM613.6 370.2H617.7V384.9H613.6zM625.9 370.2H630V384.9H625.9zM753 370.2H757.1V384.9H753zM240.3 384.9H244.4V399.6H240.3zM297.7 384.9H306V399.6H297.7zM593.1 384.9H597.2V399.6H593.1z"/>
<path fill="#86864b" d="M736.6 120.6H740.7V135.3H736.6zM822.8 120.6H831V135.3H822.8zM921.2 120.6H925.3V135.3H921.2zM933.5 120.6H937.6V135.3H933.5zM978.6 120.6H982.7V135.3H978.6zM1085.3 120.6H1089.4V135.3H1085.3zM199.3 135.3H203.4V150H199.3zM215.7 135.3H219.8V150H215.7zM671 135.3H675.1V150H671zM740.7 135.3H744.8V150H740.7zM761.3 135.3H765.4V150H761.3zM773.6 135.3H777.7V150H773.6zM802.3 135.3H806.4V150H802.3zM835.1 135.3H839.2V150H835.1zM884.3 135.3H892.5V150H884.3zM900.7 135.3H904.8V150H900.7zM908.9 135.3H913V150H908.9zM1023.8 135.3H1027.9V150H1023.8zM1064.8 135.3H1068.9V150H1064.8zM1089.4 135.3H1093.5V150H1089.4zM203.4 150H211.6V164.7H203.4zM662.8 150H666.9V164.7H662.8zM707.9 150H712V164.7H707.9zM769.5 150H777.7V164.7H769.5zM986.9 150H991V164.7H986.9zM1073 150H1077.1V164.7H1073zM240.3 164.7H244.4V179.3H240.3zM310.1 164.7H314.2V179.3H310.1zM675.1 164.7H679.2V179.3H675.1zM847.4 164.7H851.5V179.3H847.4zM872 164.7H876.1V179.3H872zM949.9 164.7H954V179.3H949.9zM974.5 164.7H978.6V179.3H974.5zM999.2 164.7H1003.3V179.3H999.2zM1089.4 164.7H1093.5V179.3H1089.4zM215.7 179.3H219.8V194H215.7zM683.3 179.3H687.4V194H683.3zM728.4 179.3H732.5V194H728.4zM777.7 179.3H781.8V194H777.7zM814.6 179.3H822.8V194H814.6zM863.8 179.3H867.9V194H863.8zM880.2 179.3H888.4V194H880.2zM921.2 179.3H925.3V194H921.2zM974.5 179.3H978.6V194H974.5zM999.2 179.3H1003.3V194H999.2zM207.5 194H211.6V208.7H207.5zM314.2 194H318.3V208.7H314.2zM383.9 194H388V208.7H383.9zM543.9 194H548V208.7H543.9zM650.5 194H654.6V208.7H650.5zM748.9 194H757.1V208.7H748.9zM765.4 194H769.5V208.7H765.4zM785.9 194H790V208.7H785.9zM822.8 194H826.9V208.7H822.8zM847.4 194H855.6V208.7H847.4zM884.3 194H888.4V208.7H884.3zM974.5 194H978.6V208.7H974.5zM982.7 194H986.9V208.7H982.7zM1032 194H1036.1V208.7H1032zM273.1 223.4H277.2V238.1H273.1zM408.5 223.4H412.6V238.1H408.5zM576.7 223.4H580.8V238.1H576.7zM1052.5 223.4H1060.7V238.1H1052.5zM445.4 238.1H449.5V252.8H445.4zM580.8 238.1H584.9V252.8H580.8zM244.4 252.8H248.5V267.4H244.4zM289.5 252.8H293.6V267.4H289.5zM548 252.8H552.1V267.4H548zM728.4 252.8H732.5V267.4H728.4zM773.6 252.8H781.8V267.4H773.6zM785.9 252.8H790V267.4H785.9zM794.1 252.8H798.2V267.4H794.1zM995.1 252.8H1003.3V267.4H995.1zM1056.6 252.8H1064.8V267.4H1056.6zM412.6 267.4H416.7V282.1H412.6zM572.6 267.4H576.7V282.1H572.6zM662.8 267.4H666.9V282.1H662.8zM683.3 267.4H691.5V282.1H683.3zM896.6 267.4H900.7V282.1H896.6zM1064.8 267.4H1077.1V282.1H1064.8zM506.9 282.1H511V296.8H506.9zM642.3 282.1H646.4V296.8H642.3zM707.9 282.1H712V296.8H707.9zM404.4 296.8H408.5V311.5H404.4zM506.9 296.8H511V311.5H506.9zM580.8 296.8H584.9V311.5H580.8zM593.1 296.8H597.2V311.5H593.1zM240.3 311.5H244.4V326.2H240.3zM851.5 340.9H855.6V355.5H851.5zM962.2 340.9H966.3V355.5H962.2zM986.9 340.9H991V355.5H986.9zM1085.3 340.9H1093.5V355.5H1085.3zM297.7 355.5H301.8V370.2H297.7zM371.6 355.5H375.7V370.2H371.6zM412.6 355.5H420.8V370.2H412.6zM527.4 355.5H531.6V370.2H527.4zM662.8 355.5H666.9V370.2H662.8zM707.9 355.5H712V370.2H707.9zM207.5 370.2H211.6V384.9H207.5zM367.5 370.2H371.6V384.9H367.5zM441.3 370.2H449.5V384.9H441.3zM511 370.2H515.1V384.9H511zM617.7 370.2H625.9V384.9H617.7zM650.5 370.2H654.6V384.9H650.5zM724.3 370.2H728.4V384.9H724.3zM744.8 370.2H748.9V384.9H744.8zM191.1 384.9H195.2V399.6H191.1zM219.8 384.9H223.9V399.6H219.8zM277.2 384.9H281.3V399.6H277.2zM416.7 384.9H420.8V399.6H416.7zM490.5 384.9H494.6V399.6H490.5zM564.4 384.9H568.5V399.6H564.4zM572.6 384.9H576.7V399.6H572.6zM679.2 384.9H687.4V399.6H679.2zM720.2 384.9H728.4V399.6H720.2z"/>
<path fill="#a6a43c" d="M773.6 120.6H777.7V135.3H773.6zM802.3 120.6H806.4V135.3H802.3zM831 120.6H835.1V135.3H831zM839.2 120.6H843.3V135.3H839.2zM859.7 120.6H863.8V135.3H859.7zM954 120.6H958.1V135.3H954zM966.3 120.6H978.6V135.3H966.3zM999.2 120.6H1003.3V135.3H999.2zM1015.6 120.6H1023.8V135.3H1015.6zM1052.5 120.6H1056.6V135.3H1052.5zM1081.2 120.6H1085.3V135.3H1081.2zM195.2 135.3H199.3V150H195.2zM203.4 135.3H207.5V150H203.4zM240.3 135.3H244.4V150H240.3zM683.3 135.3H687.4V150H683.3zM712 135.3H716.1V150H712zM732.5 135.3H736.6V150H732.5zM818.7 135.3H826.9V150H818.7zM839.2 135.3H843.3V150H839.2zM847.4 135.3H855.6V150H847.4zM867.9 135.3H872V150H867.9zM876.1 135.3H884.3V150H876.1zM896.6 135.3H900.7V150H896.6zM945.8 135.3H949.9V150H945.8zM958.1 135.3H962.2V150H958.1zM986.9 135.3H991V150H986.9zM1015.6 135.3H1023.8V150H1015.6zM1032 135.3H1036.1V150H1032zM1068.9 135.3H1073V150H1068.9zM408.5 150H412.6V164.7H408.5zM732.5 150H736.6V164.7H732.5zM826.9 150H831V164.7H826.9zM872 150H876.1V164.7H872zM884.3 150H888.4V164.7H884.3zM921.2 150H925.3V164.7H921.2zM949.9 150H954V164.7H949.9zM999.2 150H1007.4V164.7H999.2zM568.5 164.7H572.6V179.3H568.5zM605.4 164.7H609.5V179.3H605.4zM683.3 164.7H687.4V179.3H683.3zM744.8 164.7H748.9V179.3H744.8zM798.2 164.7H802.3V179.3H798.2zM941.7 164.7H945.8V179.3H941.7zM301.8 179.3H306V194H301.8zM416.7 179.3H420.8V194H416.7zM589 179.3H593.1V194H589zM753 179.3H757.1V194H753zM982.7 179.3H986.9V194H982.7zM306 194H310.1V208.7H306zM662.8 194H666.9V208.7H662.8zM687.4 194H691.5V208.7H687.4zM777.7 194H781.8V208.7H777.7zM818.7 194H822.8V208.7H818.7zM872 194H876.1V208.7H872zM921.2 194H925.3V208.7H921.2zM1023.8 194H1027.9V208.7H1023.8zM1052.5 194H1056.6V208.7H1052.5zM810.5 223.4H814.6V238.1H810.5zM277.2 252.8H281.3V267.4H277.2zM630 252.8H634.1V267.4H630zM790 252.8H794.1V267.4H790zM297.7 267.4H301.8V282.1H297.7zM1085.3 267.4H1093.5V282.1H1085.3zM1003.3 340.9H1007.4V355.5H1003.3zM236.2 355.5H240.3V370.2H236.2zM400.3 355.5H404.4V370.2H400.3zM449.5 355.5H453.6V370.2H449.5zM457.7 355.5H461.8V370.2H457.7zM519.2 355.5H523.3V370.2H519.2zM248.5 370.2H252.6V384.9H248.5zM285.4 370.2H289.5V384.9H285.4zM429 370.2H437.2V384.9H429zM560.3 370.2H564.4V384.9H560.3zM605.4 370.2H609.5V384.9H605.4zM691.5 370.2H695.6V384.9H691.5zM244.4 384.9H252.6V399.6H244.4zM289.5 384.9H297.7V399.6H289.5zM642.3 384.9H646.4V399.6H642.3zM753 384.9H757.1V399.6H753z"/>
<path fill="#d6d22a" d="M781.8 120.6H785.9V135.3H781.8zM814.6 120.6H818.7V135.3H814.6zM888.4 120.6H892.5V135.3H888.4zM958.1 120.6H962.2V135.3H958.1zM1048.4 135.3H1052.5V150H1048.4zM605.4 150H609.5V164.7H605.4zM794.1 194H798.2V208.7H794.1zM543.9 267.4H548V282.1H543.9zM1081.2 267.4H1085.3V282.1H1081.2zM281.3 355.5H285.4V370.2H281.3zM433.1 355.5H437.2V370.2H433.1zM269 370.2H273.1V384.9H269z"/>
<path fill="#80804f" d="M785.9 120.6H790V135.3H785.9zM847.4 120.6H851.5V135.3H847.4zM917.1 120.6H921.2V135.3H917.1zM654.6 135.3H658.7V150H654.6zM892.5 135.3H896.6V150H892.5zM925.3 135.3H929.4V150H925.3zM593.1 150H597.2V164.7H593.1zM695.6 150H699.7V164.7H695.6zM888.4 150H892.5V164.7H888.4zM896.6 150H900.7V164.7H896.6zM1048.4 150H1052.5V164.7H1048.4zM1077.1 150H1081.2V164.7H1077.1zM306 164.7H310.1V179.3H306zM330.6 164.7H334.7V179.3H330.6zM671 164.7H675.1V179.3H671zM695.6 164.7H699.7V179.3H695.6zM876.1 164.7H880.2V179.3H876.1zM945.8 164.7H949.9V179.3H945.8zM256.7 179.3H260.8V194H256.7zM634.1 179.3H638.2V194H634.1zM802.3 179.3H806.4V194H802.3zM859.7 179.3H863.8V194H859.7zM913 179.3H917.1V194H913zM1044.3 179.3H1048.4V194H1044.3zM223.9 194H228V208.7H223.9zM297.7 194H301.8V208.7H297.7zM326.5 194H330.6V208.7H326.5zM552.1 194H556.2V208.7H552.1zM769.5 194H773.6V208.7H769.5zM798.2 194H802.3V208.7H798.2zM843.3 194H847.4V208.7H843.3zM859.7 194H867.9V208.7H859.7zM908.9 194H913V208.7H908.9zM1011.5 194H1015.6V208.7H1011.5zM1019.7 194H1023.8V208.7H1019.7zM646.4 223.4H650.5V238.1H646.4zM658.7 223.4H662.8V238.1H658.7zM753 223.4H757.1V238.1H753zM437.2 238.1H441.3V252.8H437.2zM449.5 252.8H453.6V267.4H449.5zM712 252.8H716.1V267.4H712zM781.8 252.8H785.9V267.4H781.8zM433.1 267.4H437.2V282.1H433.1zM552.1 267.4H556.2V282.1H552.1zM576.7 267.4H580.8V282.1H576.7zM203.4 282.1H207.5V296.8H203.4zM404.4 282.1H408.5V296.8H404.4zM367.5 296.8H371.6V311.5H367.5zM293.6 326.2H297.7V340.9H293.6zM597.2 340.9H601.3V355.5H597.2zM999.2 340.9H1003.3V355.5H999.2zM285.4 355.5H289.5V370.2H285.4zM338.8 355.5H347V370.2H338.8zM482.3 355.5H486.4V370.2H482.3zM658.7 370.2H662.8V384.9H658.7zM211.6 384.9H215.7V399.6H211.6zM371.6 384.9H375.7V399.6H371.6zM400.3 384.9H404.4V399.6H400.3zM429 384.9H433.1V399.6H429zM556.2 384.9H560.3V399.6H556.2zM716.1 384.9H720.2V399.6H716.1z"/>
<path fill="#c0bd33" d="M790 120.6H794.1V135.3H790zM995.1 120.6H999.2V135.3H995.1zM1027.9 120.6H1032V135.3H1027.9zM1056.6 120.6H1060.7V135.3H1056.6zM949.9 135.3H954V150H949.9zM757.1 150H761.3V164.7H757.1zM847.4 150H851.5V164.7H847.4zM966.3 194H970.4V208.7H966.3zM638.2 267.4H642.3V282.1H638.2zM543.9 340.9H548V355.5H543.9zM252.6 370.2H256.7V384.9H252.6zM273.1 370.2H277.2V384.9H273.1zM236.2 384.9H240.3V399.6H236.2z"/>
<path fill="#aca93a" d="M794.1 120.6H802.3V135.3H794.1zM880.2 120.6H884.3V135.3H880.2zM1003.3 120.6H1007.4V135.3H1003.3zM1044.3 120.6H1048.4V135.3H1044.3zM728.4 135.3H732.5V150H728.4zM785.9 135.3H798.2V150H785.9zM859.7 135.3H867.9V150H859.7zM970.4 135.3H978.6V150H970.4zM1036.1 135.3H1040.2V150H1036.1zM1044.3 135.3H1048.4V150H1044.3zM621.8 150H625.9V164.7H621.8zM728.4 150H732.5V164.7H728.4zM736.6 150H740.7V164.7H736.6zM835.1 150H839.2V164.7H835.1zM855.6 150H859.7V164.7H855.6zM991 150H995.1V164.7H991zM1056.6 150H1060.7V164.7H1056.6zM412.6 179.3H416.7V194H412.6zM765.4 179.3H769.5V194H765.4zM785.9 179.3H790V194H785.9zM806.4 179.3H810.5V194H806.4zM978.6 179.3H982.7V194H978.6zM301.8 194H306V208.7H301.8zM347 194H351.1V208.7H347zM814.6 194H818.7V208.7H814.6zM802.3 267.4H806.4V282.1H802.3zM404.4 355.5H412.6V370.2H404.4zM453.6 355.5H457.7V370.2H453.6zM597.2 355.5H601.3V370.2H597.2zM424.9 370.2H429V384.9H424.9zM564.4 370.2H568.5V384.9H564.4zM601.3 370.2H605.4V384.9H601.3zM609.5 370.2H613.6V384.9H609.5zM228 384.9H232.1V399.6H228zM347 384.9H351.1V399.6H347z"/>
<path fill="#9c9b40" d="M806.4 120.6H810.5V135.3H806.4zM855.6 120.6H859.7V135.3H855.6zM896.6 120.6H900.7V135.3H896.6zM1077.1 120.6H1081.2V135.3H1077.1zM769.5 135.3H773.6V150H769.5zM777.7 135.3H781.8V150H777.7zM921.2 135.3H925.3V150H921.2zM962.2 135.3H966.3V150H962.2zM991 135.3H995.1V150H991zM1052.5 135.3H1060.7V150H1052.5zM252.6 150H256.7V164.7H252.6zM609.5 150H613.6V164.7H609.5zM818.7 150H822.8V164.7H818.7zM831 150H835.1V164.7H831zM941.7 150H945.8V164.7H941.7zM1081.2 150H1085.3V164.7H1081.2zM355.2 164.7H359.3V179.3H355.2zM609.5 164.7H613.6V179.3H609.5zM740.7 164.7H744.8V179.3H740.7zM748.9 164.7H757.1V179.3H748.9zM962.2 164.7H966.3V179.3H962.2zM1093.5 164.7H1097.6V179.3H1093.5zM281.3 179.3H285.4V194H281.3zM855.6 179.3H859.7V194H855.6zM904.8 179.3H908.9V194H904.8zM962.2 179.3H970.4V194H962.2zM191.1 194H195.2V208.7H191.1zM548 194H552.1V208.7H548zM589 194H593.1V208.7H589zM683.3 194H687.4V208.7H683.3zM876.1 194H884.3V208.7H876.1zM777.7 223.4H781.8V238.1H777.7zM441.3 252.8H445.4V267.4H441.3zM634.1 252.8H638.2V267.4H634.1zM293.6 267.4H297.7V282.1H293.6zM597.2 267.4H601.3V282.1H597.2zM625.9 267.4H630V282.1H625.9zM1077.1 267.4H1081.2V282.1H1077.1zM359.3 355.5H363.4V370.2H359.3zM424.9 355.5H429V370.2H424.9zM523.3 355.5H527.4V370.2H523.3zM219.8 370.2H228V384.9H219.8zM256.7 370.2H260.8V384.9H256.7zM264.9 370.2H269V384.9H264.9zM252.6 384.9H256.7V399.6H252.6zM597.2 384.9H601.3V399.6H597.2zM609.5 384.9H613.6V399.6H609.5zM638.2 384.9H642.3V399.6H638.2zM666.9 384.9H671V399.6H666.9zM744.8 384.9H748.9V399.6H744.8z"/>
<path fill="#8b8a49" d="M818.7 120.6H822.8V135.3H818.7zM945.8 120.6H949.9V135.3H945.8zM273.1 135.3H277.2V150H273.1zM675.1 135.3H679.2V150H675.1zM736.6 135.3H740.7V150H736.6zM933.5 135.3H937.6V150H933.5zM1027.9 135.3H1032V150H1027.9zM1085.3 135.3H1089.4V150H1085.3zM740.7 150H748.9V164.7H740.7zM777.7 150H781.8V164.7H777.7zM900.7 150H904.8V164.7H900.7zM966.3 150H970.4V164.7H966.3zM1052.5 150H1056.6V164.7H1052.5zM732.5 164.7H736.6V179.3H732.5zM810.5 164.7H814.6V179.3H810.5zM900.7 164.7H904.8V179.3H900.7zM1003.3 164.7H1007.4V179.3H1003.3zM1023.8 164.7H1027.9V179.3H1023.8zM1081.2 164.7H1085.3V179.3H1081.2zM543.9 179.3H548V194H543.9zM699.7 179.3H703.8V194H699.7zM712 179.3H716.1V194H712zM822.8 179.3H826.9V194H822.8zM867.9 179.3H876.1V194H867.9zM1052.5 179.3H1056.6V194H1052.5zM1093.5 179.3H1097.6V194H1093.5zM228 194H232.1V208.7H228zM277.2 194H281.3V208.7H277.2zM342.9 194H347V208.7H342.9zM761.3 194H765.4V208.7H761.3zM978.6 194H982.7V208.7H978.6zM548 208.7H552.1V223.4H548zM716.1 223.4H720.2V238.1H716.1zM806.4 223.4H810.5V238.1H806.4zM937.6 223.4H941.7V238.1H937.6zM441.3 238.1H445.4V252.8H441.3zM589 238.1H593.1V252.8H589zM617.7 238.1H621.8V252.8H617.7zM285.4 252.8H289.5V267.4H285.4zM445.4 252.8H449.5V267.4H445.4zM691.5 252.8H695.6V267.4H691.5zM716.1 252.8H720.2V267.4H716.1zM744.8 252.8H748.9V267.4H744.8zM642.3 267.4H646.4V282.1H642.3zM1040.2 267.4H1044.3V282.1H1040.2zM560.3 296.8H564.4V311.5H560.3zM576.7 296.8H580.8V311.5H576.7zM392.1 355.5H396.2V370.2H392.1zM478.2 355.5H482.3V370.2H478.2zM589 355.5H593.1V370.2H589zM609.5 355.5H613.6V370.2H609.5zM572.6 370.2H576.7V384.9H572.6zM195.2 384.9H199.3V399.6H195.2zM232.1 384.9H236.2V399.6H232.1zM285.4 384.9H289.5V399.6H285.4zM318.3 384.9H322.4V399.6H318.3zM560.3 384.9H564.4V399.6H560.3zM687.4 384.9H691.5V399.6H687.4z"/>
<path fill="#908f46" d="M851.5 120.6H855.6V135.3H851.5zM962.2 120.6H966.3V135.3H962.2zM191.1 135.3H195.2V150H191.1zM371.6 135.3H375.7V150H371.6zM765.4 135.3H769.5V150H765.4zM806.4 135.3H810.5V150H806.4zM929.4 135.3H933.5V150H929.4zM1077.1 135.3H1081.2V150H1077.1zM293.6 150H297.7V164.7H293.6zM666.9 150H671V164.7H666.9zM798.2 150H802.3V164.7H798.2zM822.8 150H826.9V164.7H822.8zM904.8 150H908.9V164.7H904.8zM1032 150H1036.1V164.7H1032zM1064.8 150H1068.9V164.7H1064.8zM404.4 164.7H408.5V179.3H404.4zM691.5 164.7H695.6V179.3H691.5zM966.3 164.7H970.4V179.3H966.3zM211.6 179.3H215.7V194H211.6zM658.7 179.3H662.8V194H658.7zM687.4 179.3H691.5V194H687.4zM876.1 179.3H880.2V194H876.1zM896.6 179.3H900.7V194H896.6zM917.1 179.3H921.2V194H917.1zM995.1 179.3H999.2V194H995.1zM1048.4 179.3H1052.5V194H1048.4zM1056.6 179.3H1060.7V194H1056.6zM203.4 194H207.5V208.7H203.4zM219.8 194H223.9V208.7H219.8zM240.3 194H244.4V208.7H240.3zM654.6 194H658.7V208.7H654.6zM790 194H794.1V208.7H790zM1027.9 194H1032V208.7H1027.9zM613.6 208.7H617.7V223.4H613.6zM1048.4 223.4H1052.5V238.1H1048.4zM748.9 252.8H753V267.4H748.9zM1040.2 252.8H1048.4V267.4H1040.2zM568.5 267.4H572.6V282.1H568.5zM671 267.4H675.1V282.1H671zM810.5 267.4H814.6V282.1H810.5zM999.2 267.4H1003.3V282.1H999.2zM1093.5 267.4H1097.6V282.1H1093.5zM630 282.1H634.1V296.8H630zM584.9 296.8H593.1V311.5H584.9zM486.4 340.9H490.5V355.5H486.4zM995.1 340.9H999.2V355.5H995.1zM289.5 355.5H293.6V370.2H289.5zM379.8 355.5H383.9V370.2H379.8zM461.8 355.5H465.9V370.2H461.8zM498.7 355.5H502.8V370.2H498.7zM515.1 355.5H519.2V370.2H515.1zM572.6 355.5H576.7V370.2H572.6zM203.4 384.9H211.6V399.6H203.4zM264.9 384.9H269V399.6H264.9zM306 384.9H310.1V399.6H306zM441.3 384.9H445.4V399.6H441.3z"/>
<path fill="#c5c331" d="M867.9 120.6H872V135.3H867.9zM884.3 120.6H888.4V135.3H884.3zM991 120.6H995.1V135.3H991zM826.9 135.3H831V150H826.9zM913 135.3H917.1V150H913zM416.7 150H420.8V164.7H416.7zM761.3 164.7H765.4V179.3H761.3zM285.4 179.3H289.5V194H285.4zM900.7 179.3H904.8V194H900.7zM613.6 267.4H617.7V282.1H613.6zM625.9 340.9H630V355.5H625.9zM445.4 355.5H449.5V370.2H445.4zM412.6 370.2H416.7V384.9H412.6zM420.8 370.2H424.9V384.9H420.8zM494.6 370.2H498.7V384.9H494.6zM506.9 370.2H511V384.9H506.9z"/>
<path fill="#e9e321" d="M872 120.6H876.1V135.3H872zM699.7 150H703.8V164.7H699.7zM810.5 179.3H814.6V194H810.5zM773.6 194H777.7V208.7H773.6zM802.3 194H806.4V208.7H802.3zM638.2 282.1H642.3V296.8H638.2zM634.1 296.8H638.2V311.5H634.1zM642.3 326.2H646.4V340.9H642.3zM441.3 355.5H445.4V370.2H441.3zM625.9 355.5H630V370.2H625.9zM630 370.2H634.1V384.9H630zM589 384.9H593.1V399.6H589z"/>
<path fill="#d0cd2c" d="M1048.4 120.6H1052.5V135.3H1048.4zM1068.9 120.6H1073V135.3H1068.9zM753 135.3H757.1V150H753zM1073 135.3H1077.1V150H1073zM671 150H675.1V164.7H671zM761.3 150H765.4V164.7H761.3zM539.8 164.7H543.9V179.3H539.8zM601.3 164.7H605.4V179.3H601.3zM642.3 296.8H646.4V311.5H642.3zM416.7 370.2H420.8V384.9H416.7zM453.6 370.2H457.7V384.9H453.6z"/>
<path fill="#e3de23" d="M843.3 150H847.4V164.7H843.3zM851.5 150H855.6V164.7H851.5zM679.2 194H683.3V208.7H679.2zM552.1 252.8H556.2V267.4H552.1zM769.5 252.8H773.6V267.4H769.5zM437.2 355.5H441.3V370.2H437.2zM465.9 355.5H470V370.2H465.9z"/>
<path fill="#929294" d="M252.6 208.7H256.7V223.4H252.6zM277.2 208.7H281.3V223.4H277.2zM441.3 208.7H445.4V223.4H441.3zM461.8 208.7H465.9V223.4H461.8zM794.1 208.7H798.2V223.4H794.1zM826.9 208.7H831V223.4H826.9zM921.2 208.7H925.3V223.4H921.2zM986.9 208.7H991V223.4H986.9zM314.2 223.4H318.3V238.1H314.2zM712 238.1H716.1V252.8H712zM195.2 252.8H199.3V267.4H195.2zM490.5 252.8H498.7V267.4H490.5zM724.3 252.8H728.4V267.4H724.3zM876.1 267.4H880.2V282.1H876.1zM1036.1 267.4H1040.2V282.1H1036.1zM244.4 282.1H248.5V296.8H244.4zM301.8 282.1H306V296.8H301.8zM338.8 282.1H342.9V296.8H338.8zM474.1 282.1H478.2V296.8H474.1zM810.5 282.1H814.6V296.8H810.5zM429 296.8H433.1V311.5H429zM531.6 296.8H535.7V311.5H531.6zM724.3 296.8H728.4V311.5H724.3zM191.1 311.5H195.2V326.2H191.1zM232.1 311.5H236.2V326.2H232.1zM461.8 311.5H465.9V326.2H461.8zM527.4 311.5H531.6V326.2H527.4zM634.1 311.5H638.2V326.2H634.1zM773.6 311.5H777.7V326.2H773.6zM802.3 311.5H810.5V326.2H802.3zM1073 311.5H1077.1V326.2H1073zM835.1 326.2H839.2V340.9H835.1zM461.8 340.9H465.9V355.5H461.8zM519.2 340.9H523.3V355.5H519.2zM617.7 340.9H621.8V355.5H617.7z"/>
</g>
<rect x="189" y="119.6" width="3.1" height="281" fill="#fff" opacity="0.75"/>
<path class="d" d="M191.4 129.1H177.7V143.67H191.4M177.7 136.39H171.8V158.25H191.4M171.8 147.32H167.5V172.82H191.4M191.4 187.4H170.7V201.97H191.4M167.5 160.07H162.2V194.69H170.7M191.4 216.55H161.2V231.12H191.4M162.2 177.38H155.3V223.84H161.2M191.4 245.7H169.2V260.27H191.4M169.2 252.99H162.3V274.85H191.4M191.4 289.42H175.6V304H191.4M162.3 263.92H161.6V296.71H175.6M191.4 318.57H182.3V333.15H191.4M182.3 325.86H169.2V347.73H191.4M161.6 280.32H158.4V336.79H169.2M191.4 362.3H169.2V376.88H191.4M169.2 369.59H164.2V391.45H191.4M158.4 308.55H148.5V380.52H164.2M155.3 200.61H122.5V344.54H148.5M115.6 272.57H122.5"/>
<path class="d" d="M197.2 117.37Q197.2 115.77 198.8 115.77H199.25M201.31 117.37Q201.31 115.77 199.71 115.77H199.25M193.1 115.51Q193.1 113.91 194.7 113.91H196.18M199.25 115.77V115.51M199.25 115.51Q199.25 113.91 197.65 113.91H196.18M205.41 116.87Q205.41 115.27 207.01 115.27H207.46M209.51 116.87Q209.51 115.27 207.91 115.27H207.46M196.18 113.91V113.6M196.18 113.6Q196.18 112 197.78 112H202.5M207.46 115.27V113.6M207.46 113.6Q207.46 112 205.86 112H202.5M213.62 116.23Q213.62 114.63 215.22 114.63H215.67M217.72 116.23Q217.72 114.63 216.12 114.63H215.67M221.82 115.91Q221.82 114.31 223.42 114.31H223.87M225.92 115.91Q225.92 114.31 224.32 114.31H223.87M215.67 114.63V114.6M215.67 114.6Q215.67 113 217.27 113H219.6M223.87 114.31V114.6M223.87 114.6Q223.87 113 222.27 113H219.6M230.03 114.6Q230.03 113 231.63 113H238.8M239.26 113H238.8M219.6 113V111.8M219.6 111.8Q219.6 110.2 221.2 110.2H229.4M238.8 113V111.8M238.8 111.8Q238.8 110.2 237.2 110.2H229.4M202.5 112V109.9M202.5 109.9Q202.5 108.3 204.1 108.3H215.75M229.4 110.2V109.9M229.4 109.9Q229.4 108.3 227.8 108.3H215.75M258.75 115.1Q258.75 113.5 260.35 113.5H264.9M265.93 113.5H264.9M249.5 112.8Q249.5 111.2 251.1 111.2H257.2M264.9 113.5V112.8M264.9 112.8Q264.9 111.2 263.3 111.2H257.2M257.2 111.2V110.4M257.2 110.4Q257.2 108.8 258.8 108.8H267.6M277 110.4Q277 108.8 275.4 108.8H267.6M215.75 108.3V102.7M215.75 102.7H241.4M267.6 108.8V102.7M267.6 102.7H241.4M283.37 115.5Q283.37 113.9 284.97 113.9H285.4M287.47 115.5Q287.47 113.9 285.87 113.9H285.4M291.57 116.59Q291.57 114.99 293.17 114.99H293.62M295.67 116.59Q295.67 114.99 294.07 114.99H293.62M293.62 114.99V113.96M293.62 113.96Q293.62 112.36 295.22 112.36H296.7M299.78 113.96Q299.78 112.36 298.18 112.36H296.7M296.7 112.36V111.1M296.7 111.1Q296.7 109.5 298.3 109.5H298.6M305.93 111.1Q305.93 109.5 304.33 109.5H298.6M285.4 113.9V106.2M285.4 106.2H292M298.6 109.5V106.2M298.6 106.2H292M241.4 102.7V99.4M241.4 99.4H266.6M292 106.2V99.4M292 99.4H266.6M312.09 113.44Q312.09 111.84 313.69 111.84H315.16M318.24 113.44Q318.24 111.84 316.64 111.84H315.16M328.5 115.88Q328.5 114.28 330.1 114.28H330.55M332.6 115.88Q332.6 114.28 331 114.28H330.55M324.4 113.68Q324.4 112.08 326 112.08H327.47M330.55 114.28V113.68M330.55 113.68Q330.55 112.08 328.95 112.08H327.47M315.16 111.84V111.6M315.16 111.6Q315.16 110 316.76 110H324M327.47 112.08V111.6M327.47 111.6Q327.47 110 325.87 110H324M324 110V107M324 107H355.5M350 107H355.5M369.53 115.9Q369.53 114.3 371.13 114.3H371.58M373.63 115.9Q373.63 114.3 372.03 114.3H371.58M371.58 114.3V113.6M371.58 113.6Q371.58 112 373.18 112H378M379.79 113.6Q379.79 112 378.19 112H378M385.94 115.45Q385.94 113.85 387.54 113.85H387.99M390.04 115.45Q390.04 113.85 388.44 113.85H387.99M394.15 116.89Q394.15 115.29 395.75 115.29H396.2M398.25 116.89Q398.25 115.29 396.65 115.29H396.2M396.2 115.29V114.1M396.2 114.1Q396.2 112.5 397.8 112.5H399.28M402.35 114.1Q402.35 112.5 400.75 112.5H399.28M387.99 113.85V112.6M387.99 112.6Q387.99 111 389.59 111H396M399.28 112.5V112.6M399.28 112.6Q399.28 111 397.68 111H396M378 112V110.1M378 110.1Q378 108.5 379.6 108.5H389.25M396 111V110.1M396 110.1Q396 108.5 394.4 108.5H389.25M355.5 107V103.75M355.5 103.75H372.5M389.25 108.5V103.75M389.25 103.75H372.5M266.6 99.4V96.2M266.6 96.2H319.6M372.5 103.75V96.2M372.5 96.2H319.6M408.51 111.6Q408.51 110 410.11 110H413M416.71 111.6Q416.71 110 415.11 110H413M422.87 116.18Q422.87 114.58 424.47 114.58H424.92M426.97 116.18Q426.97 114.58 425.37 114.58H424.92M424.92 114.58V110.73M424.92 110.73Q424.92 109.13 426.52 109.13H436M438.77 110.73Q438.77 109.13 437.17 109.13H436M413 110V103.75M413 103.75H426.25M436 109.13V103.75M436 103.75H426.25M449.54 116.3Q449.54 114.7 451.14 114.7H452.61M455.69 116.3Q455.69 114.7 454.09 114.7H452.61M452.61 114.7V113.48M452.61 113.48Q452.61 111.88 454.21 111.88H456.2M459.79 113.48Q459.79 111.88 458.19 111.88H456.2M456.2 111.88V111.1M456.2 111.1Q456.2 109.5 457.8 109.5H465.95M465.95 109.5H465.95M472.1 112.55Q472.1 110.95 473.7 110.95H475.18M478.26 112.55Q478.26 110.95 476.66 110.95H475.18M488.52 116.6Q488.52 115 490.12 115H490.57M492.62 116.6Q492.62 115 491.02 115H490.57M490.57 115V113.58M490.57 113.58Q490.57 111.98 492.17 111.98H493.64M496.72 113.58Q496.72 111.98 495.12 111.98H493.64M484.41 111.93Q484.41 110.33 486.01 110.33H489.03M493.64 111.98V111.93M493.64 111.93Q493.64 110.33 492.04 110.33H489.03M475.18 110.95V110.6M475.18 110.6Q475.18 109 476.78 109H489.03M489.03 110.33V109M489.03 109H489.03M465.95 109.5V106.3M465.95 106.3H498.75M489.03 109V106.3M489.03 106.3H498.75M504.93 115.04Q504.93 113.44 506.53 113.44H508.01M511.08 115.04Q511.08 113.44 509.48 113.44H508.01M500.82 113.36Q500.82 111.76 502.42 111.76H504.42M508.01 113.44V113.36M508.01 113.36Q508.01 111.76 506.41 111.76H504.42M504.42 111.76V111.6M504.42 111.6Q504.42 110 506.02 110H517.24M517.24 110H517.24M533.65 116.99Q533.65 115.39 535.25 115.39H535.7M537.75 116.99Q537.75 115.39 536.15 115.39H535.7M529.55 114.82Q529.55 113.22 531.15 113.22H532.62M535.7 115.39V114.82M535.7 114.82Q535.7 113.22 534.1 113.22H532.62M525.44 112.96Q525.44 111.36 527.04 111.36H529.03M532.62 113.22V112.96M532.62 112.96Q532.62 111.36 531.02 111.36H529.03M521.34 110.6Q521.34 109 522.94 109H529.03M529.03 111.36V109M529.03 109H529.03M517.24 110V104M517.24 104H531.25M529.03 109V104M529.03 104H531.25M498.75 106.3V100M498.75 100H515M531.25 104V100M531.25 100H515M426.25 103.75V96M426.25 96H470.5M515 100V96M515 96H470.5M545.96 116.32Q545.96 114.72 547.56 114.72H548.01M550.06 116.32Q550.06 114.72 548.46 114.72H548.01M541.86 113.6Q541.86 112 543.46 112H548M548.01 114.72V112M548.01 112H548M558.27 116.9Q558.27 115.3 559.87 115.3H560.32M562.37 116.9Q562.37 115.3 560.77 115.3H560.32M560.32 115.3V113.21M560.32 113.21Q560.32 111.61 561.92 111.61H563.4M566.47 113.21Q566.47 111.61 564.87 111.61H563.4M554.16 111.6Q554.16 110 555.76 110H560M563.4 111.61V111.6M563.4 111.6Q563.4 110 561.8 110H560M548 112V104M548 104H553M560 110V104M560 104H553M553 104V96.25M553 96.25H565.6M582.5 96.25H565.6M595.19 101.9H597.25M599.3 101.9H597.25M565.6 96.25V93.1M565.6 93.1H581.9M597.25 101.9V93.1M597.25 93.1H581.9M603.4 105.6H606.48M609.55 105.6H606.48M606.48 105.6V98.75M606.48 98.75H612.5M618.79 98.75H612.5M581.9 93.1V90.6M581.9 90.6H596.9M612.5 98.75V90.6M612.5 90.6H596.9M596.9 90.6V85.3M596.9 85.3H612.5M628.02 85.3H612.5M470.5 96V79.5M470.5 79.5H541.5M612.5 85.3V79.5M612.5 79.5H541.5M634.17 89.6H637.2M640.33 89.6H637.2M541.5 79.5V67.6M541.5 67.6H589.3M637.2 89.6V67.6M637.2 67.6H589.3M319.6 96.2V63.6M319.6 63.6H454.3M589.3 67.6V63.6M589.3 63.6H454.3M454.3 63.6V39.5M454.3 39.5H549.3M644.3 39.5H549.3M648.53 113.55Q648.53 111.95 650.13 111.95H650.58M652.64 113.55Q652.64 111.95 651.04 111.95H650.58M660.84 116.7Q660.84 115.1 662.44 115.1H662.89M664.94 116.7Q664.94 115.1 663.34 115.1H662.89M656.74 113.39Q656.74 111.79 658.34 111.79H659.82M662.89 115.1V113.39M662.89 113.39Q662.89 111.79 661.29 111.79H659.82M650.58 111.95V111.09M650.58 111.09Q650.58 109.49 652.18 109.49H658M659.82 111.79V111.09M659.82 111.09Q659.82 109.49 658.22 109.49H658M681.36 113.85Q681.36 112.25 682.96 112.25H683.41M685.46 113.85Q685.46 112.25 683.86 112.25H683.41M675.2 112.49Q675.2 110.89 676.8 110.89H679.31M683.41 112.25V112.49M683.41 112.49Q683.41 110.89 681.81 110.89H679.31M669.05 109.94Q669.05 108.34 670.65 108.34H676M679.31 110.89V109.94M679.31 109.94Q679.31 108.34 677.71 108.34H676M658 109.49V104M658 104H667.5M676 108.34V104M676 104H667.5M697.77 116.77Q697.77 115.17 699.37 115.17H699.82M701.87 116.77Q701.87 115.17 700.27 115.17H699.82M699.82 115.17V114.94M699.82 114.94Q699.82 113.34 701.42 113.34H702.9M705.98 114.94Q705.98 113.34 704.38 113.34H702.9M693.67 112.56Q693.67 110.96 695.27 110.96H698.28M702.9 113.34V112.56M702.9 112.56Q702.9 110.96 701.3 110.96H698.28M689.56 111.13Q689.56 109.53 691.16 109.53H693.92M698.28 110.96V111.13M698.28 111.13Q698.28 109.53 696.68 109.53H693.92M714.18 114.61Q714.18 113.01 715.78 113.01H716.23M718.28 114.61Q718.28 113.01 716.68 113.01H716.23M710.08 112.63Q710.08 111.03 711.68 111.03H713.16M716.23 113.01V112.63M716.23 112.63Q716.23 111.03 714.63 111.03H713.16M693.92 109.53V107.61M693.92 107.61H713.16M713.16 111.03V107.61M713.16 107.61H713.16M726.49 114.33Q726.49 112.73 728.09 112.73H728.54M730.59 114.33Q730.59 112.73 728.99 112.73H728.54M722.39 112.15Q722.39 110.55 723.99 110.55H725.46M728.54 112.73V112.15M728.54 112.15Q728.54 110.55 726.94 110.55H725.46M734.7 116.54Q734.7 114.94 736.3 114.94H736.75M738.8 116.54Q738.8 114.94 737.2 114.94H736.75M736.75 114.94V113.65M736.75 113.65Q736.75 112.05 738.35 112.05H739.82M742.9 113.65Q742.9 112.05 741.3 112.05H739.82M739.82 112.05V111.25M739.82 111.25Q739.82 109.65 741.42 109.65H744.44M749.06 111.25Q749.06 109.65 747.46 109.65H744.44M725.46 110.55V109.94M725.46 109.94Q725.46 108.34 727.06 108.34H744.44M744.44 109.65V108.34M744.44 108.34H744.44M713.16 107.61V103M713.16 103H730M744.44 108.34V103M744.44 103H730M667.5 104V99M667.5 99H698.75M730 103V99M730 99H698.75M767.52 115.19Q767.52 113.59 769.12 113.59H769.57M771.62 115.19Q771.62 113.59 770.02 113.59H769.57M763.42 113.05Q763.42 111.45 765.02 111.45H766.49M769.57 113.59V113.05M769.57 113.05Q769.57 111.45 767.97 111.45H766.49M757.26 111.6Q757.26 110 758.86 110H766M766.49 111.45V110M766.49 110H766M766 110V106M766 106H774M782 106H774M812.65 112.46Q812.65 110.86 814.25 110.86H815.73M818.81 112.46Q818.81 110.86 817.21 110.86H815.73M802.4 109.6Q802.4 108 804 108H806M815.73 110.86V109.6M815.73 109.6Q815.73 108 814.13 108H806M774 106V103M774 103H790.5M806 108V103M806 103H790.5M698.75 99V90.5M698.75 90.5H744.5M790.5 103V90.5M790.5 90.5H744.5M935.74 116.85Q935.74 115.25 937.34 115.25H937.79M939.85 116.85Q939.85 115.25 938.25 115.25H937.79M929.59 114.12Q929.59 112.52 931.19 112.52H933.69M937.79 115.25V114.12M937.79 114.12Q937.79 112.52 936.19 112.52H933.69M914.72 112.1Q914.72 110.5 916.32 110.5H926M933.69 112.52V112.1M933.69 112.1Q933.69 110.5 932.09 110.5H926M926 110.5V109.9M926 109.9Q926 108.3 927.6 108.3H944M962 109.9Q962 108.3 960.4 108.3H944M867.5 106.6H905.75M944 108.3V106.6M944 106.6H905.75M905.75 106.6V99.6M905.75 99.6H978.75M1051 99.6H978.75M744.5 90.5V80.5M744.5 80.5H861.3M978.75 99.6V80.5M978.75 80.5H861.3M861.3 80.5V71.2M861.3 71.2H978.4M1095.8 71.2H978.4M549.3 39.5V16M549.3 16H763.75M978.4 71.2V16M978.4 16H763.75M763.75 5V16"/>
<path class="dm" d="M197.2 120.9V117.37M209.51 120.9V116.87M217.72 120.9V116.23M225.92 120.9V115.91M234.13 120.9V117.51M234.13 117.51Q234.13 115.91 235.73 115.91H236.18M238.23 120.9V117.51M238.23 117.51Q238.23 115.91 236.63 115.91H236.18M236.18 115.91V115.91M236.18 115.91Q236.18 114.31 237.78 114.31H239.26M242.34 120.9V115.91M242.34 115.91Q242.34 114.31 240.74 114.31H239.26M239.26 114.31V113M266.95 120.9V117.95M266.95 117.95Q266.95 116.35 268.55 116.35H269.01M271.06 120.9V117.95M271.06 117.95Q271.06 116.35 269.46 116.35H269.01M262.85 120.9V116.64M262.85 116.64Q262.85 115.04 264.45 115.04H265.93M269.01 116.35V116.64M269.01 116.64Q269.01 115.04 267.41 115.04H265.93M265.93 115.04V113.5M275.16 120.9V114.62M275.16 114.62Q275.16 113.02 276.76 113.02H277M279.26 120.9V114.62M279.26 114.62Q279.26 113.02 277.66 113.02H277M277 113.02V110.4M287.47 120.9V115.5M295.67 120.9V116.59M299.78 120.9V113.96M303.88 120.9V115.16M303.88 115.16Q303.88 113.56 305.48 113.56H305.93M307.98 120.9V115.16M307.98 115.16Q307.98 113.56 306.38 113.56H305.93M305.93 113.56V111.1M316.19 120.9V116.47M316.19 116.47Q316.19 114.87 317.79 114.87H318.24M320.29 120.9V116.47M320.29 116.47Q320.29 114.87 318.69 114.87H318.24M318.24 114.87V113.44M328.5 120.9V115.88M324.4 120.9V113.68M336.7 120.9V114.95M336.7 114.95Q336.7 113.35 338.31 113.35H338.76M340.81 120.9V114.95M340.81 114.95Q340.81 113.35 339.21 113.35H338.76M344.91 120.9V115.83M344.91 115.83Q344.91 114.23 346.51 114.23H346.96M349.01 120.9V115.83M349.01 115.83Q349.01 114.23 347.41 114.23H346.96M338.76 113.35V112.93M338.76 112.93Q338.76 111.33 340.36 111.33H342.86M346.96 114.23V112.93M346.96 112.93Q346.96 111.33 345.36 111.33H342.86M357.22 120.9V117.63M357.22 117.63Q357.22 116.03 358.82 116.03H359.27M361.32 120.9V117.63M361.32 117.63Q361.32 116.03 359.72 116.03H359.27M359.27 116.03V115.74M359.27 115.74Q359.27 114.14 360.87 114.14H362.35M365.43 120.9V115.74M365.43 115.74Q365.43 114.14 363.83 114.14H362.35M353.12 120.9V113.5M353.12 113.5Q353.12 111.9 354.72 111.9H357.73M362.35 114.14V113.5M362.35 113.5Q362.35 111.9 360.75 111.9H357.73M342.86 111.33V111.1M342.86 111.1Q342.86 109.5 344.46 109.5H350M357.73 111.9V111.1M357.73 111.1Q357.73 109.5 356.13 109.5H350M350 109.5V107M369.53 120.9V115.9M377.74 120.9V115.99M377.74 115.99Q377.74 114.39 379.34 114.39H379.79M381.84 120.9V115.99M381.84 115.99Q381.84 114.39 380.24 114.39H379.79M379.79 114.39V113.6M385.94 120.9V115.45M394.15 120.9V116.89M402.35 120.9V114.1M414.66 120.9V116.19M414.66 116.19Q414.66 114.59 416.26 114.59H416.71M418.76 120.9V116.19M418.76 116.19Q418.76 114.59 417.16 114.59H416.71M416.71 114.59V111.6M426.97 120.9V116.18M435.18 120.9V116.73M435.18 116.73Q435.18 115.13 436.78 115.13H437.23M439.28 120.9V116.73M439.28 116.73Q439.28 115.13 437.68 115.13H437.23M431.07 120.9V114.51M431.07 114.51Q431.07 112.91 432.67 112.91H434.15M437.23 115.13V114.51M437.23 114.51Q437.23 112.91 435.63 112.91H434.15M434.15 112.91V112.8M434.15 112.8Q434.15 111.2 435.75 111.2H438.77M443.38 120.9V112.8M443.38 112.8Q443.38 111.2 441.78 111.2H438.77M438.77 111.2V110.73M447.49 120.9V118M447.49 118Q447.49 116.4 449.09 116.4H449.54M451.59 120.9V118M451.59 118Q451.59 116.4 449.99 116.4H449.54M449.54 116.4V116.3M459.79 120.9V113.48M463.9 120.9V115.46M463.9 115.46Q463.9 113.86 465.5 113.86H465.95M468 120.9V115.46M468 115.46Q468 113.86 466.4 113.86H465.95M465.95 113.86V109.5M476.21 120.9V115.45M476.21 115.45Q476.21 113.85 477.81 113.85H478.26M480.31 120.9V115.45M480.31 115.45Q480.31 113.85 478.71 113.85H478.26M478.26 113.85V112.55M488.52 120.9V116.6M496.72 120.9V113.58M484.41 120.9V111.93M509.03 120.9V117.95M509.03 117.95Q509.03 116.35 510.63 116.35H511.08M513.13 120.9V117.95M513.13 117.95Q513.13 116.35 511.53 116.35H511.08M511.08 116.35V115.04M500.82 120.9V113.36M537.75 120.9V116.99M529.55 120.9V114.82M525.44 120.9V112.96M521.34 120.9V110.6M550.06 120.9V116.32M541.86 120.9V113.6M562.37 120.9V116.9M554.16 120.9V111.6M570.58 120.9V115.8M570.58 115.8Q570.58 114.2 572.18 114.2H572.63M574.68 120.9V115.8M574.68 115.8Q574.68 114.2 573.08 114.2H572.63M572.63 114.2V111.69M572.63 111.69H574M578.78 120.9V113.29M578.78 113.29Q578.78 111.69 577.18 111.69H574M582.88 120.9V116.23M582.88 116.23Q582.88 114.63 584.49 114.63H584.94M586.99 120.9V116.23M586.99 116.23Q586.99 114.63 585.39 114.63H584.94M584.94 114.63V111.77M584.94 111.77Q584.94 110.17 586.54 110.17H590M591.09 120.9V110.17M591.09 110.17H590M574 111.69V104.7M574 104.7H582.5M590 110.17V104.7M590 104.7H582.5M582.5 104.7V96.25M599.3 120.9V101.9M607.5 120.9V112.6M607.5 112.6Q607.5 111 609.1 111H609.55M611.61 120.9V112.6M611.61 112.6Q611.61 111 610.01 111H609.55M609.55 111V105.6M619.81 120.9V113.1M619.81 113.1Q619.81 111.5 621.41 111.5H621.86M623.91 120.9V113.1M623.91 113.1Q623.91 111.5 622.31 111.5H621.86M615.71 120.9V107M615.71 107H618.79M621.86 111.5V107M621.86 107H618.79M618.79 107V98.75M628.02 120.9V85.3M640.33 120.9V89.6M652.64 120.9V113.55M660.84 120.9V116.7M673.15 120.9V114.77M673.15 114.77Q673.15 113.17 674.75 113.17H675.2M677.25 120.9V114.77M677.25 114.77Q677.25 113.17 675.65 113.17H675.2M685.46 120.9V113.85M675.2 113.17V112.49M669.05 120.9V109.94M701.87 120.9V116.77M705.98 120.9V114.94M689.56 120.9V111.13M714.18 120.9V114.61M726.49 120.9V114.33M738.8 120.9V116.54M742.9 120.9V113.65M747 120.9V113.95M747 113.95Q747 112.35 748.61 112.35H749.06M751.11 120.9V113.95M751.11 113.95Q751.11 112.35 749.51 112.35H749.06M749.06 112.35V111.25M755.21 120.9V116.48M755.21 116.48Q755.21 114.88 756.81 114.88H757.26M759.31 120.9V116.48M759.31 116.48Q759.31 114.88 757.71 114.88H757.26M767.52 120.9V115.19M763.42 120.9V113.05M757.26 114.88V111.6M812.65 120.9V112.46M939.85 120.9V116.85"/>
<path class="dc" d="M201.31 120.9V117.37M193.1 120.9V115.51M205.41 120.9V116.87M213.62 120.9V116.23M221.82 120.9V115.91M230.03 120.9V114.6M246.44 120.9V117.01M246.44 117.01Q246.44 115.41 248.04 115.41H248.49M250.54 120.9V117.01M250.54 117.01Q250.54 115.41 248.94 115.41H248.49M248.49 115.41V114M248.49 114H249.5M254.64 120.9V115.6M254.64 115.6Q254.64 114 253.04 114H249.5M258.75 120.9V115.1M249.5 114V112.8M283.37 120.9V115.5M291.57 120.9V116.59M312.09 120.9V113.44M332.6 120.9V115.88M373.63 120.9V115.9M390.04 120.9V115.45M398.25 120.9V116.89M406.46 120.9V114.61M406.46 114.61Q406.46 113.01 408.06 113.01H408.51M410.56 120.9V114.61M410.56 114.61Q410.56 113.01 408.96 113.01H408.51M408.51 113.01V111.6M422.87 120.9V116.18M455.69 120.9V116.3M472.1 120.9V112.55M492.62 120.9V116.6M504.93 120.9V115.04M517.24 120.9V110M533.65 120.9V116.99M545.96 120.9V116.32M558.27 120.9V116.9M566.47 120.9V113.21M595.19 120.9V101.9M603.4 120.9V105.6M632.12 120.9V96.25M632.12 96.25H634.17M636.22 120.9V96.25M636.22 96.25H634.17M634.17 96.25V89.6M644.3 120.9V39.5M648.53 120.9V113.55M664.94 120.9V116.7M656.74 120.9V113.39M681.36 120.9V113.85M697.77 120.9V116.77M693.67 120.9V112.56M718.28 120.9V114.61M710.08 120.9V112.63M730.59 120.9V114.33M722.39 120.9V112.15M734.7 120.9V116.54M771.62 120.9V115.19M788.03 120.9V116.47M788.03 116.47Q788.03 114.87 789.63 114.87H790.09M792.14 120.9V116.47M792.14 116.47Q792.14 114.87 790.54 114.87H790.09M783.93 120.9V114.36M783.93 114.36Q783.93 112.76 785.53 112.76H787.01M790.09 114.87V114.36M790.09 114.36Q790.09 112.76 788.49 112.76H787.01M779.83 120.9V112.14M779.83 112.14Q779.83 110.54 781.43 110.54H783.42M787.01 112.76V112.14M787.01 112.14Q787.01 110.54 785.41 110.54H783.42M775.73 120.9V110.6M775.73 110.6Q775.73 109 777.33 109H782M783.42 110.54V109M783.42 109H782M782 109V106M796.24 120.9V115.17M796.24 115.17Q796.24 113.57 797.84 113.57H798.29M800.34 120.9V115.17M800.34 115.17Q800.34 113.57 798.74 113.57H798.29M804.45 120.9V114.53M804.45 114.53Q804.45 112.93 806.05 112.93H806.5M808.55 120.9V114.53M808.55 114.53Q808.55 112.93 806.95 112.93H806.5M798.29 113.57V111.76M798.29 111.76Q798.29 110.16 799.89 110.16H802.4M806.5 112.93V111.76M806.5 111.76Q806.5 110.16 804.9 110.16H802.4M816.76 120.9V115.45M816.76 115.45Q816.76 113.85 818.36 113.85H818.81M820.86 120.9V115.45M820.86 115.45Q820.86 113.85 819.26 113.85H818.81M818.81 113.85V112.46M802.4 110.16V109.6M833.17 120.9V118M833.17 118Q833.17 116.4 834.77 116.4H835.22M837.27 120.9V118M837.27 118Q837.27 116.4 835.67 116.4H835.22M829.06 120.9V116.7M829.06 116.7Q829.06 115.1 830.66 115.1H832.14M835.22 116.4V116.7M835.22 116.7Q835.22 115.1 833.62 115.1H832.14M824.96 120.9V114.07M824.96 114.07Q824.96 112.47 826.56 112.47H828.55M832.14 115.1V114.07M832.14 114.07Q832.14 112.47 830.54 112.47H828.55M841.37 120.9V117.95M841.37 117.95Q841.37 116.35 842.97 116.35H843.43M845.48 120.9V117.95M845.48 117.95Q845.48 116.35 843.88 116.35H843.43M843.43 116.35V116.46M843.43 116.46Q843.43 114.86 845.03 114.86H846.5M849.58 120.9V116.46M849.58 116.46Q849.58 114.86 847.98 114.86H846.5M853.68 120.9V117.57M853.68 117.57Q853.68 115.97 855.28 115.97H855.73M857.79 120.9V117.57M857.79 117.57Q857.79 115.97 856.19 115.97H855.73M855.73 115.97V116.02M855.73 116.02Q855.73 114.42 857.33 114.42H858.81M861.89 120.9V116.02M861.89 116.02Q861.89 114.42 860.29 114.42H858.81M846.5 114.86V113.55M846.5 113.55Q846.5 111.95 848.1 111.95H852.66M858.81 114.42V113.55M858.81 113.55Q858.81 111.95 857.21 111.95H852.66M828.55 112.47V112.1M828.55 112.1Q828.55 110.5 830.15 110.5H850M852.66 111.95V112.1M852.66 112.1Q852.66 110.5 851.06 110.5H850M865.99 120.9V117.24M865.99 117.24Q865.99 115.64 867.59 115.64H868.04M870.1 120.9V117.24M870.1 117.24Q870.1 115.64 868.5 115.64H868.04M868.04 115.64V115.92M868.04 115.92Q868.04 114.32 869.64 114.32H871.12M874.2 120.9V115.92M874.2 115.92Q874.2 114.32 872.6 114.32H871.12M871.12 114.32V114.13M871.12 114.13Q871.12 112.53 872.72 112.53H874.71M878.3 120.9V114.13M878.3 114.13Q878.3 112.53 876.7 112.53H874.71M886.51 120.9V118M886.51 118Q886.51 116.4 888.11 116.4H888.56M890.61 120.9V118M890.61 118Q890.61 116.4 889.01 116.4H888.56M882.4 120.9V116.32M882.4 116.32Q882.4 114.72 884 114.72H885.48M888.56 116.4V116.32M888.56 116.32Q888.56 114.72 886.96 114.72H885.48M894.71 120.9V118M894.71 118Q894.71 116.4 896.31 116.4H896.76M898.82 120.9V118M898.82 118Q898.82 116.4 897.22 116.4H896.76M896.76 116.4V116.16M896.76 116.16Q896.76 114.56 898.36 114.56H899.84M902.92 120.9V116.16M902.92 116.16Q902.92 114.56 901.32 114.56H899.84M885.48 114.72V113.49M885.48 113.49Q885.48 111.89 887.08 111.89H892.66M899.84 114.56V113.49M899.84 113.49Q899.84 111.89 898.24 111.89H892.66M874.71 112.53V112.1M874.71 112.1Q874.71 110.5 876.31 110.5H885M892.66 111.89V112.1M892.66 112.1Q892.66 110.5 891.06 110.5H885M850 110.5V110.6M850 110.6Q850 109 851.6 109H867.5M885 110.5V110.6M885 110.6Q885 109 883.4 109H867.5M907.02 120.9V114.73M907.02 114.73Q907.02 113.13 908.62 113.13H909.07M911.12 120.9V114.73M911.12 114.73Q911.12 113.13 909.52 113.13H909.07M915.23 120.9V118M915.23 118Q915.23 116.4 916.83 116.4H917.28M919.33 120.9V118M919.33 118Q919.33 116.4 917.73 116.4H917.28M917.28 116.4V115.75M917.28 115.75Q917.28 114.15 918.88 114.15H920.36M923.43 120.9V115.75M923.43 115.75Q923.43 114.15 921.83 114.15H920.36M909.07 113.13V113.4M909.07 113.4Q909.07 111.8 910.67 111.8H914.72M920.36 114.15V113.4M920.36 113.4Q920.36 111.8 918.76 111.8H914.72M927.54 120.9V116.07M927.54 116.07Q927.54 114.47 929.14 114.47H929.59M931.64 120.9V116.07M931.64 116.07Q931.64 114.47 930.04 114.47H929.59M935.74 120.9V116.85M929.59 114.47V114.12M914.72 111.8V112.1M943.95 120.9V115.02M943.95 115.02Q943.95 113.42 945.55 113.42H946M948.05 120.9V115.02M948.05 115.02Q948.05 113.42 946.45 113.42H946M956.26 120.9V118M956.26 118Q956.26 116.4 957.86 116.4H958.31M960.36 120.9V118M960.36 118Q960.36 116.4 958.76 116.4H958.31M952.15 120.9V116.7M952.15 116.7Q952.15 115.1 953.75 115.1H955.23M958.31 116.4V116.7M958.31 116.7Q958.31 115.1 956.71 115.1H955.23M955.23 115.1V115.4M955.23 115.4Q955.23 113.8 956.83 113.8H959.85M964.46 120.9V115.4M964.46 115.4Q964.46 113.8 962.86 113.8H959.85M946 113.42V113.5M946 113.5Q946 111.9 947.6 111.9H952.92M959.85 113.8V113.5M959.85 113.5Q959.85 111.9 958.25 111.9H952.92M972.67 120.9V118M972.67 118Q972.67 116.4 974.27 116.4H974.72M976.77 120.9V118M976.77 118Q976.77 116.4 975.17 116.4H974.72M974.72 116.4V116.21M974.72 116.21Q974.72 114.61 976.32 114.61H977.8M980.88 120.9V116.21M980.88 116.21Q980.88 114.61 979.28 114.61H977.8M968.57 120.9V114.21M968.57 114.21Q968.57 112.61 970.17 112.61H973.18M977.8 114.61V114.21M977.8 114.21Q977.8 112.61 976.2 112.61H973.18M952.92 111.9V112.1M952.92 112.1Q952.92 110.5 954.52 110.5H962M973.18 112.61V112.1M973.18 112.1Q973.18 110.5 971.58 110.5H962M962 110.5V109.9M867.5 109V106.6M984.98 120.9V116.36M984.98 116.36Q984.98 114.76 986.58 114.76H987.03M989.08 120.9V116.36M989.08 116.36Q989.08 114.76 987.48 114.76H987.03M993.18 120.9V115.02M993.18 115.02Q993.18 113.42 994.78 113.42H995.24M997.29 120.9V115.02M997.29 115.02Q997.29 113.42 995.69 113.42H995.24M987.03 114.76V113.57M987.03 113.57Q987.03 111.97 988.63 111.97H991.13M995.24 113.42V113.57M995.24 113.57Q995.24 111.97 993.64 111.97H991.13M1005.49 120.9V117.7M1005.49 117.7Q1005.49 116.1 1007.09 116.1H1007.55M1009.6 120.9V117.7M1009.6 117.7Q1009.6 116.1 1008 116.1H1007.55M1007.55 116.1V116.35M1007.55 116.35Q1007.55 114.75 1009.15 114.75H1010.62M1013.7 120.9V116.35M1013.7 116.35Q1013.7 114.75 1012.1 114.75H1010.62M1001.39 120.9V113.57M1001.39 113.57Q1001.39 111.97 1002.99 111.97H1006.01M1010.62 114.75V113.57M1010.62 113.57Q1010.62 111.97 1009.02 111.97H1006.01M991.13 111.97V110.6M991.13 110.6Q991.13 109 992.73 109H1000M1006.01 111.97V110.6M1006.01 110.6Q1006.01 109 1004.41 109H1000M1017.8 120.9V115.09M1017.8 115.09Q1017.8 113.49 1019.4 113.49H1019.85M1021.91 120.9V115.09M1021.91 115.09Q1021.91 113.49 1020.31 113.49H1019.85M1019.85 113.49V113.41M1019.85 113.41Q1019.85 111.81 1021.45 111.81H1022.93M1026.01 120.9V113.41M1026.01 113.41Q1026.01 111.81 1024.41 111.81H1022.93M1030.11 120.9V116.14M1030.11 116.14Q1030.11 114.54 1031.71 114.54H1032.16M1034.21 120.9V116.14M1034.21 116.14Q1034.21 114.54 1032.62 114.54H1032.16M1022.93 111.81V111.88M1022.93 111.88Q1022.93 110.28 1024.53 110.28H1027.55M1032.16 114.54V111.88M1032.16 111.88Q1032.16 110.28 1030.56 110.28H1027.55M1038.32 120.9V115.83M1038.32 115.83Q1038.32 114.23 1039.92 114.23H1040.37M1042.42 120.9V115.83M1042.42 115.83Q1042.42 114.23 1040.82 114.23H1040.37M1040.37 114.23V113.24M1040.37 113.24Q1040.37 111.64 1041.97 111.64H1043.45M1046.52 120.9V113.24M1046.52 113.24Q1046.52 111.64 1044.92 111.64H1043.45M1027.55 110.28V109.6M1027.55 109.6Q1027.55 108 1029.15 108H1035M1043.45 111.64V109.6M1043.45 109.6Q1043.45 108 1041.85 108H1035M1000 109V105.5M1000 105.5H1017.5M1035 108V105.5M1035 105.5H1017.5M1054.73 120.9V115.12M1054.73 115.12Q1054.73 113.52 1056.33 113.52H1056.78M1058.83 120.9V115.12M1058.83 115.12Q1058.83 113.52 1057.23 113.52H1056.78M1050.63 120.9V113.66M1050.63 113.66Q1050.63 112.06 1052.23 112.06H1053.7M1056.78 113.52V113.66M1056.78 113.66Q1056.78 112.06 1055.18 112.06H1053.7M1062.94 120.9V115.63M1062.94 115.63Q1062.94 114.03 1064.54 114.03H1064.99M1067.04 120.9V115.63M1067.04 115.63Q1067.04 114.03 1065.44 114.03H1064.99M1064.99 114.03V114.01M1064.99 114.01Q1064.99 112.41 1066.59 112.41H1068.06M1071.14 120.9V114.01M1071.14 114.01Q1071.14 112.41 1069.54 112.41H1068.06M1053.7 112.06V112.1M1053.7 112.1Q1053.7 110.5 1055.3 110.5H1063M1068.06 112.41V112.1M1068.06 112.1Q1068.06 110.5 1066.46 110.5H1063M1075.24 120.9V115.09M1075.24 115.09Q1075.24 113.49 1076.84 113.49H1077.3M1079.35 120.9V115.09M1079.35 115.09Q1079.35 113.49 1077.75 113.49H1077.3M1083.45 120.9V116.59M1083.45 116.59Q1083.45 114.99 1085.05 114.99H1085.5M1087.55 120.9V116.59M1087.55 116.59Q1087.55 114.99 1085.95 114.99H1085.5M1085.5 114.99V114.5M1085.5 114.5Q1085.5 112.9 1087.1 112.9H1088.58M1091.66 120.9V114.5M1091.66 114.5Q1091.66 112.9 1090.06 112.9H1088.58M1077.3 113.49V112.6M1077.3 112.6Q1077.3 111 1078.9 111H1086M1088.58 112.9V112.6M1088.58 112.6Q1088.58 111 1086.98 111H1086M1063 110.5V107M1063 107H1085M1086 111V107M1086 107H1085M1017.5 105.5V102.5M1017.5 102.5H1051M1085 107V102.5M1085 102.5H1051M1051 102.5V99.6M1095.8 120.9V71.2"/>
<rect x="54" y="403.7" width="5" height="16" fill="#a23b95"/>
<text class="b" font-size="15.2" transform="translate(60.75 416.3) scale(1.0062 1)" xml:space="preserve">TB</text>
<rect x="95.6" y="403.7" width="5.3" height="16" fill="#29c0f0"/>
<text class="b" font-size="15.2" transform="translate(101.57 416.3) scale(1.0222 1)" xml:space="preserve">uninfected</text>
<rect x="190.6" y="402.8" width="907.2" height="15.7" fill="#29c0f0"/>
<path fill="none" stroke="#a23b95" stroke-width="15.7" d="M194.7 410.65h4.1M207.02 410.65h4.1M215.23 410.65h4.1M223.44 410.65h4.1M231.65 410.65h12.31M260.38 410.65h20.52M285.01 410.65h4.1M293.22 410.65h16.42M313.75 410.65h16.42M334.27 410.65h36.94M375.32 410.65h12.31M391.74 410.65h4.1M399.95 410.65h4.1M412.27 410.65h8.21M424.58 410.65h28.73M457.42 410.65h12.31M473.84 410.65h16.42M494.37 410.65h8.21M506.68 410.65h8.21M519 410.65h12.31M535.42 410.65h8.21M547.73 410.65h8.21M560.05 410.65h4.1M568.26 410.65h24.63M596.99 410.65h4.1M605.2 410.65h24.63M638.04 410.65h4.1M650.36 410.65h4.1M658.57 410.65h4.1M666.78 410.65h12.31M683.2 410.65h8.21M699.62 410.65h8.21M711.93 410.65h4.1M724.25 410.65h4.1M736.56 410.65h32.84M810.45 410.65h4.1M937.71 410.65h4.1"/>
<path fill="none" stroke="#29c0f0" stroke-width="3.3" d="M193.55 534.6v-56.45M201.78 534.6v-51.07M205.9 534.6v-55.1M214.14 534.6v-54.21M222.37 534.6v-53.98M230.6 534.6v-51.07M247.07 534.6v-48.38M251.19 534.6v-56M255.31 534.6v-51.97M280.01 534.6v-43.9M288.24 534.6v-44.8M308.83 534.6v-40.77M329.41 534.6v-47.49M370.58 534.6v-57.34M391.17 534.6v-83.33M399.4 534.6v-40.77M407.63 534.6v-42.56M411.75 534.6v-37.63M424.1 534.6v-40.1M452.92 534.6v-46.14M473.51 534.6v-43.46M502.32 534.6v-53.76M514.68 534.6v-43.01M531.14 534.6v-42.11M543.5 534.6v-36.29M555.85 534.6v-41.22M564.08 534.6v-39.42M592.9 534.6v-51.52M601.13 534.6v-34.94M629.95 534.6v-37.63M634.07 534.6v-39.87M642.3 534.6v-59.58M646.42 534.6v-58.24M654.65 534.6v-57.79M662.89 534.6v-58.69M679.36 534.6v-58.69M691.71 534.6v-51.52M695.82 534.6v-47.94M708.17 534.6v-47.04M716.41 534.6v-49.28M720.53 534.6v-45.25M728.76 534.6v-71.01M732.88 534.6v-68.1M769.93 534.6v-73.47M774.05 534.6v-69.89M778.16 534.6v-63.84M782.28 534.6v-73.47M786.4 534.6v-63.17M790.51 534.6v-76.16M794.63 534.6v-69.44M798.75 534.6v-69.89M802.87 534.6v-68.54M806.98 534.6v-69.44M815.22 534.6v-71.01M819.33 534.6v-64.06M823.45 534.6v-65.86M827.57 534.6v-64.96M831.68 534.6v-68.54M835.8 534.6v-66.75M839.92 534.6v-68.54M844.04 534.6v-68.99M848.15 534.6v-64.06M852.27 534.6v-64.51M856.39 534.6v-70.56M860.5 534.6v-70.78M864.62 534.6v-73.92M868.74 534.6v-72.58M872.85 534.6v-79.74M876.97 534.6v-68.99M881.09 534.6v-68.54M885.21 534.6v-73.92M889.32 534.6v-71.68M893.44 534.6v-72.13M897.56 534.6v-68.1M901.67 534.6v-65.41M905.79 534.6v-76.16M909.91 534.6v-57.79M914.02 534.6v-64.96M918.14 534.6v-64.96M922.26 534.6v-62.27M926.38 534.6v-76.16M930.49 534.6v-69.44M934.61 534.6v-62.27M942.84 534.6v-66.75M946.96 534.6v-63.62M951.08 534.6v-56.9M955.19 534.6v-68.99M959.31 534.6v-73.02M963.43 534.6v-64.51M967.55 534.6v-68.54M971.66 534.6v-67.65M975.78 534.6v-68.99M979.9 534.6v-65.86M984.01 534.6v-71.01M988.13 534.6v-76.38M992.25 534.6v-75.71M996.37 534.6v-71.23M1000.48 534.6v-70.78M1004.6 534.6v-69.89M1008.72 534.6v-65.41M1012.83 534.6v-69.44M1016.95 534.6v-67.2M1021.07 534.6v-69.44M1025.18 534.6v-64.06M1029.3 534.6v-75.26M1033.42 534.6v-73.47M1037.54 534.6v-79.3M1041.65 534.6v-78.4M1045.77 534.6v-70.78M1049.89 534.6v-72.58M1054 534.6v-66.3M1058.12 534.6v-74.37M1062.24 534.6v-73.02M1066.35 534.6v-69.44M1070.47 534.6v-73.92M1074.59 534.6v-68.54M1078.71 534.6v-69.89M1082.82 534.6v-66.53M1086.94 534.6v-65.41M1091.06 534.6v-77.06M1095.17 534.6v-68.99"/>
<path fill="none" stroke="#9c3591" stroke-width="3.3" d="M197.67 534.6v-53.76M210.02 534.6v-54.21M218.25 534.6v-57.34M226.49 534.6v-55.55M234.72 534.6v-61.15M238.84 534.6v-61.38M242.95 534.6v-52.86M259.42 534.6v-44.13M263.54 534.6v-41.66M267.66 534.6v-41.22M271.77 534.6v-38.53M275.89 534.6v-38.53M284.12 534.6v-43.01M292.36 534.6v-59.58M296.47 534.6v-50.62M300.59 534.6v-55.33M304.71 534.6v-52.42M312.94 534.6v-53.76M317.06 534.6v-46.14M321.18 534.6v-51.97M325.29 534.6v-54.21M333.53 534.6v-43.9M337.64 534.6v-39.42M341.76 534.6v-45.47M345.88 534.6v-40.32M350 534.6v-46.59M354.11 534.6v-47.94M358.23 534.6v-50.18M362.35 534.6v-49.28M366.46 534.6v-53.31M374.7 534.6v-56.9M378.81 534.6v-65.18M382.93 534.6v-51.52M387.05 534.6v-59.36M395.28 534.6v-30.02M403.52 534.6v-40.32M415.87 534.6v-34.94M419.99 534.6v-40.1M428.22 534.6v-46.14M432.34 534.6v-37.18M436.45 534.6v-46.14M440.57 534.6v-47.04M444.69 534.6v-38.53M448.8 534.6v-50.62M457.04 534.6v-39.42M461.15 534.6v-34.27M465.27 534.6v-30.91M469.39 534.6v-30.46M477.62 534.6v-48.83M481.74 534.6v-34.05M485.86 534.6v-27.33M489.97 534.6v-42.11M494.09 534.6v-49.28M498.21 534.6v-46.59M506.44 534.6v-42.56M510.56 534.6v-40.77M518.79 534.6v-35.84M522.91 534.6v-28.22M527.03 534.6v-30.02M535.26 534.6v-34.94M539.38 534.6v-34.94M547.61 534.6v-59.36M551.73 534.6v-46.59M559.96 534.6v-42.56M568.2 534.6v-39.42M572.31 534.6v-51.52M576.43 534.6v-56.9M580.55 534.6v-58.24M584.66 534.6v-54.21M588.78 534.6v-49.28M597.02 534.6v-57.34M605.25 534.6v-45.25M609.37 534.6v-39.42M613.48 534.6v-38.53M617.6 534.6v-64.51M621.72 534.6v-44.8M625.84 534.6v-35.39M638.19 534.6v-31.36M650.54 534.6v-57.34M658.77 534.6v-46.59M667 534.6v-54.66M671.12 534.6v-46.59M675.24 534.6v-52.42M683.47 534.6v-66.75M687.59 534.6v-59.58M699.94 534.6v-55.33M704.06 534.6v-44.8M712.29 534.6v-60.03M724.64 534.6v-58.69M736.99 534.6v-65.18M741.11 534.6v-61.38M745.23 534.6v-59.58M749.34 534.6v-60.03M753.46 534.6v-46.14M757.58 534.6v-50.62M761.7 534.6v-55.1M765.81 534.6v-52.42M811.1 534.6v-51.52M938.73 534.6v-57.34"/>
<path class="ax" d="M189.8 445V534.6H1098M187.6 445h2.2M188.2 455h1.6M187.2 432.2h2"/>
<text class="b" font-size="14.8" transform="translate(178.47 539.75) scale(1.0400 1)" xml:space="preserve">0</text>
<text class="b" font-size="14.8" transform="translate(178.24 517.35) scale(1.0400 1)" xml:space="preserve">5</text>
<text class="b" font-size="14.8" transform="translate(169.93 494.95) scale(1.0400 1)" xml:space="preserve">10</text>
<text class="b" font-size="14.8" transform="translate(169.7 472.55) scale(1.0400 1)" xml:space="preserve">15</text>
<text class="b" font-size="14.8" transform="translate(169.93 450.15) scale(1.0400 1)" xml:space="preserve">20</text>
<text font-size="17.6" transform="translate(161.7 537.76) rotate(-90) scale(1.0347 1)" xml:space="preserve">Hb (mg/dL)</text>
<path class="ax" d="M1153.5 445V534.6M1151.4 534.6H1214.4M1151.6 445h1.9M1151.6 467.3h1.9M1151.6 490h1.9M1151.6 512.4h1.9M1168.6 534.6v2.4M1199.1 534.6v2.4"/>
<text class="b" font-size="14.8" transform="translate(1141.57 539.75) scale(1.0400 1)" xml:space="preserve">0</text>
<text class="b" font-size="14.8" transform="translate(1141.34 517.35) scale(1.0400 1)" xml:space="preserve">5</text>
<text class="b" font-size="14.8" transform="translate(1133.03 494.95) scale(1.0400 1)" xml:space="preserve">10</text>
<text class="b" font-size="14.8" transform="translate(1132.8 472.55) scale(1.0400 1)" xml:space="preserve">15</text>
<text class="b" font-size="14.8" transform="translate(1133.03 450.15) scale(1.0400 1)" xml:space="preserve">20</text>
<text font-size="17.6" transform="translate(1121.7 537.76) rotate(-90) scale(1.0347 1)" xml:space="preserve">Hb (mg/dL)</text>
<path class="ax" d="M1168.6 467.3V506.9M1163.5 467.3h10.2M1163.5 506.9h10.2M1199.1 454.6V504.4M1194 454.6h10.4M1194 504.4h10.4"/>
<rect x="1158.2" y="479.4" width="20.9" height="14.1" fill="#a03a96" stroke="#8a8a8a" stroke-width="0.9"/>
<rect x="1188.6" y="463.8" width="21.1" height="16.8" fill="#29c0f0" stroke="#8a8a8a" stroke-width="0.9"/>
<path class="ax" d="M1158.2 486.2h20.9M1188.6 468.1h21.1"/>
<text style="fill:#111" font-size="19.5" transform="translate(1157.31 472.7) scale(0.9807 1)" xml:space="preserve" stroke="#111" stroke-width="0.35">***</text>
<text class="b" font-size="20.2" transform="translate(1104.59 113.8) scale(1.0177 1)" xml:space="preserve">TB vs. uninfected</text>
<rect x="1099.4" y="122.7" width="202.7" height="10.8" fill="#ddf0f6"/>
<rect x="1099.4" y="151.97" width="202.7" height="10.8" fill="#ddf0f6"/>
<rect x="1099.4" y="181.24" width="202.7" height="10.8" fill="#ddf0f6"/>
<rect x="1099.4" y="210.51" width="202.7" height="10.8" fill="#ddf0f6"/>
<rect x="1099.4" y="239.78" width="202.7" height="10.8" fill="#ddf0f6"/>
<rect x="1099.4" y="269.05" width="202.7" height="10.8" fill="#ddf0f6"/>
<rect x="1099.4" y="298.32" width="202.7" height="10.8" fill="#ddf0f6"/>
<rect x="1099.4" y="327.59" width="202.7" height="10.8" fill="#ddf0f6"/>
<rect x="1099.4" y="356.86" width="202.7" height="10.8" fill="#ddf0f6"/>
<rect x="1099.4" y="386.13" width="202.7" height="10.8" fill="#ddf0f6"/>
<rect x="1248.48" y="123.1" width="9.02" height="10" fill="#7d4fa4"/>
<text style="fill:#4a4a4a" font-size="12" transform="translate(1103.98 131.7) scale(0.9782 1)" xml:space="preserve">hemoglobin</text>
<rect x="1249.19" y="137.74" width="8.31" height="10" fill="#7d4fa4"/>
<text style="fill:#4a4a4a" font-size="12" transform="translate(1104.8 146.34) scale(0.9685 1)" xml:space="preserve">Albumin</text>
<rect x="1248.48" y="152.37" width="9.02" height="10" fill="#7d4fa4"/>
<text style="fill:#4a4a4a" font-size="12" transform="translate(1104.57 160.97) scale(0.9678 1)" xml:space="preserve">Transferrin</text>
<rect x="1251.14" y="167.01" width="6.36" height="10" fill="#7d4fa4"/>
<text style="fill:#4a4a4a" font-size="12" transform="translate(1103.86 175.61) scale(0.9764 1)" xml:space="preserve">HDL cholesterol</text>
<rect x="1254.32" y="181.64" width="3.18" height="10" fill="#7d4fa4"/>
<text style="fill:#4a4a4a" font-size="12" transform="translate(1103.92 190.24) scale(0.9769 1)" xml:space="preserve">Urea</text>
<rect x="1256.44" y="196.28" width="1.06" height="10" fill="#7d4fa4"/>
<text style="fill:#4a4a4a" font-size="12" transform="translate(1104.21 204.88) scale(0.9753 1)" xml:space="preserve">Creatinine</text>
<text style="fill:#4a4a4a" font-size="12" transform="translate(1104.21 219.51) scale(0.9804 1)" xml:space="preserve">Glucose</text>
<text style="fill:#4a4a4a" font-size="12" transform="translate(1103.86 234.14) scale(0.9793 1)" xml:space="preserve">LDL cholesterol</text>
<rect x="1257.5" y="240.18" width="13.44" height="10" fill="#7d4fa4"/>
<text style="fill:#4a4a4a" font-size="12" transform="translate(1103.84 248.78) scale(1.0006 1)" xml:space="preserve">Ferritin</text>
<text style="fill:#4a4a4a" font-size="12" transform="translate(1104.57 263.42) scale(0.9641 1)" xml:space="preserve">Triglycerides</text>
<text style="fill:#4a4a4a" font-size="12" transform="translate(1103.82 278.05) scale(1.0190 1)" xml:space="preserve">LDH</text>
<rect x="1257.5" y="284.08" width="15.03" height="10" fill="#7d4fa4"/>
<text style="fill:#4a4a4a" font-size="12" transform="translate(1104.22 292.69) scale(0.9654 1)" xml:space="preserve">Gamma-GT</text>
<rect x="1257.5" y="298.72" width="2.12" height="10" fill="#7d4fa4"/>
<text style="fill:#4a4a4a" font-size="12" transform="translate(1104.8 307.32) scale(0.9605 1)" xml:space="preserve">Alkaline Phosphatase</text>
<text style="fill:#4a4a4a" font-size="12" transform="translate(1104.8 321.95) scale(0.9626 1)" xml:space="preserve">ALT</text>
<text style="fill:#4a4a4a" font-size="12" transform="translate(1104.8 336.59) scale(0.9177 1)" xml:space="preserve">AST</text>
<rect x="1247.25" y="342.62" width="10.25" height="10" fill="#7d4fa4"/>
<text style="fill:#4a4a4a" font-size="12" transform="translate(1104.57 351.23) scale(0.9652 1)" xml:space="preserve">Total bilirubin</text>
<rect x="1257.5" y="357.26" width="44.55" height="10" fill="#7d4fa4"/>
<text style="fill:#4a4a4a" font-size="12" transform="translate(1104.21 365.86) scale(0.9826 1)" xml:space="preserve">CRP</text>
<rect x="1257.5" y="371.89" width="26.87" height="10" fill="#7d4fa4"/>
<text style="fill:#4a4a4a" font-size="12" transform="translate(1103.85 380.5) scale(0.9845 1)" xml:space="preserve">ESR</text>
<rect x="1257.5" y="386.53" width="13.44" height="10" fill="#7d4fa4"/>
<text style="fill:#4a4a4a" font-size="12" transform="translate(1103.91 395.13) scale(0.9844 1)" xml:space="preserve">Uric acid</text>
<path class="ax" style="stroke:#8a8a8a;stroke-width:1.1" d="M1102.6 120.7H1302.2"/>
<path class="ax" style="stroke:#7a7a7a;stroke-width:1.1" d="M1257.5 120.7V403M1213.5 402V398.5H1302.1V402"/>
<text class="b" font-size="15" transform="translate(1197.48 416.9) scale(1.0312 1)" xml:space="preserve">-2.5</text>
<text class="b" font-size="15" transform="translate(1246.98 416.9) scale(1.0331 1)" xml:space="preserve">0.0</text>
<text class="b" font-size="15" transform="translate(1292.08 416.9) scale(0.9975 1)" xml:space="preserve">2.5</text>
<text font-size="17.6" transform="translate(1172.23 435.3) scale(1.0174 1)" xml:space="preserve">fold-difference (Log<tspan font-size="11" dy="5.2">2</tspan><tspan dy="-5.2">)</tspan></text>
<rect x="1421.8" y="37.4" width="207.1" height="220.1" fill="#fff" stroke="#a4a4aa" stroke-width="1.35"/>
<path fill="none" stroke="#6e6e6e" stroke-width="2.7" stroke-dasharray="1.05 0.95" d="M1526.6 39.9V256.5M1424.3 147.6H1625.9"/>
<path class="ax" style="stroke:#a0a0a6;stroke-width:1.2" d="M1424.6 257.5v2.2M1421.8 256.6h-2.2M1445 257.5v4M1421.8 234.8h-4M1465.4 257.5v2.2M1421.8 213h-2.2M1485.8 257.5v4M1421.8 191.2h-4M1506.2 257.5v2.2M1421.8 169.4h-2.2M1526.6 257.5v4M1421.8 147.6h-4M1547 257.5v2.2M1421.8 125.8h-2.2M1567.4 257.5v4M1421.8 104h-4M1587.8 257.5v2.2M1421.8 82.2h-2.2M1608.2 257.5v4M1421.8 60.4h-4M1628.6 257.5v2.2M1421.8 38.6h-2.2"/>
<text class="b" font-size="15" transform="translate(1394.59 240.05) scale(1.0300 1)" xml:space="preserve">-10</text>
<text class="b" font-size="15" transform="translate(1402.94 196.45) scale(1.0300 1)" xml:space="preserve">-5</text>
<text class="b" font-size="15" transform="translate(1408.34 152.85) scale(1.0300 1)" xml:space="preserve">0</text>
<text class="b" font-size="15" transform="translate(1408.11 109.25) scale(1.0300 1)" xml:space="preserve">5</text>
<text class="b" font-size="15" transform="translate(1399.77 65.65) scale(1.0300 1)" xml:space="preserve">10</text>
<text class="b" font-size="15.2" transform="translate(1431.87 274.9) scale(1.0314 1)" xml:space="preserve">-10</text>
<text class="b" font-size="15.2" transform="translate(1474.76 274.9) scale(1.0526 1)" xml:space="preserve">-5</text>
<text class="b" font-size="15.2" transform="translate(1522.06 274.9) scale(1.0526 1)" xml:space="preserve">0</text>
<text class="b" font-size="15.2" transform="translate(1563.23 274.9) scale(1.0395 1)" xml:space="preserve">5</text>
<text class="b" font-size="15.2" transform="translate(1601.04 274.9) scale(1.0552 1)" xml:space="preserve">10</text>
<text font-size="17.3" transform="translate(1436.4 294) scale(1.0457 1)" xml:space="preserve">Component 1  (30.3%)</text>
<text font-size="17.6" transform="translate(1385.6 243.8) rotate(-90) scale(1.0280 1)" xml:space="preserve">Component 2  (17.2 %)</text>
<g fill="#29c0f0"><circle cx="1507.53" cy="140.88" r="1.55"/><circle cx="1507.65" cy="139.94" r="1.55"/><circle cx="1503.31" cy="140.01" r="1.55"/><circle cx="1507.8" cy="131.79" r="1.55"/><circle cx="1507.5" cy="138.71" r="1.55"/><circle cx="1508.71" cy="142.34" r="1.55"/><circle cx="1510.59" cy="139.02" r="1.55"/><circle cx="1513.79" cy="143.57" r="1.55"/><circle cx="1503.6" cy="135.96" r="1.55"/><circle cx="1512.09" cy="137.98" r="1.55"/><circle cx="1505.8" cy="132.04" r="1.55"/><circle cx="1512.04" cy="135.61" r="1.55"/><circle cx="1501.8" cy="135.19" r="1.55"/><circle cx="1503.29" cy="140.87" r="1.55"/><circle cx="1503.81" cy="144" r="1.55"/><circle cx="1509.68" cy="132.83" r="1.55"/><circle cx="1505.15" cy="136.09" r="1.55"/><circle cx="1501.98" cy="141.3" r="1.55"/><circle cx="1509.49" cy="137.46" r="1.55"/><circle cx="1515.22" cy="139.5" r="1.55"/><circle cx="1513.24" cy="134.03" r="1.55"/><circle cx="1509.62" cy="138.37" r="1.55"/><circle cx="1504.49" cy="143.51" r="1.55"/><circle cx="1513.33" cy="141.55" r="1.55"/><circle cx="1503.55" cy="143.8" r="1.55"/><circle cx="1504.08" cy="140.87" r="1.55"/><circle cx="1504.5" cy="138.81" r="1.55"/><circle cx="1502.93" cy="137.41" r="1.55"/><circle cx="1511.27" cy="141.33" r="1.55"/><circle cx="1501.02" cy="142.27" r="1.55"/><circle cx="1513.9" cy="141.12" r="1.55"/><circle cx="1506.49" cy="141.29" r="1.55"/><circle cx="1514.44" cy="143.94" r="1.55"/><circle cx="1511.94" cy="141.26" r="1.55"/><circle cx="1509.69" cy="139.45" r="1.55"/><circle cx="1511.22" cy="139.74" r="1.55"/><circle cx="1514.21" cy="135.36" r="1.55"/><circle cx="1505.41" cy="143.03" r="1.55"/><circle cx="1510.53" cy="138.74" r="1.55"/><circle cx="1505.79" cy="142.81" r="1.55"/><circle cx="1513.82" cy="137.69" r="1.55"/><circle cx="1504.67" cy="133.19" r="1.55"/><circle cx="1502.96" cy="138.9" r="1.55"/><circle cx="1503.59" cy="138.23" r="1.55"/><circle cx="1507.73" cy="136.44" r="1.55"/><circle cx="1515.52" cy="138.93" r="1.55"/><circle cx="1508.9" cy="136.33" r="1.55"/><circle cx="1503.46" cy="133.27" r="1.55"/><circle cx="1510.06" cy="138.82" r="1.55"/><circle cx="1510.46" cy="134.33" r="1.55"/><circle cx="1508.12" cy="143.68" r="1.55"/><circle cx="1504.37" cy="136.99" r="1.55"/><circle cx="1508.68" cy="141.87" r="1.55"/><circle cx="1510.92" cy="133.07" r="1.55"/><circle cx="1510.84" cy="147.24" r="1.55"/><circle cx="1510.74" cy="143.75" r="1.55"/><circle cx="1505.06" cy="132.22" r="1.55"/><circle cx="1509.42" cy="144.66" r="1.55"/><circle cx="1508.82" cy="143.85" r="1.55"/><circle cx="1511.89" cy="147.89" r="1.55"/><circle cx="1503.91" cy="140.28" r="1.55"/><circle cx="1511.95" cy="142.32" r="1.55"/><circle cx="1513.57" cy="140.88" r="1.55"/><circle cx="1508.67" cy="141.12" r="1.55"/><circle cx="1508.72" cy="139.85" r="1.55"/><circle cx="1508.23" cy="137.99" r="1.55"/><circle cx="1509.12" cy="139.63" r="1.55"/><circle cx="1501.53" cy="140.5" r="1.55"/><circle cx="1504.55" cy="139.31" r="1.55"/><circle cx="1507.47" cy="136.47" r="1.55"/><circle cx="1510.75" cy="147.52" r="1.55"/><circle cx="1502.94" cy="134.84" r="1.55"/><circle cx="1505.15" cy="137.17" r="1.55"/><circle cx="1502.48" cy="143.99" r="1.55"/><circle cx="1507.87" cy="135.26" r="1.55"/><circle cx="1508.51" cy="138.65" r="1.55"/><circle cx="1506.88" cy="140.33" r="1.55"/><circle cx="1503.83" cy="142.18" r="1.55"/><circle cx="1509.26" cy="146.17" r="1.55"/><circle cx="1504.55" cy="143.91" r="1.55"/><circle cx="1507.48" cy="145.06" r="1.55"/><circle cx="1507" cy="143.16" r="1.55"/><circle cx="1508.72" cy="144.48" r="1.55"/><circle cx="1510.46" cy="134.15" r="1.55"/><circle cx="1508.99" cy="140.06" r="1.55"/><circle cx="1554.7" cy="122.88" r="1.55"/><circle cx="1558.67" cy="131.39" r="1.55"/><circle cx="1571.73" cy="118.57" r="1.55"/><circle cx="1528.37" cy="140.47" r="1.55"/><circle cx="1533.7" cy="145.47" r="1.55"/><circle cx="1554.7" cy="145.47" r="1.55"/><circle cx="1556.63" cy="150.35" r="1.55"/><circle cx="1534.84" cy="151.14" r="1.55"/><circle cx="1524.05" cy="149.56" r="1.55"/><circle cx="1513.84" cy="152.62" r="1.55"/><circle cx="1517.81" cy="158.3" r="1.55"/><circle cx="1521.21" cy="156.59" r="1.55"/><circle cx="1527.46" cy="154.55" r="1.55"/><circle cx="1531.43" cy="152.62" r="1.55"/><circle cx="1531.43" cy="157.73" r="1.55"/><circle cx="1525.19" cy="158.86" r="1.55"/><circle cx="1536.54" cy="158.86" r="1.55"/><circle cx="1543.35" cy="158.86" r="1.55"/><circle cx="1550.73" cy="153.75" r="1.55"/><circle cx="1553" cy="160.57" r="1.55"/><circle cx="1550.16" cy="163.97" r="1.55"/><circle cx="1544.48" cy="165.11" r="1.55"/><circle cx="1546.75" cy="169.65" r="1.55"/><circle cx="1554.7" cy="167.94" r="1.55"/><circle cx="1538.24" cy="161.7" r="1.55"/><circle cx="1508.16" cy="150.01" r="1.55"/><circle cx="1513.27" cy="126.85" r="1.55"/><circle cx="1512.47" cy="127.76" r="1.55"/><circle cx="1497.72" cy="140.36" r="1.55"/><circle cx="1502.26" cy="132.53" r="1.55"/><circle cx="1517.24" cy="141.84" r="1.55"/><circle cx="1515.54" cy="145.24" r="1.55"/><circle cx="1544.7" cy="113.2" r="1.55"/></g>
<g fill="#8d2a8d"><circle cx="1529.39" cy="132.53" r="1.55"/><circle cx="1548.46" cy="131.28" r="1.55"/><circle cx="1557.54" cy="128.56" r="1.55"/><circle cx="1516.11" cy="137.3" r="1.55"/><circle cx="1543.35" cy="139" r="1.55"/><circle cx="1546.19" cy="140.36" r="1.55"/><circle cx="1557.54" cy="142.97" r="1.55"/><circle cx="1524.62" cy="141.5" r="1.55"/><circle cx="1530.3" cy="143.2" r="1.55"/><circle cx="1520.08" cy="144.11" r="1.55"/><circle cx="1541.08" cy="145.24" r="1.55"/><circle cx="1535.4" cy="145.81" r="1.55"/><circle cx="1537.11" cy="148.65" r="1.55"/><circle cx="1545.05" cy="150.01" r="1.55"/><circle cx="1561.17" cy="150.12" r="1.55"/><circle cx="1512.7" cy="150.35" r="1.55"/><circle cx="1517.81" cy="150.92" r="1.55"/><circle cx="1520.65" cy="152.05" r="1.55"/><circle cx="1524.05" cy="152.62" r="1.55"/><circle cx="1507.03" cy="151.48" r="1.55"/><circle cx="1510.43" cy="154.89" r="1.55"/><circle cx="1516.67" cy="160" r="1.55"/><circle cx="1522.35" cy="160.57" r="1.55"/><circle cx="1527.46" cy="163.18" r="1.55"/><circle cx="1528.59" cy="167.38" r="1.55"/><circle cx="1532.57" cy="166.81" r="1.55"/><circle cx="1535.4" cy="169.99" r="1.55"/><circle cx="1543.35" cy="154.32" r="1.55"/><circle cx="1537.67" cy="154.32" r="1.55"/><circle cx="1533.13" cy="155.46" r="1.55"/><circle cx="1529.73" cy="157.16" r="1.55"/><circle cx="1533.13" cy="160" r="1.55"/><circle cx="1540.51" cy="158.3" r="1.55"/><circle cx="1543.35" cy="161.13" r="1.55"/><circle cx="1547.89" cy="158.3" r="1.55"/><circle cx="1551.29" cy="156.59" r="1.55"/><circle cx="1554.13" cy="154.89" r="1.55"/><circle cx="1555.27" cy="161.7" r="1.55"/><circle cx="1552.43" cy="163.4" r="1.55"/><circle cx="1547.32" cy="164.54" r="1.55"/><circle cx="1541.65" cy="166.58" r="1.55"/><circle cx="1543.35" cy="167.94" r="1.55"/><circle cx="1552.43" cy="167.38" r="1.55"/><circle cx="1554.7" cy="166.24" r="1.55"/><circle cx="1552.2" cy="170.21" r="1.55"/><circle cx="1555.83" cy="174.98" r="1.55"/><circle cx="1575.36" cy="161.93" r="1.55"/><circle cx="1529.73" cy="158.86" r="1.55"/><circle cx="1524.05" cy="154.32" r="1.55"/><circle cx="1521.78" cy="146.38" r="1.55"/><circle cx="1525.19" cy="145.24" r="1.55"/><circle cx="1542.21" cy="157.73" r="1.55"/><circle cx="1537.67" cy="161.13" r="1.55"/><circle cx="1522.92" cy="159.43" r="1.55"/><circle cx="1530.86" cy="161.7" r="1.55"/><circle cx="1549.02" cy="160.57" r="1.55"/><circle cx="1520.08" cy="154.1" r="1.55"/><circle cx="1526.89" cy="147.74" r="1.55"/><circle cx="1516.33" cy="148.42" r="1.55"/><circle cx="1592.6" cy="102.1" r="1.55"/><circle cx="1588.7" cy="117.7" r="1.55"/><circle cx="1562.1" cy="109.6" r="1.55"/><circle cx="1524.05" cy="150.35" r="1.55"/><circle cx="1526.1" cy="152.05" r="1.55"/><circle cx="1527.46" cy="157.16" r="1.55"/><circle cx="1525.41" cy="160.22" r="1.55"/><circle cx="1529.95" cy="160.22" r="1.55"/><circle cx="1532.22" cy="157.95" r="1.55"/><circle cx="1528.82" cy="154.1" r="1.55"/><circle cx="1523.48" cy="156.59" r="1.55"/></g>
<rect x="1422.3" y="304.4" width="206.6" height="220.3" fill="#fff" stroke="#a4a4aa" stroke-width="1.35"/>
<path fill="none" stroke="#6e6e6e" stroke-width="2.7" stroke-dasharray="1.05 0.95" d="M1525.7 306.9V523.7M1424.8 414.1H1625.9"/>
<path class="ax" style="stroke:#a0a0a6;stroke-width:1.2" d="M1424.55 524.7v3.7M1422.3 522.4h-3.7M1450.09 524.7v2M1422.3 495.33h-2M1475.62 524.7v3.7M1422.3 468.25h-3.7M1501.16 524.7v2M1422.3 441.18h-2M1526.7 524.7v3.7M1422.3 414.1h-3.7M1552.24 524.7v2M1422.3 387.03h-2M1577.78 524.7v3.7M1422.3 359.95h-3.7M1603.31 524.7v2M1422.3 332.88h-2M1628.85 524.7v3.7M1422.3 305.8h-3.7"/>
<text class="b" font-size="15.2" transform="translate(1405.08 539.1) scale(1.0172 1)" xml:space="preserve">−1.0</text>
<text class="b" font-size="15.2" transform="translate(1457.49 539.1) scale(0.9989 1)" xml:space="preserve">−0.5</text>
<text class="b" font-size="15.2" transform="translate(1516.18 539.1) scale(1.0195 1)" xml:space="preserve">0.0</text>
<text class="b" font-size="15.2" transform="translate(1567.29 539.1) scale(1.0079 1)" xml:space="preserve">0.5</text>
<text class="b" font-size="15.2" transform="translate(1619.55 539.1) scale(1.0404 1)" xml:space="preserve">1.0</text>
<text class="b" font-size="15" transform="translate(1389.74 526.2) scale(1.0300 1)" xml:space="preserve">-1.0</text>
<text class="b" font-size="15" transform="translate(1389.51 473.55) scale(1.0300 1)" xml:space="preserve">-0.5</text>
<text class="b" font-size="15" transform="translate(1395.34 419.4) scale(1.0300 1)" xml:space="preserve">0.0</text>
<text class="b" font-size="15" transform="translate(1395.11 365.25) scale(1.0300 1)" xml:space="preserve">0.5</text>
<text class="b" font-size="15" transform="translate(1395.34 311.1) scale(1.0300 1)" xml:space="preserve">1.0</text>
<text font-size="17.3" transform="translate(1436.6 559.3) scale(1.0439 1)" xml:space="preserve">Component 1  (30.3%)</text>
<text font-size="17.6" transform="translate(1385.6 503.2) rotate(-90) scale(1.0280 1)" xml:space="preserve">Component 2  (17.2 %)</text>
<path fill="none" stroke="#626262" stroke-width="1.3" d="M1525.7 414.1L1541.14 332.65M1525.7 414.1L1563.04 333.72M1525.7 414.1L1569.55 334.83M1525.7 414.1L1544.99 370.15M1525.7 414.1L1557.44 366.2M1525.7 414.1L1583.49 371.19M1525.7 414.1L1598.14 376.29M1525.7 414.1L1590.59 383.09M1525.7 414.1L1449.98 369.23M1525.7 414.1L1439.79 380.01M1525.7 414.1L1450.96 390.7M1525.7 414.1L1465.81 391.56M1525.7 414.1L1518.2 404.1M1525.7 414.1L1459.29 408.17M1525.7 414.1L1523.63 412.95M1525.7 414.1L1562.96 434.08M1525.7 414.1L1596.32 449.55M1525.7 414.1L1593.52 454.56M1525.7 414.1L1551.13 382.34M1525.7 414.1L1442.91 393.23"/>
<path fill="#626262" d="M1541.7 329.7L1543.1 336.28L1537.99 335.31ZM1564.3 331L1564.05 337.72L1559.33 335.53ZM1571 332.2L1570.27 338.88L1565.72 336.37ZM1546.2 367.4L1546.09 374.12L1541.33 372.03ZM1559.1 363.7L1557.84 370.3L1553.51 367.43ZM1585.9 369.4L1582.47 375.18L1579.37 371.01ZM1600.8 374.9L1596.51 380.07L1594.1 375.46ZM1593.3 381.8L1588.83 386.82L1586.58 382.13ZM1447.4 367.7L1454.06 368.62L1451.41 373.1ZM1437 378.9L1443.72 378.77L1441.8 383.6ZM1448.1 389.8L1454.79 389.17L1453.24 394.13ZM1463 390.5L1469.72 390.25L1467.89 395.12ZM1516.4 401.7L1522.2 405.1L1518.04 408.22ZM1456.3 407.9L1462.71 405.86L1462.24 411.04ZM1521 411.5L1527.68 412.23L1525.17 416.78ZM1565.6 435.5L1558.91 434.86L1561.37 430.28ZM1599 450.9L1592.29 450.44L1594.63 445.79ZM1596.1 456.1L1589.44 455.16L1592.11 450.69ZM1553 380L1551.15 386.46L1547.1 383.22ZM1440 392.5L1446.65 391.49L1445.38 396.54Z"/>
<text class="b" style="fill:#2e2e2e" font-size="10.6" transform="translate(1484.8 335.2) scale(0.9193 1)" xml:space="preserve" stroke="#2e2e2e" stroke-width="0.2">Total bilirubin</text>
<text class="b" style="fill:#2e2e2e" font-size="10.6" transform="translate(1552.65 329) scale(0.9562 1)" xml:space="preserve" stroke="#2e2e2e" stroke-width="0.2">ALT</text>
<text class="b" style="fill:#2e2e2e" font-size="10.6" transform="translate(1572.76 337.2) scale(0.9170 1)" xml:space="preserve" stroke="#2e2e2e" stroke-width="0.2">AST</text>
<text class="b" style="fill:#2e2e2e" font-size="10.6" transform="translate(1494.5 366.4) scale(0.9172 1)" xml:space="preserve" stroke="#2e2e2e" stroke-width="0.2">Triglycerides</text>
<text class="b" style="fill:#2e2e2e" font-size="10.6" transform="translate(1559.56 361.2) scale(0.9171 1)" xml:space="preserve" stroke="#2e2e2e" stroke-width="0.2">Alkaline Phosp.</text>
<text class="b" style="fill:#2e2e2e" font-size="10.6" transform="translate(1586.94 371.9) scale(0.9507 1)" xml:space="preserve" stroke="#2e2e2e" stroke-width="0.2">LDH</text>
<text class="b" style="fill:#2e2e2e" font-size="10.6" transform="translate(1598.36 384.8) scale(0.9320 1)" xml:space="preserve" stroke="#2e2e2e" stroke-width="0.2">Ferritin</text>
<text class="b" style="fill:#2e2e2e" font-size="10.6" transform="translate(1580.01 394.2) scale(0.9293 1)" xml:space="preserve" stroke="#2e2e2e" stroke-width="0.2">Gamma-GT</text>
<text class="b" style="fill:#2e2e2e" font-size="10.6" transform="translate(1438.84 365.7) scale(0.9549 1)" xml:space="preserve" stroke="#2e2e2e" stroke-width="0.2">Hb</text>
<text class="b" style="fill:#2e2e2e" font-size="10.6" transform="translate(1423.06 377.4) scale(0.9085 1)" xml:space="preserve" stroke="#2e2e2e" stroke-width="0.2">Albumin</text>
<text class="b" style="fill:#2e2e2e" font-size="10.6" transform="translate(1474.43 384.3) scale(0.9022 1)" xml:space="preserve" stroke="#2e2e2e" stroke-width="0.2">Urea</text>
<text class="b" style="fill:#2e2e2e" font-size="10.6" transform="translate(1425.2 388) scale(0.9095 1)" xml:space="preserve" stroke="#2e2e2e" stroke-width="0.2">Transferrin</text>
<text class="b" style="fill:#2e2e2e" font-size="10.6" transform="translate(1487.79 399.2) scale(0.8909 1)" xml:space="preserve" stroke="#2e2e2e" stroke-width="0.2">LDL chol.</text>
<text class="b" style="fill:#2e2e2e" font-size="10.6" transform="translate(1424.91 402.4) scale(0.9189 1)" xml:space="preserve" stroke="#2e2e2e" stroke-width="0.2">Creatinine</text>
<text class="b" style="fill:#2e2e2e" font-size="10.6" transform="translate(1433.36 421.5) scale(0.9277 1)" xml:space="preserve" stroke="#2e2e2e" stroke-width="0.2">HDL chol.</text>
<text class="b" style="fill:#2e2e2e" font-size="10.6" transform="translate(1491.22 421.5) scale(0.9068 1)" xml:space="preserve" stroke="#2e2e2e" stroke-width="0.2">Glucose</text>
<text class="b" style="fill:#2e2e2e" font-size="10.6" transform="translate(1565 434.9) scale(0.9365 1)" xml:space="preserve" stroke="#2e2e2e" stroke-width="0.2">Uric acid</text>
<text class="b" style="fill:#2e2e2e" font-size="10.6" transform="translate(1599.51 451.7) scale(0.9295 1)" xml:space="preserve" stroke="#2e2e2e" stroke-width="0.2">CRP</text>
<text class="b" style="fill:#2e2e2e" font-size="10.6" transform="translate(1580.96 464.5) scale(0.9290 1)" xml:space="preserve" stroke="#2e2e2e" stroke-width="0.2">ESR</text>
</svg></body></html>
